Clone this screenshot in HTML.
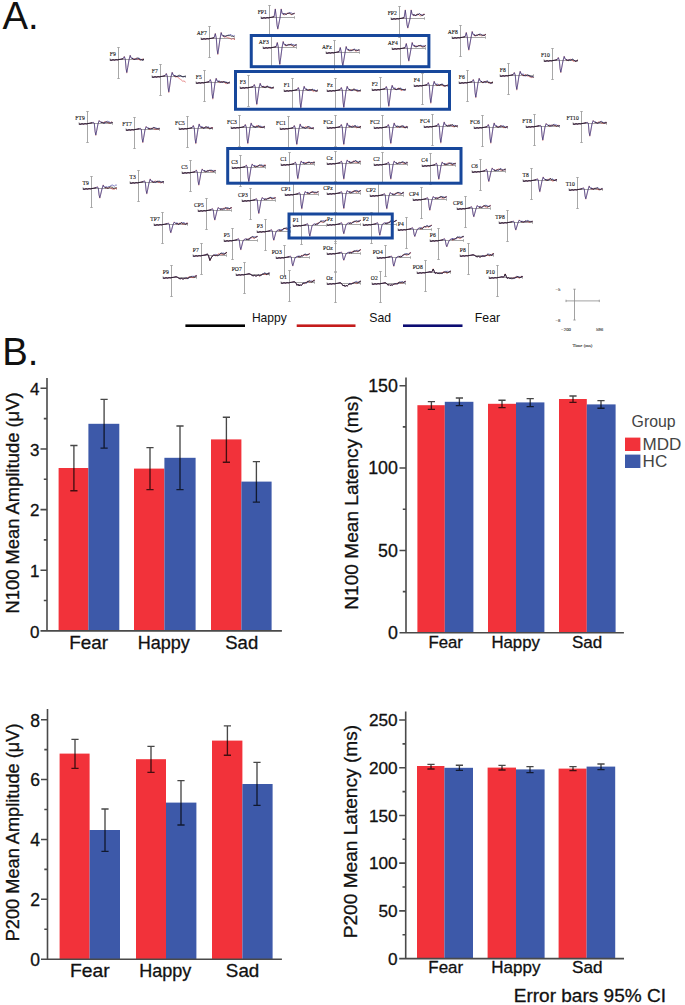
<!DOCTYPE html>
<html><head><meta charset="utf-8"><title>ERP figure</title>
<style>
html,body{margin:0;padding:0;background:#fff;}
body{width:685px;height:1005px;overflow:hidden;}
svg{display:block;}
text{font-family:"Liberation Sans",sans-serif;}
.el{font-family:"Liberation Serif",serif;font-size:7.0px;fill:#111;stroke:#111;stroke-width:0.14px;text-anchor:end;}
.sc{font-family:"Liberation Serif",serif;font-size:4.8px;fill:#333;stroke:#333;stroke-width:0.1px;}
.lg{font-size:12.5px;fill:#111;}
.lg2{fill:#444;}
.tk{fill:#111;stroke:#111;stroke-width:0.3px;}
.big{font-size:38.3px;fill:#111;}
</style></head><body>
<svg width="685" height="1005" viewBox="0 0 685 1005">
<rect width="685" height="1005" fill="#fff"/>
<g id="topo">
<path d="M261 17.5H294.5M261 16.3V18.7M294.5 16.3V18.7M269.5 5.5V36.5M268.3 5.5H270.7M268.3 36.5H270.7M391 18.5H424.5M391 17.3V19.7M424.5 17.3V19.7M399.5 6.5V37.5M398.3 6.5H400.7M398.3 37.5H400.7M201 38.5H234.5M201 37.3V39.7M234.5 37.3V39.7M209.5 26.5V57.5M208.3 26.5H210.7M208.3 57.5H210.7M263 47.5H296.5M263 46.3V48.7M296.5 46.3V48.7M271.5 35.5V66.5M270.3 35.5H272.7M270.3 66.5H272.7M326 52.5H359.5M326 51.3V53.7M359.5 51.3V53.7M334.5 40.5V71.5M333.3 40.5H335.7M333.3 71.5H335.7M392 48.5H425.5M392 47.3V49.7M425.5 47.3V49.7M400.5 36.5V67.5M399.3 36.5H401.7M399.3 67.5H401.7M452 37.5H485.5M452 36.3V38.7M485.5 36.3V38.7M460.5 25.5V56.5M459.3 25.5H461.7M459.3 56.5H461.7M110 59.5H143.5M110 58.3V60.7M143.5 58.3V60.7M118.5 47.5V78.5M117.3 47.5H119.7M117.3 78.5H119.7M152 76.5H185.5M152 75.3V77.7M185.5 75.3V77.7M160.5 64.5V95.5M159.3 64.5H161.7M159.3 95.5H161.7M196 82.5H229.5M196 81.3V83.7M229.5 81.3V83.7M204.5 70.5V101.5M203.3 70.5H205.7M203.3 101.5H205.7M240 87.5H273.5M240 86.3V88.7M273.5 86.3V88.7M248.5 75.5V106.5M247.3 75.5H249.7M247.3 106.5H249.7M284 90.5H317.5M284 89.3V91.7M317.5 89.3V91.7M292.5 78.5V109.5M291.3 78.5H293.7M291.3 109.5H293.7M327 90.5H360.5M327 89.3V91.7M360.5 89.3V91.7M335.5 78.5V109.5M334.3 78.5H336.7M334.3 109.5H336.7M372 89.5H405.5M372 88.3V90.7M405.5 88.3V90.7M380.5 77.5V108.5M379.3 77.5H381.7M379.3 108.5H381.7M414 85.5H447.5M414 84.3V86.7M447.5 84.3V86.7M422.5 73.5V104.5M421.3 73.5H423.7M421.3 104.5H423.7M459 82.5H492.5M459 81.3V83.7M492.5 81.3V83.7M467.5 70.5V101.5M466.3 70.5H468.7M466.3 101.5H468.7M500 75.5H533.5M500 74.3V76.7M533.5 74.3V76.7M508.5 63.5V94.5M507.3 63.5H509.7M507.3 94.5H509.7M544 60.5H577.5M544 59.3V61.7M577.5 59.3V61.7M552.5 48.5V79.5M551.3 48.5H553.7M551.3 79.5H553.7M79 123.5H112.5M79 122.3V124.7M112.5 122.3V124.7M87.5 111.5V142.5M86.3 111.5H88.7M86.3 142.5H88.7M126 129.5H159.5M126 128.3V130.7M159.5 128.3V130.7M134.5 117.5V148.5M133.3 117.5H135.7M133.3 148.5H135.7M179 128.5H212.5M179 127.3V129.7M212.5 127.3V129.7M187.5 116.5V147.5M186.3 116.5H188.7M186.3 147.5H188.7M231 127.5H264.5M231 126.3V128.7M264.5 126.3V128.7M239.5 115.5V146.5M238.3 115.5H240.7M238.3 146.5H240.7M280 128.5H313.5M280 127.3V129.7M313.5 127.3V129.7M288.5 116.5V147.5M287.3 116.5H289.7M287.3 147.5H289.7M327 127.5H360.5M327 126.3V128.7M360.5 126.3V128.7M335.5 115.5V146.5M334.3 115.5H336.7M334.3 146.5H336.7M374 127.5H407.5M374 126.3V128.7M407.5 126.3V128.7M382.5 115.5V146.5M381.3 115.5H383.7M381.3 146.5H383.7M424 126.5H457.5M424 125.3V127.7M457.5 125.3V127.7M432.5 114.5V145.5M431.3 114.5H433.7M431.3 145.5H433.7M474 127.5H507.5M474 126.3V128.7M507.5 126.3V128.7M482.5 115.5V146.5M481.3 115.5H483.7M481.3 146.5H483.7M526 126.5H559.5M526 125.3V127.7M559.5 125.3V127.7M534.5 114.5V145.5M533.3 114.5H535.7M533.3 145.5H535.7M573 123.5H606.5M573 122.3V124.7M606.5 122.3V124.7M581.5 111.5V142.5M580.3 111.5H582.7M580.3 142.5H582.7M83 188.5H116.5M83 187.3V189.7M116.5 187.3V189.7M91.5 176.5V207.5M90.3 176.5H92.7M90.3 207.5H92.7M130 182.5H163.5M130 181.3V183.7M163.5 181.3V183.7M138.5 170.5V201.5M137.3 170.5H139.7M137.3 201.5H139.7M182 172.5H215.5M182 171.3V173.7M215.5 171.3V173.7M190.5 160.5V191.5M189.3 160.5H191.7M189.3 191.5H191.7M232 167.5H265.5M232 166.3V168.7M265.5 166.3V168.7M240.5 155.5V186.5M239.3 155.5H241.7M239.3 186.5H241.7M281 164.5H314.5M281 163.3V165.7M314.5 163.3V165.7M289.5 152.5V183.5M288.3 152.5H290.7M288.3 183.5H290.7M327 163.5H360.5M327 162.3V164.7M360.5 162.3V164.7M335.5 151.5V182.5M334.3 151.5H336.7M334.3 182.5H336.7M374 164.5H407.5M374 163.3V165.7M407.5 163.3V165.7M382.5 152.5V183.5M381.3 152.5H383.7M381.3 183.5H383.7M422 165.5H455.5M422 164.3V166.7M455.5 164.3V166.7M430.5 153.5V184.5M429.3 153.5H431.7M429.3 184.5H431.7M472 171.5H505.5M472 170.3V172.7M505.5 170.3V172.7M480.5 159.5V190.5M479.3 159.5H481.7M479.3 190.5H481.7M523 180.5H556.5M523 179.3V181.7M556.5 179.3V181.7M531.5 168.5V199.5M530.3 168.5H532.7M530.3 199.5H532.7M569 189.5H602.5M569 188.3V190.7M602.5 188.3V190.7M577.5 177.5V208.5M576.3 177.5H578.7M576.3 208.5H578.7M154 224.5H187.5M154 223.3V225.7M187.5 223.3V225.7M162.5 212.5V243.5M161.3 212.5H163.7M161.3 243.5H163.7M198 210.5H231.5M198 209.3V211.7M231.5 209.3V211.7M206.5 198.5V229.5M205.3 198.5H207.7M205.3 229.5H207.7M242 200.5H275.5M242 199.3V201.7M275.5 199.3V201.7M250.5 188.5V219.5M249.3 188.5H251.7M249.3 219.5H251.7M285 194.5H318.5M285 193.3V195.7M318.5 193.3V195.7M293.5 182.5V213.5M292.3 182.5H294.7M292.3 213.5H294.7M327 193.5H360.5M327 192.3V194.7M360.5 192.3V194.7M335.5 181.5V212.5M334.3 181.5H336.7M334.3 212.5H336.7M370 195.5H403.5M370 194.3V196.7M403.5 194.3V196.7M378.5 183.5V214.5M377.3 183.5H379.7M377.3 214.5H379.7M413 199.5H446.5M413 198.3V200.7M446.5 198.3V200.7M421.5 187.5V218.5M420.3 187.5H422.7M420.3 218.5H422.7M457 208.5H490.5M457 207.3V209.7M490.5 207.3V209.7M465.5 196.5V227.5M464.3 196.5H466.7M464.3 227.5H466.7M499 222.5H532.5M499 221.3V223.7M532.5 221.3V223.7M507.5 210.5V241.5M506.3 210.5H508.7M506.3 241.5H508.7M193 255.5H226.5M193 254.3V256.7M226.5 254.3V256.7M201.5 243.5V274.5M200.3 243.5H202.7M200.3 274.5H202.7M224 240.5H257.5M224 239.3V241.7M257.5 239.3V241.7M232.5 228.5V259.5M231.3 228.5H233.7M231.3 259.5H233.7M257 231.5H290.5M257 230.3V232.7M290.5 230.3V232.7M265.5 219.5V250.5M264.3 219.5H266.7M264.3 250.5H266.7M293 225.5H326.5M293 224.3V226.7M326.5 224.3V226.7M301.5 213.5V244.5M300.3 213.5H302.7M300.3 244.5H302.7M327 224.5H360.5M327 223.3V225.7M360.5 223.3V225.7M335.5 212.5V243.5M334.3 212.5H336.7M334.3 243.5H336.7M363 224.5H396.5M363 223.3V225.7M396.5 223.3V225.7M371.5 212.5V243.5M370.3 212.5H372.7M370.3 243.5H372.7M398 229.5H431.5M398 228.3V230.7M431.5 228.3V230.7M406.5 217.5V248.5M405.3 217.5H407.7M405.3 248.5H407.7M430 240.5H463.5M430 239.3V241.7M463.5 239.3V241.7M438.5 228.5V259.5M437.3 228.5H439.7M437.3 259.5H439.7M460 255.5H493.5M460 254.3V256.7M493.5 254.3V256.7M468.5 243.5V274.5M467.3 243.5H469.7M467.3 274.5H469.7M163 277.5H196.5M163 276.3V278.7M196.5 276.3V278.7M171.5 265.5V296.5M170.3 265.5H172.7M170.3 296.5H172.7M489 277.5H522.5M489 276.3V278.7M522.5 276.3V278.7M497.5 265.5V296.5M496.3 265.5H498.7M496.3 296.5H498.7M236 274.5H269.5M236 273.3V275.7M269.5 273.3V275.7M244.5 262.5V293.5M243.3 262.5H245.7M243.3 293.5H245.7M276 257.5H309.5M276 256.3V258.7M309.5 256.3V258.7M284.5 245.5V276.5M283.3 245.5H285.7M283.3 276.5H285.7M327 253.5H360.5M327 252.3V254.7M360.5 252.3V254.7M335.5 241.5V272.5M334.3 241.5H336.7M334.3 272.5H336.7M377 257.5H410.5M377 256.3V258.7M410.5 256.3V258.7M385.5 245.5V276.5M384.3 245.5H386.7M384.3 276.5H386.7M417 272.5H450.5M417 271.3V273.7M450.5 271.3V273.7M425.5 260.5V291.5M424.3 260.5H426.7M424.3 291.5H426.7M281 282.5H314.5M281 281.3V283.7M314.5 281.3V283.7M289.5 270.5V301.5M288.3 270.5H290.7M288.3 301.5H290.7M327 283.5H360.5M327 282.3V284.7M360.5 282.3V284.7M335.5 271.5V302.5M334.3 271.5H336.7M334.3 302.5H336.7M372 283.5H405.5M372 282.3V284.7M405.5 282.3V284.7M380.5 271.5V302.5M379.3 271.5H381.7M379.3 302.5H381.7" stroke="#a2a2a2" stroke-width="0.95" fill="none"/>
<path d="M261 18 262.5 18.4 264 17.8 265.5 18.2 267 17.7 268.5 17.9 270 17.5 271.5 17.3 272.8 17 274.1 16.7M283.1 14 283.8 14.73 284.5 15.08 285.2 14.38 285.9 13.8 286.6 14.14 287.3 12.83 288 13.84 288.7 13.4 289.4 13.58 290.1 13.88 290.8 14.29 291.5 14.85 292.2 13.84 292.9 13.95 293.6 13.67 294.3 13.16 294.5 13.9" stroke="#d43030" stroke-width="0.65" fill="none" stroke-linejoin="round" stroke-opacity="0.85"/>
<path d="M274.1 16.7 275.3 8.68 276.3 17.3 277.1 25.87 277.8 29.46 278.7 24.92 280 17.8 281.2 8.68 282.2 13.6 283.1 14 283.8 14.73" stroke="#d43030" stroke-width="0.6" fill="none" stroke-linejoin="round" stroke-opacity="0.45"/>
<path d="M261 18 262.5 18.4 264 17.8 265.5 18.2 267 17.7 268.5 17.9 270 17.5 271.5 17.3 272.8 17 274.1 16.7M283.1 14 283.8 13.46 284.5 13.57 285.2 14.46 285.9 13.88 286.6 14.33 287.3 13.81 288 13.03 288.7 13.19 289.4 12.41 290.1 12.9 290.8 12.68 291.5 13.02 292.2 13.7 292.9 14.3 293.6 13.34 294.3 13.14 294.5 13.2" stroke="#28289a" stroke-width="0.7" fill="none" stroke-linejoin="round" stroke-opacity="0.85"/>
<path d="M274.1 16.7 275.3 9.24 276.3 17.3 277.1 25.31 277.8 28.66 278.7 24.42 280 17.8 281.2 9.24 282.2 13.6 283.1 14 283.8 13.46" stroke="#2a2a96" stroke-width="0.7" fill="none" stroke-linejoin="round" stroke-opacity="0.9"/>
<path d="M261 18 262.5 18.4 264 17.8 265.5 18.2 267 17.7 268.5 17.9 270 17.5 271.5 17.3 272.8 17 274.1 16.7" stroke="#1a1a1a" stroke-width="0.8" fill="none" stroke-linejoin="round"/>
<path d="M283.1 14 283.8 14.21 284.5 13.9 285.2 13.98 285.9 14.01 286.6 14.25 287.3 13.54 288 13.08 288.7 13.26 289.4 13.18 290.1 13.27 290.8 14.2 291.5 14.36 292.2 13.89 292.9 14.14 293.6 13.75 294.3 13.77 294.5 13.5" stroke="#1a1a1a" stroke-width="0.7" fill="none" stroke-linejoin="round"/>
<path d="M274.1 16.7 275.3 9 276.3 17.3 277.1 25.55 277.8 29 278.7 24.63 280 17.8 281.2 9 282.2 13.6 283.1 14 283.8 14.21" stroke="#333" stroke-width="0.35" fill="none" stroke-linejoin="round" stroke-opacity="0.6"/>
<path d="M391 19 392.5 19.4 394 18.8 395.5 19.2 397 18.7 398.5 18.9 400 18.5 401.5 18.3 402.8 18 404.1 17.7M413.1 15 413.8 15.67 414.5 15.49 415.2 15.7 415.9 15.45 416.6 14.54 417.3 14.57 418 13.88 418.7 14.89 419.4 15.18 420.1 15.93 420.8 15.91 421.5 15.22 422.2 15.08 422.9 15.05 423.6 13.93 424.3 14.27 424.5 14.9" stroke="#d43030" stroke-width="0.65" fill="none" stroke-linejoin="round" stroke-opacity="0.85"/>
<path d="M404.1 17.7 405.3 9.68 406.3 18.3 407.1 25.42 407.8 28.38 408.7 24.63 410 18.8 411.2 9.68 412.2 14.6 413.1 15 413.8 15.67" stroke="#d43030" stroke-width="0.6" fill="none" stroke-linejoin="round" stroke-opacity="0.45"/>
<path d="M391 19 392.5 19.4 394 18.8 395.5 19.2 397 18.7 398.5 18.9 400 18.5 401.5 18.3 402.8 18 404.1 17.7M413.1 15 413.8 14.95 414.5 14.74 415.2 15.85 415.9 14.94 416.6 15.19 417.3 15.28 418 14.14 418.7 14.17 419.4 13.41 420.1 14.18 420.8 14.51 421.5 14.6 422.2 15.24 422.9 14.68 423.6 15.03 424.3 14.59 424.5 14.2" stroke="#28289a" stroke-width="0.7" fill="none" stroke-linejoin="round" stroke-opacity="0.85"/>
<path d="M404.1 17.7 405.3 10.24 406.3 18.3 407.1 24.95 407.8 27.71 408.7 24.21 410 18.8 411.2 10.24 412.2 14.6 413.1 15 413.8 14.95" stroke="#2a2a96" stroke-width="0.7" fill="none" stroke-linejoin="round" stroke-opacity="0.9"/>
<path d="M391 19 392.5 19.4 394 18.8 395.5 19.2 397 18.7 398.5 18.9 400 18.5 401.5 18.3 402.8 18 404.1 17.7" stroke="#1a1a1a" stroke-width="0.8" fill="none" stroke-linejoin="round"/>
<path d="M413.1 15 413.8 14.75 414.5 14.96 415.2 14.98 415.9 15.69 416.6 14.59 417.3 14.33 418 14.17 418.7 14.6 419.4 13.74 420.1 14.45 420.8 14.91 421.5 15.58 422.2 15.58 422.9 15.49 423.6 14.45 424.3 14.21 424.5 14.5" stroke="#1a1a1a" stroke-width="0.7" fill="none" stroke-linejoin="round"/>
<path d="M404.1 17.7 405.3 10 406.3 18.3 407.1 25.15 407.8 28 408.7 24.39 410 18.8 411.2 10 412.2 14.6 413.1 15 413.8 14.75" stroke="#333" stroke-width="0.35" fill="none" stroke-linejoin="round" stroke-opacity="0.6"/>
<path d="M201 39 202.5 39.4 204 38.8 205.5 39.2 207 38.7 208.5 38.9 210 38.5 211.5 38.3 212.8 38 214.1 37.7M223.1 36 223.8 36.84 224.5 37.17 225.2 37.24 225.9 36.37 226.6 37.28 227.3 37.19 228 37.58 228.7 37.97 229.4 38.09 230.1 38.67 230.8 38.75 231.5 39.58 232.2 38.89 232.9 38.77 233.6 38.84 234.3 38.84 234.5 39.9" stroke="#d43030" stroke-width="0.65" fill="none" stroke-linejoin="round" stroke-opacity="0.85"/>
<path d="M214.1 37.7 215.3 33.18 216.3 38.3 217.1 49.97 217.8 54.88 218.7 48.66 220 38.8 221.2 32.18 222.2 35.6 223.1 36 223.8 36.84" stroke="#d43030" stroke-width="0.6" fill="none" stroke-linejoin="round" stroke-opacity="0.45"/>
<path d="M201 39 202.5 39.4 204 38.8 205.5 39.2 207 38.7 208.5 38.9 210 38.5 211.5 38.3 212.8 38 214.1 37.7M223.1 36 223.8 35.49 224.5 36.43 225.2 36.79 225.9 35.93 226.6 35.84 227.3 35.58 228 35.15 228.7 35.06 229.4 34.96 230.1 34.57 230.8 34.46 231.5 35.27 232.2 35.48 232.9 35.81 233.6 36.15 234.3 35.51 234.5 35" stroke="#28289a" stroke-width="0.7" fill="none" stroke-linejoin="round" stroke-opacity="0.85"/>
<path d="M214.1 37.7 215.3 33.74 216.3 38.3 217.1 49.19 217.8 53.78 218.7 47.97 220 38.8 221.2 32.74 222.2 35.6 223.1 36 223.8 35.49" stroke="#2a2a96" stroke-width="0.7" fill="none" stroke-linejoin="round" stroke-opacity="0.9"/>
<path d="M201 39 202.5 39.4 204 38.8 205.5 39.2 207 38.7 208.5 38.9 210 38.5 211.5 38.3 212.8 38 214.1 37.7" stroke="#1a1a1a" stroke-width="0.8" fill="none" stroke-linejoin="round"/>
<path d="M223.1 36 223.8 35.99 224.5 35.95 225.2 36 225.9 36.07 226.6 35.71 227.3 35.65 228 34.95 228.7 35.85 229.4 35.65 230.1 35.4 230.8 35.89 231.5 36.31 232.2 36.44 232.9 36.03 233.6 36.6 234.3 36.4 234.5 36" stroke="#1a1a1a" stroke-width="0.7" fill="none" stroke-linejoin="round"/>
<path d="M214.1 37.7 215.3 33.5 216.3 38.3 217.1 49.52 217.8 54.25 218.7 48.27 220 38.8 221.2 32.5 222.2 35.6 223.1 36 223.8 35.99" stroke="#333" stroke-width="0.35" fill="none" stroke-linejoin="round" stroke-opacity="0.6"/>
<path d="M263 48 264.5 48.4 266 47.8 267.5 48.2 269 47.7 270.5 47.9 272 47.5 273.5 47.3 274.8 47 276.1 46.7M285.1 45 285.8 46.05 286.5 45.84 287.2 45.09 287.9 44.88 288.6 44.33 289.3 44.89 290 44.66 290.7 45.23 291.4 45.08 292.1 45.31 292.8 46.23 293.5 46.42 294.2 46.04 294.9 45.65 295.6 45.35 296.3 45.09 296.5 45.4" stroke="#d43030" stroke-width="0.65" fill="none" stroke-linejoin="round" stroke-opacity="0.85"/>
<path d="M276.1 46.7 277.3 42.18 278.3 47.3 279.1 59.88 279.8 65.18 280.7 58.46 282 47.8 283.2 41.18 284.2 44.6 285.1 45 285.8 46.05" stroke="#d43030" stroke-width="0.6" fill="none" stroke-linejoin="round" stroke-opacity="0.45"/>
<path d="M263 48 264.5 48.4 266 47.8 267.5 48.2 269 47.7 270.5 47.9 272 47.5 273.5 47.3 274.8 47 276.1 46.7M285.1 45 285.8 44.67 286.5 45.04 287.2 44.87 287.9 45.04 288.6 45.25 289.3 44.88 290 45.17 290.7 44.02 291.4 43.67 292.1 44.83 292.8 44.57 293.5 44.46 294.2 45.24 294.9 44.77 295.6 45.29 296.3 45.54 296.5 44.7" stroke="#28289a" stroke-width="0.7" fill="none" stroke-linejoin="round" stroke-opacity="0.85"/>
<path d="M276.1 46.7 277.3 42.74 278.3 47.3 279.1 59.04 279.8 63.99 280.7 57.72 282 47.8 283.2 41.74 284.2 44.6 285.1 45 285.8 44.67" stroke="#2a2a96" stroke-width="0.7" fill="none" stroke-linejoin="round" stroke-opacity="0.9"/>
<path d="M263 48 264.5 48.4 266 47.8 267.5 48.2 269 47.7 270.5 47.9 272 47.5 273.5 47.3 274.8 47 276.1 46.7" stroke="#1a1a1a" stroke-width="0.8" fill="none" stroke-linejoin="round"/>
<path d="M285.1 45 285.8 44.85 286.5 45.5 287.2 45.43 287.9 44.92 288.6 44.62 289.3 44.55 290 44.23 290.7 44.63 291.4 45.06 292.1 44.75 292.8 45.71 293.5 46.07 294.2 46.15 294.9 45.32 295.6 44.84 296.3 44.48 296.5 45" stroke="#1a1a1a" stroke-width="0.7" fill="none" stroke-linejoin="round"/>
<path d="M276.1 46.7 277.3 42.5 278.3 47.3 279.1 59.4 279.8 64.5 280.7 58.04 282 47.8 283.2 41.5 284.2 44.6 285.1 45 285.8 44.85" stroke="#333" stroke-width="0.35" fill="none" stroke-linejoin="round" stroke-opacity="0.6"/>
<path d="M326 53 327.5 53.4 329 52.8 330.5 53.2 332 52.7 333.5 52.9 335 52.5 336.5 52.3 337.8 52 339.1 51.7M348.1 50 348.8 50.41 349.5 50.96 350.2 50.95 350.9 49.92 351.6 49.61 352.3 50.1 353 49.89 353.7 49.5 354.4 49.83 355.1 50.23 355.8 51.34 356.5 51.21 357.2 50.19 357.9 50.67 358.6 50.54 359.3 49.99 359.5 50.4" stroke="#d43030" stroke-width="0.65" fill="none" stroke-linejoin="round" stroke-opacity="0.85"/>
<path d="M339.1 51.7 340.3 47.18 341.3 52.3 342.1 62.33 342.8 66.54 343.7 61.2 345 52.8 346.2 46.18 347.2 49.6 348.1 50 348.8 50.41" stroke="#d43030" stroke-width="0.6" fill="none" stroke-linejoin="round" stroke-opacity="0.45"/>
<path d="M326 53 327.5 53.4 329 52.8 330.5 53.2 332 52.7 333.5 52.9 335 52.5 336.5 52.3 337.8 52 339.1 51.7M348.1 50 348.8 49.34 349.5 49.7 350.2 50.52 350.9 51 351.6 50.85 352.3 50.14 353 49.96 353.7 49.79 354.4 48.74 355.1 49.48 355.8 50.02 356.5 50.22 357.2 50.49 357.9 50.31 358.6 49.87 359.3 50.31 359.5 49.7" stroke="#28289a" stroke-width="0.7" fill="none" stroke-linejoin="round" stroke-opacity="0.85"/>
<path d="M339.1 51.7 340.3 47.74 341.3 52.3 342.1 61.67 342.8 65.59 343.7 60.62 345 52.8 346.2 46.74 347.2 49.6 348.1 50 348.8 49.34" stroke="#2a2a96" stroke-width="0.7" fill="none" stroke-linejoin="round" stroke-opacity="0.9"/>
<path d="M326 53 327.5 53.4 329 52.8 330.5 53.2 332 52.7 333.5 52.9 335 52.5 336.5 52.3 337.8 52 339.1 51.7" stroke="#1a1a1a" stroke-width="0.8" fill="none" stroke-linejoin="round"/>
<path d="M348.1 50 348.8 50 349.5 50.54 350.2 50.16 350.9 49.9 351.6 50.75 352.3 50 353 49.55 353.7 49.92 354.4 49.44 355.1 50.26 355.8 50.58 356.5 50.14 357.2 50.3 357.9 50.23 358.6 49.87 359.3 49.91 359.5 50" stroke="#1a1a1a" stroke-width="0.7" fill="none" stroke-linejoin="round"/>
<path d="M339.1 51.7 340.3 47.5 341.3 52.3 342.1 61.95 342.8 66 343.7 60.87 345 52.8 346.2 46.5 347.2 49.6 348.1 50 348.8 50" stroke="#333" stroke-width="0.35" fill="none" stroke-linejoin="round" stroke-opacity="0.6"/>
<path d="M392 49 393.5 49.4 395 48.8 396.5 49.2 398 48.7 399.5 48.9 401 48.5 402.5 48.3 403.8 48 405.1 47.7M414.1 46 414.8 46.01 415.5 46.96 416.2 45.99 416.9 46.01 417.6 46 418.3 45.63 419 45.41 419.7 45.92 420.4 46.35 421.1 46.99 421.8 46.38 422.5 46.92 423.2 46.32 423.9 46.01 424.6 46.29 425.3 45.81 425.5 46.4" stroke="#d43030" stroke-width="0.65" fill="none" stroke-linejoin="round" stroke-opacity="0.85"/>
<path d="M405.1 47.7 406.3 43.18 407.3 48.3 408.1 57.6 408.8 61.5 409.7 56.56 411 48.8 412.2 42.18 413.2 45.6 414.1 46 414.8 46.01" stroke="#d43030" stroke-width="0.6" fill="none" stroke-linejoin="round" stroke-opacity="0.45"/>
<path d="M392 49 393.5 49.4 395 48.8 396.5 49.2 398 48.7 399.5 48.9 401 48.5 402.5 48.3 403.8 48 405.1 47.7M414.1 46 414.8 45.42 415.5 45.96 416.2 45.93 416.9 47.01 417.6 46.27 418.3 46.11 419 45.87 419.7 45.91 420.4 45.15 421.1 45.79 421.8 45.53 422.5 45.92 423.2 46.22 423.9 45.76 424.6 46.18 425.3 45.59 425.5 45.7" stroke="#28289a" stroke-width="0.7" fill="none" stroke-linejoin="round" stroke-opacity="0.85"/>
<path d="M405.1 47.7 406.3 43.74 407.3 48.3 408.1 56.99 408.8 60.62 409.7 56.02 411 48.8 412.2 42.74 413.2 45.6 414.1 46 414.8 45.42" stroke="#2a2a96" stroke-width="0.7" fill="none" stroke-linejoin="round" stroke-opacity="0.9"/>
<path d="M392 49 393.5 49.4 395 48.8 396.5 49.2 398 48.7 399.5 48.9 401 48.5 402.5 48.3 403.8 48 405.1 47.7" stroke="#1a1a1a" stroke-width="0.8" fill="none" stroke-linejoin="round"/>
<path d="M414.1 46 414.8 46.25 415.5 46.79 416.2 47.09 416.9 46.42 417.6 46.32 418.3 45.82 419 45.53 419.7 45.63 420.4 45.46 421.1 45.86 421.8 46.16 422.5 47.02 423.2 46.84 423.9 46.93 424.6 46.71 425.3 45.52 425.5 46" stroke="#1a1a1a" stroke-width="0.7" fill="none" stroke-linejoin="round"/>
<path d="M405.1 47.7 406.3 43.5 407.3 48.3 408.1 57.25 408.8 61 409.7 56.25 411 48.8 412.2 42.5 413.2 45.6 414.1 46 414.8 46.25" stroke="#333" stroke-width="0.35" fill="none" stroke-linejoin="round" stroke-opacity="0.6"/>
<path d="M452 38 453.5 38.4 455 37.8 456.5 38.2 458 37.7 459.5 37.9 461 37.5 462.5 37.3 463.8 37 465.1 36.7M474.1 35 474.8 36.07 475.5 36.16 476.2 35.04 476.9 35.59 477.6 34.6 478.3 34.55 479 35.21 479.7 35.29 480.4 34.87 481.1 35.56 481.8 35.88 482.5 35.65 483.2 35.25 483.9 35.06 484.6 35.23 485.3 34.23 485.5 35.4" stroke="#d43030" stroke-width="0.65" fill="none" stroke-linejoin="round" stroke-opacity="0.85"/>
<path d="M465.1 36.7 466.3 32.18 467.3 37.3 468.1 46.6 468.8 50.5 469.7 45.56 471 37.8 472.2 31.18 473.2 34.6 474.1 35 474.8 36.07" stroke="#d43030" stroke-width="0.6" fill="none" stroke-linejoin="round" stroke-opacity="0.45"/>
<path d="M452 38 453.5 38.4 455 37.8 456.5 38.2 458 37.7 459.5 37.9 461 37.5 462.5 37.3 463.8 37 465.1 36.7M474.1 35 474.8 34.78 475.5 35.59 476.2 35.78 476.9 35.08 477.6 34.99 478.3 35.09 479 34.26 479.7 34.11 480.4 33.73 481.1 34.49 481.8 34.87 482.5 35.36 483.2 34.78 483.9 35.6 484.6 35.45 485.3 34.54 485.5 34.7" stroke="#28289a" stroke-width="0.7" fill="none" stroke-linejoin="round" stroke-opacity="0.85"/>
<path d="M465.1 36.7 466.3 32.74 467.3 37.3 468.1 45.99 468.8 49.62 469.7 45.02 471 37.8 472.2 31.74 473.2 34.6 474.1 35 474.8 34.78" stroke="#2a2a96" stroke-width="0.7" fill="none" stroke-linejoin="round" stroke-opacity="0.9"/>
<path d="M452 38 453.5 38.4 455 37.8 456.5 38.2 458 37.7 459.5 37.9 461 37.5 462.5 37.3 463.8 37 465.1 36.7" stroke="#1a1a1a" stroke-width="0.8" fill="none" stroke-linejoin="round"/>
<path d="M474.1 35 474.8 35.24 475.5 35.41 476.2 35.02 476.9 35.29 477.6 35.34 478.3 34.83 479 33.99 479.7 34.98 480.4 34.86 481.1 35.38 481.8 34.71 482.5 35.21 483.2 35.05 483.9 35.82 484.6 34.9 485.3 34.36 485.5 35" stroke="#1a1a1a" stroke-width="0.7" fill="none" stroke-linejoin="round"/>
<path d="M465.1 36.7 466.3 32.5 467.3 37.3 468.1 46.25 468.8 50 469.7 45.25 471 37.8 472.2 31.5 473.2 34.6 474.1 35 474.8 35.24" stroke="#333" stroke-width="0.35" fill="none" stroke-linejoin="round" stroke-opacity="0.6"/>
<path d="M110 60 111.5 60.4 113 59.8 114.5 60.2 116 59.7 117.5 59.9 119 59.5 120.5 59.3 121.8 59 123.1 58.7M132.1 58.5 132.8 58.68 133.5 59.68 134.2 58.58 134.9 59.27 135.6 58.54 136.3 58.31 137 58.7 137.7 59.49 138.4 59.17 139.1 59.44 139.8 60.2 140.5 59.91 141.2 59.61 141.9 59.4 142.6 59.03 143.3 59.13 143.5 60.1" stroke="#d43030" stroke-width="0.65" fill="none" stroke-linejoin="round" stroke-opacity="0.85"/>
<path d="M123.1 58.7 124.3 56.18 125.3 59.3 126.1 69.15 126.8 73.28 127.7 68.04 129 59.8 130.2 54.98 131.2 58.1 132.1 58.5 132.8 58.68" stroke="#d43030" stroke-width="0.6" fill="none" stroke-linejoin="round" stroke-opacity="0.45"/>
<path d="M110 60 111.5 60.4 113 59.8 114.5 60.2 116 59.7 117.5 59.9 119 59.5 120.5 59.3 121.8 59 123.1 58.7M132.1 58.5 132.8 58.19 133.5 59.2 134.2 59.47 134.9 59.02 135.6 58.89 136.3 59.61 137 58.87 137.7 58.76 138.4 57.91 139.1 57.99 139.8 59.07 140.5 59.18 141.2 59.14 141.9 60.39 142.6 60.02 143.3 60.01 143.5 59.4" stroke="#28289a" stroke-width="0.7" fill="none" stroke-linejoin="round" stroke-opacity="0.85"/>
<path d="M123.1 58.7 124.3 56.74 125.3 59.3 126.1 68.5 126.8 72.35 127.7 67.47 129 59.8 130.2 55.54 131.2 58.1 132.1 58.5 132.8 58.19" stroke="#2a2a96" stroke-width="0.7" fill="none" stroke-linejoin="round" stroke-opacity="0.9"/>
<path d="M110 60 111.5 60.4 113 59.8 114.5 60.2 116 59.7 117.5 59.9 119 59.5 120.5 59.3 121.8 59 123.1 58.7" stroke="#1a1a1a" stroke-width="0.8" fill="none" stroke-linejoin="round"/>
<path d="M132.1 58.5 132.8 58.53 133.5 58.9 134.2 59.63 134.9 59.03 135.6 59.06 136.3 58.37 137 58.35 137.7 57.91 138.4 58.38 139.1 58.47 139.8 59.78 140.5 59.93 141.2 59.69 141.9 59.98 142.6 60.3 143.3 59.01 143.5 59.7" stroke="#1a1a1a" stroke-width="0.7" fill="none" stroke-linejoin="round"/>
<path d="M123.1 58.7 124.3 56.5 125.3 59.3 126.1 68.78 126.8 72.75 127.7 67.72 129 59.8 130.2 55.3 131.2 58.1 132.1 58.5 132.8 58.53" stroke="#333" stroke-width="0.35" fill="none" stroke-linejoin="round" stroke-opacity="0.6"/>
<path d="M152 77 153.5 77.4 155 76.8 156.5 77.2 158 76.7 159.5 76.9 161 76.5 162.5 76.3 163.8 76 165.1 75.7M174.1 75.5 174.8 75.99 175.5 77.19 176.2 76.79 176.9 76.74 177.6 76.72 178.3 77.87 179 78.36 179.7 78.79 180.4 79.11 181.1 79.83 181.8 80.5 182.5 81.08 183.2 80.9 183.9 81.3 184.6 81.17 185.3 82.25 185.5 82.4" stroke="#d43030" stroke-width="0.65" fill="none" stroke-linejoin="round" stroke-opacity="0.85"/>
<path d="M165.1 75.7 166.3 73.18 167.3 76.3 168.1 87.97 168.8 92.88 169.7 86.66 171 76.8 172.2 71.98 173.2 75.1 174.1 75.5 174.8 75.99" stroke="#d43030" stroke-width="0.6" fill="none" stroke-linejoin="round" stroke-opacity="0.45"/>
<path d="M152 77 153.5 77.4 155 76.8 156.5 77.2 158 76.7 159.5 76.9 161 76.5 162.5 76.3 163.8 76 165.1 75.7M174.1 75.5 174.8 75.68 175.5 75.66 176.2 76.14 176.9 76.79 177.6 76.27 178.3 76.22 179 76.14 179.7 76.24 180.4 75.38 181.1 76.1 181.8 76.29 182.5 76.65 183.2 76.77 183.9 76.94 184.6 76.6 185.3 76.5 185.5 76.7" stroke="#28289a" stroke-width="0.7" fill="none" stroke-linejoin="round" stroke-opacity="0.85"/>
<path d="M165.1 75.7 166.3 73.74 167.3 76.3 168.1 87.19 168.8 91.78 169.7 85.97 171 76.8 172.2 72.54 173.2 75.1 174.1 75.5 174.8 75.68" stroke="#2a2a96" stroke-width="0.7" fill="none" stroke-linejoin="round" stroke-opacity="0.9"/>
<path d="M152 77 153.5 77.4 155 76.8 156.5 77.2 158 76.7 159.5 76.9 161 76.5 162.5 76.3 163.8 76 165.1 75.7" stroke="#1a1a1a" stroke-width="0.8" fill="none" stroke-linejoin="round"/>
<path d="M174.1 75.5 174.8 76.32 175.5 76.19 176.2 76.01 176.9 76.84 177.6 75.83 178.3 75.59 179 74.93 179.7 75.35 180.4 75.65 181.1 76.06 181.8 76.14 182.5 76.88 183.2 76.46 183.9 76.73 184.6 76.29 185.3 76.36 185.5 76.7" stroke="#1a1a1a" stroke-width="0.7" fill="none" stroke-linejoin="round"/>
<path d="M165.1 75.7 166.3 73.5 167.3 76.3 168.1 87.53 168.8 92.25 169.7 86.27 171 76.8 172.2 72.3 173.2 75.1 174.1 75.5 174.8 76.32" stroke="#333" stroke-width="0.35" fill="none" stroke-linejoin="round" stroke-opacity="0.6"/>
<path d="M196 83 197.5 83.4 199 82.8 200.5 83.2 202 82.7 203.5 82.9 205 82.5 206.5 82.3 207.8 82 209.1 81.7M218.1 81.5 218.8 81.64 219.5 82.65 220.2 82.57 220.9 81.99 221.6 81.88 222.3 81.88 223 81.2 223.7 82.01 224.4 82.45 225.1 83.28 225.8 83.53 226.5 83.62 227.2 83.18 227.9 83.28 228.6 82.79 229.3 82.72 229.5 83.1" stroke="#d43030" stroke-width="0.65" fill="none" stroke-linejoin="round" stroke-opacity="0.85"/>
<path d="M209.1 81.7 210.3 79.18 211.3 82.3 212.1 94.33 212.8 99.4 213.7 92.98 215 82.8 216.2 77.98 217.2 81.1 218.1 81.5 218.8 81.64" stroke="#d43030" stroke-width="0.6" fill="none" stroke-linejoin="round" stroke-opacity="0.45"/>
<path d="M196 83 197.5 83.4 199 82.8 200.5 83.2 202 82.7 203.5 82.9 205 82.5 206.5 82.3 207.8 82 209.1 81.7M218.1 81.5 218.8 80.73 219.5 81.13 220.2 81.85 220.9 81.99 221.6 82.41 222.3 82.14 223 82.09 223.7 81.7 224.4 81.66 225.1 81.98 225.8 81.71 226.5 82.06 227.2 83.23 227.9 82.45 228.6 83.13 229.3 82.82 229.5 82.4" stroke="#28289a" stroke-width="0.7" fill="none" stroke-linejoin="round" stroke-opacity="0.85"/>
<path d="M209.1 81.7 210.3 79.74 211.3 82.3 212.1 93.53 212.8 98.26 213.7 92.27 215 82.8 216.2 78.54 217.2 81.1 218.1 81.5 218.8 80.73" stroke="#2a2a96" stroke-width="0.7" fill="none" stroke-linejoin="round" stroke-opacity="0.9"/>
<path d="M196 83 197.5 83.4 199 82.8 200.5 83.2 202 82.7 203.5 82.9 205 82.5 206.5 82.3 207.8 82 209.1 81.7" stroke="#1a1a1a" stroke-width="0.8" fill="none" stroke-linejoin="round"/>
<path d="M218.1 81.5 218.8 81.43 219.5 81.57 220.2 81.88 220.9 82.11 221.6 81.58 222.3 82.16 223 81.6 223.7 81.64 224.4 81.83 225.1 82.27 225.8 82.49 226.5 82.28 227.2 83.42 227.9 83.31 228.6 82.79 229.3 82.53 229.5 82.7" stroke="#1a1a1a" stroke-width="0.7" fill="none" stroke-linejoin="round"/>
<path d="M209.1 81.7 210.3 79.5 211.3 82.3 212.1 93.88 212.8 98.75 213.7 92.58 215 82.8 216.2 78.3 217.2 81.1 218.1 81.5 218.8 81.43" stroke="#333" stroke-width="0.35" fill="none" stroke-linejoin="round" stroke-opacity="0.6"/>
<path d="M240 88 241.5 88.4 243 87.8 244.5 88.2 246 87.7 247.5 87.9 249 87.5 250.5 87.3 251.8 87 253.1 86.7M262.1 86.5 262.8 87.35 263.5 86.74 264.2 86.68 264.9 86.54 265.6 86.89 266.3 86.27 267 86.72 267.7 86.4 268.4 86.92 269.1 87.61 269.8 88.37 270.5 88.46 271.2 88.29 271.9 87.56 272.6 87.59 273.3 87.44 273.5 88.1" stroke="#d43030" stroke-width="0.65" fill="none" stroke-linejoin="round" stroke-opacity="0.85"/>
<path d="M253.1 86.7 254.3 84.18 255.3 87.3 256.1 99.88 256.8 105.18 257.7 98.46 259 87.8 260.2 82.98 261.2 86.1 262.1 86.5 262.8 87.35" stroke="#d43030" stroke-width="0.6" fill="none" stroke-linejoin="round" stroke-opacity="0.45"/>
<path d="M240 88 241.5 88.4 243 87.8 244.5 88.2 246 87.7 247.5 87.9 249 87.5 250.5 87.3 251.8 87 253.1 86.7M262.1 86.5 262.8 86.47 263.5 86.18 264.2 87.37 264.9 87.02 265.6 86.8 266.3 86.82 267 87.07 267.7 86.16 268.4 86.69 269.1 87.09 269.8 86.83 270.5 87.12 271.2 87.62 271.9 88.09 272.6 88.18 273.3 87.79 273.5 87.4" stroke="#28289a" stroke-width="0.7" fill="none" stroke-linejoin="round" stroke-opacity="0.85"/>
<path d="M253.1 86.7 254.3 84.74 255.3 87.3 256.1 99.04 256.8 103.99 257.7 97.72 259 87.8 260.2 83.54 261.2 86.1 262.1 86.5 262.8 86.47" stroke="#2a2a96" stroke-width="0.7" fill="none" stroke-linejoin="round" stroke-opacity="0.9"/>
<path d="M240 88 241.5 88.4 243 87.8 244.5 88.2 246 87.7 247.5 87.9 249 87.5 250.5 87.3 251.8 87 253.1 86.7" stroke="#1a1a1a" stroke-width="0.8" fill="none" stroke-linejoin="round"/>
<path d="M262.1 86.5 262.8 86.71 263.5 86.67 264.2 87.79 264.9 86.92 265.6 87.63 266.3 87.28 267 85.95 267.7 86.44 268.4 87.06 269.1 87.62 269.8 87.44 270.5 87.59 271.2 87.71 271.9 88.55 272.6 87.44 273.3 87.58 273.5 87.7" stroke="#1a1a1a" stroke-width="0.7" fill="none" stroke-linejoin="round"/>
<path d="M253.1 86.7 254.3 84.5 255.3 87.3 256.1 99.4 256.8 104.5 257.7 98.04 259 87.8 260.2 83.3 261.2 86.1 262.1 86.5 262.8 86.71" stroke="#333" stroke-width="0.35" fill="none" stroke-linejoin="round" stroke-opacity="0.6"/>
<path d="M284 91 285.5 91.4 287 90.8 288.5 91.2 290 90.7 291.5 90.9 293 90.5 294.5 90.3 295.8 90 297.1 89.7M306.1 89.5 306.8 89.75 307.5 90.06 308.2 89.88 308.9 90.25 309.6 89 310.3 89.8 311 90.04 311.7 89.53 312.4 90.96 313.1 91.14 313.8 91.65 314.5 90.97 315.2 90.92 315.9 90.68 316.6 91.17 317.3 90.59 317.5 91.1" stroke="#d43030" stroke-width="0.65" fill="none" stroke-linejoin="round" stroke-opacity="0.85"/>
<path d="M297.1 89.7 298.3 87.18 299.3 90.3 300.1 103.24 300.8 108.7 301.7 101.78 303 90.8 304.2 85.98 305.2 89.1 306.1 89.5 306.8 89.75" stroke="#d43030" stroke-width="0.6" fill="none" stroke-linejoin="round" stroke-opacity="0.45"/>
<path d="M284 91 285.5 91.4 287 90.8 288.5 91.2 290 90.7 291.5 90.9 293 90.5 294.5 90.3 295.8 90 297.1 89.7M306.1 89.5 306.8 88.85 307.5 89.73 308.2 90.63 308.9 89.87 309.6 90.69 310.3 90.11 311 90.25 311.7 89.76 312.4 89.08 313.1 90 313.8 89.83 314.5 89.69 315.2 90.05 315.9 90.86 316.6 90.8 317.3 90.41 317.5 90.4" stroke="#28289a" stroke-width="0.7" fill="none" stroke-linejoin="round" stroke-opacity="0.85"/>
<path d="M297.1 89.7 298.3 87.74 299.3 90.3 300.1 102.38 300.8 107.47 301.7 101.02 303 90.8 304.2 86.54 305.2 89.1 306.1 89.5 306.8 88.85" stroke="#2a2a96" stroke-width="0.7" fill="none" stroke-linejoin="round" stroke-opacity="0.9"/>
<path d="M284 91 285.5 91.4 287 90.8 288.5 91.2 290 90.7 291.5 90.9 293 90.5 294.5 90.3 295.8 90 297.1 89.7" stroke="#1a1a1a" stroke-width="0.8" fill="none" stroke-linejoin="round"/>
<path d="M306.1 89.5 306.8 89.59 307.5 90.04 308.2 90.05 308.9 89.74 309.6 89.58 310.3 90.16 311 89.27 311.7 90.01 312.4 89.38 313.1 89.77 313.8 90.51 314.5 90.5 315.2 90.91 315.9 91.56 316.6 91.24 317.3 90.86 317.5 90.7" stroke="#1a1a1a" stroke-width="0.7" fill="none" stroke-linejoin="round"/>
<path d="M297.1 89.7 298.3 87.5 299.3 90.3 300.1 102.75 300.8 108 301.7 101.35 303 90.8 304.2 86.3 305.2 89.1 306.1 89.5 306.8 89.59" stroke="#333" stroke-width="0.35" fill="none" stroke-linejoin="round" stroke-opacity="0.6"/>
<path d="M327 91 328.5 91.4 330 90.8 331.5 91.2 333 90.7 334.5 90.9 336 90.5 337.5 90.3 338.8 90 340.1 89.7M349.1 89.5 349.8 89.94 350.5 90.54 351.2 90.67 351.9 89.55 352.6 89.78 353.3 89.26 354 89.71 354.7 89.86 355.4 90.05 356.1 90.48 356.8 90.82 357.5 91.71 358.2 91.07 358.9 90.47 359.6 91.06 360.3 91.08 360.5 91.1" stroke="#d43030" stroke-width="0.65" fill="none" stroke-linejoin="round" stroke-opacity="0.85"/>
<path d="M340.1 89.7 341.3 87.18 342.3 90.3 343.1 102.88 343.8 108.18 344.7 101.46 346 90.8 347.2 85.98 348.2 89.1 349.1 89.5 349.8 89.94" stroke="#d43030" stroke-width="0.6" fill="none" stroke-linejoin="round" stroke-opacity="0.45"/>
<path d="M327 91 328.5 91.4 330 90.8 331.5 91.2 333 90.7 334.5 90.9 336 90.5 337.5 90.3 338.8 90 340.1 89.7M349.1 89.5 349.8 89.44 350.5 90.2 351.2 90.62 351.9 90.37 352.6 90.57 353.3 89.56 354 90.07 354.7 89.46 355.4 89.71 356.1 89.69 356.8 89.59 357.5 89.72 358.2 91.16 358.9 90.42 359.6 90.83 360.3 90.46 360.5 90.4" stroke="#28289a" stroke-width="0.7" fill="none" stroke-linejoin="round" stroke-opacity="0.85"/>
<path d="M340.1 89.7 341.3 87.74 342.3 90.3 343.1 102.04 343.8 106.99 344.7 100.72 346 90.8 347.2 86.54 348.2 89.1 349.1 89.5 349.8 89.44" stroke="#2a2a96" stroke-width="0.7" fill="none" stroke-linejoin="round" stroke-opacity="0.9"/>
<path d="M327 91 328.5 91.4 330 90.8 331.5 91.2 333 90.7 334.5 90.9 336 90.5 337.5 90.3 338.8 90 340.1 89.7" stroke="#1a1a1a" stroke-width="0.8" fill="none" stroke-linejoin="round"/>
<path d="M349.1 89.5 349.8 89.69 350.5 89.7 351.2 89.95 351.9 89.79 352.6 89.87 353.3 89.27 354 89.22 354.7 89.2 355.4 89.76 356.1 90.52 356.8 90.8 357.5 90.77 358.2 90.95 358.9 91.04 359.6 90.64 360.3 90.29 360.5 90.7" stroke="#1a1a1a" stroke-width="0.7" fill="none" stroke-linejoin="round"/>
<path d="M340.1 89.7 341.3 87.5 342.3 90.3 343.1 102.4 343.8 107.5 344.7 101.04 346 90.8 347.2 86.3 348.2 89.1 349.1 89.5 349.8 89.69" stroke="#333" stroke-width="0.35" fill="none" stroke-linejoin="round" stroke-opacity="0.6"/>
<path d="M372 90 373.5 90.4 375 89.8 376.5 90.2 378 89.7 379.5 89.9 381 89.5 382.5 89.3 383.8 89 385.1 88.7M394.1 88.5 394.8 88.62 395.5 89.5 396.2 89.58 396.9 88.81 397.6 88.7 398.3 87.9 399 88.51 399.7 89.5 400.4 89.84 401.1 90.31 401.8 90.73 402.5 89.93 403.2 89.61 403.9 89.4 404.6 89.6 405.3 89.7 405.5 90.1" stroke="#d43030" stroke-width="0.65" fill="none" stroke-linejoin="round" stroke-opacity="0.85"/>
<path d="M385.1 88.7 386.3 86.18 387.3 89.3 388.1 101.69 388.8 106.92 389.7 100.3 391 89.8 392.2 84.98 393.2 88.1 394.1 88.5 394.8 88.62" stroke="#d43030" stroke-width="0.6" fill="none" stroke-linejoin="round" stroke-opacity="0.45"/>
<path d="M372 90 373.5 90.4 375 89.8 376.5 90.2 378 89.7 379.5 89.9 381 89.5 382.5 89.3 383.8 89 385.1 88.7M394.1 88.5 394.8 87.75 395.5 88.44 396.2 89.65 396.9 88.86 397.6 89.31 398.3 89.26 399 89.23 399.7 88.17 400.4 88.13 401.1 88.22 401.8 88.72 402.5 89.2 403.2 90.19 403.9 90.29 404.6 90.31 405.3 89.07 405.5 89.4" stroke="#28289a" stroke-width="0.7" fill="none" stroke-linejoin="round" stroke-opacity="0.85"/>
<path d="M385.1 88.7 386.3 86.74 387.3 89.3 388.1 100.87 388.8 105.75 389.7 99.57 391 89.8 392.2 85.54 393.2 88.1 394.1 88.5 394.8 87.75" stroke="#2a2a96" stroke-width="0.7" fill="none" stroke-linejoin="round" stroke-opacity="0.9"/>
<path d="M372 90 373.5 90.4 375 89.8 376.5 90.2 378 89.7 379.5 89.9 381 89.5 382.5 89.3 383.8 89 385.1 88.7" stroke="#1a1a1a" stroke-width="0.8" fill="none" stroke-linejoin="round"/>
<path d="M394.1 88.5 394.8 89.28 395.5 89.4 396.2 89.5 396.9 89.6 397.6 89 398.3 88.82 399 87.98 399.7 88.83 400.4 88.36 401.1 89.56 401.8 89.67 402.5 89.64 403.2 89.61 403.9 89.72 404.6 89.95 405.3 89.72 405.5 89.7" stroke="#1a1a1a" stroke-width="0.7" fill="none" stroke-linejoin="round"/>
<path d="M385.1 88.7 386.3 86.5 387.3 89.3 388.1 101.22 388.8 106.25 389.7 99.89 391 89.8 392.2 85.3 393.2 88.1 394.1 88.5 394.8 89.28" stroke="#333" stroke-width="0.35" fill="none" stroke-linejoin="round" stroke-opacity="0.6"/>
<path d="M414 86 415.5 86.4 417 85.8 418.5 86.2 420 85.7 421.5 85.9 423 85.5 424.5 85.3 425.8 85 427.1 84.7M436.1 84.5 436.8 85.74 437.5 85.49 438.2 84.87 438.9 84.26 439.6 84.59 440.3 84.71 441 84.54 441.7 84.69 442.4 85.65 443.1 86.39 443.8 85.84 444.5 85.67 445.2 85.88 445.9 85.71 446.6 85.79 447.3 85.12 447.5 86.1" stroke="#d43030" stroke-width="0.65" fill="none" stroke-linejoin="round" stroke-opacity="0.85"/>
<path d="M427.1 84.7 428.3 82.18 429.3 85.3 430.1 98.24 430.8 103.7 431.7 96.78 433 85.8 434.2 80.98 435.2 84.1 436.1 84.5 436.8 85.74" stroke="#d43030" stroke-width="0.6" fill="none" stroke-linejoin="round" stroke-opacity="0.45"/>
<path d="M414 86 415.5 86.4 417 85.8 418.5 86.2 420 85.7 421.5 85.9 423 85.5 424.5 85.3 425.8 85 427.1 84.7M436.1 84.5 436.8 83.81 437.5 84.19 438.2 85.12 438.9 85.41 439.6 85.18 440.3 84.77 441 84.91 441.7 83.93 442.4 84.17 443.1 84.47 443.8 85.39 444.5 85.44 445.2 86.11 445.9 85.84 446.6 85.54 447.3 85.34 447.5 85.4" stroke="#28289a" stroke-width="0.7" fill="none" stroke-linejoin="round" stroke-opacity="0.85"/>
<path d="M427.1 84.7 428.3 82.74 429.3 85.3 430.1 97.38 430.8 102.47 431.7 96.02 433 85.8 434.2 81.54 435.2 84.1 436.1 84.5 436.8 83.81" stroke="#2a2a96" stroke-width="0.7" fill="none" stroke-linejoin="round" stroke-opacity="0.9"/>
<path d="M414 86 415.5 86.4 417 85.8 418.5 86.2 420 85.7 421.5 85.9 423 85.5 424.5 85.3 425.8 85 427.1 84.7" stroke="#1a1a1a" stroke-width="0.8" fill="none" stroke-linejoin="round"/>
<path d="M436.1 84.5 436.8 85.11 437.5 85.42 438.2 85.33 438.9 84.93 439.6 85.62 440.3 84.53 441 84.91 441.7 84.17 442.4 84.34 443.1 85.37 443.8 85.25 444.5 86.41 445.2 86.05 445.9 85.64 446.6 85.45 447.3 85.39 447.5 85.7" stroke="#1a1a1a" stroke-width="0.7" fill="none" stroke-linejoin="round"/>
<path d="M427.1 84.7 428.3 82.5 429.3 85.3 430.1 97.75 430.8 103 431.7 96.35 433 85.8 434.2 81.3 435.2 84.1 436.1 84.5 436.8 85.11" stroke="#333" stroke-width="0.35" fill="none" stroke-linejoin="round" stroke-opacity="0.6"/>
<path d="M459 83 460.5 83.4 462 82.8 463.5 83.2 465 82.7 466.5 82.9 468 82.5 469.5 82.3 470.8 82 472.1 81.7M481.1 81.5 481.8 81.81 482.5 82.77 483.2 82.4 483.9 81.28 484.6 81.79 485.3 81.36 486 81.49 486.7 81.78 487.4 82.05 488.1 82.29 488.8 82.9 489.5 83.05 490.2 83.62 490.9 82.36 491.6 83.13 492.3 82.13 492.5 83.1" stroke="#d43030" stroke-width="0.65" fill="none" stroke-linejoin="round" stroke-opacity="0.85"/>
<path d="M472.1 81.7 473.3 79.18 474.3 82.3 475.1 93.42 475.8 98.1 476.7 92.17 478 82.8 479.2 77.98 480.2 81.1 481.1 81.5 481.8 81.81" stroke="#d43030" stroke-width="0.6" fill="none" stroke-linejoin="round" stroke-opacity="0.45"/>
<path d="M459 83 460.5 83.4 462 82.8 463.5 83.2 465 82.7 466.5 82.9 468 82.5 469.5 82.3 470.8 82 472.1 81.7M481.1 81.5 481.8 81.48 482.5 82.24 483.2 81.66 483.9 82.19 484.6 81.97 485.3 82.67 486 81.36 486.7 80.98 487.4 80.88 488.1 81.39 488.8 82.32 489.5 82.73 490.2 82.93 490.9 83.46 491.6 83.38 492.3 82.44 492.5 82.4" stroke="#28289a" stroke-width="0.7" fill="none" stroke-linejoin="round" stroke-opacity="0.85"/>
<path d="M472.1 81.7 473.3 79.74 474.3 82.3 475.1 92.69 475.8 97.05 476.7 91.52 478 82.8 479.2 78.54 480.2 81.1 481.1 81.5 481.8 81.48" stroke="#2a2a96" stroke-width="0.7" fill="none" stroke-linejoin="round" stroke-opacity="0.9"/>
<path d="M459 83 460.5 83.4 462 82.8 463.5 83.2 465 82.7 466.5 82.9 468 82.5 469.5 82.3 470.8 82 472.1 81.7" stroke="#1a1a1a" stroke-width="0.8" fill="none" stroke-linejoin="round"/>
<path d="M481.1 81.5 481.8 81.58 482.5 82.52 483.2 82.71 483.9 82.2 484.6 81.52 485.3 81.73 486 81.38 486.7 81.99 487.4 81.31 488.1 81.89 488.8 82.98 489.5 82.31 490.2 82.95 490.9 83.39 491.6 83.1 492.3 81.93 492.5 82.7" stroke="#1a1a1a" stroke-width="0.7" fill="none" stroke-linejoin="round"/>
<path d="M472.1 81.7 473.3 79.5 474.3 82.3 475.1 93 475.8 97.5 476.7 91.8 478 82.8 479.2 78.3 480.2 81.1 481.1 81.5 481.8 81.58" stroke="#333" stroke-width="0.35" fill="none" stroke-linejoin="round" stroke-opacity="0.6"/>
<path d="M500 76 501.5 76.4 503 75.8 504.5 76.2 506 75.7 507.5 75.9 509 75.5 510.5 75.3 511.8 75 513.1 74.7M522.1 74.5 522.8 75.76 523.5 75.57 524.2 75.87 524.9 74.59 525.6 74.67 526.3 74.95 527 75.74 527.7 76.17 528.4 76.03 529.1 76.38 529.8 76.96 530.5 77.18 531.2 77.63 531.9 76.55 532.6 77.13 533.3 77.05 533.5 77.4" stroke="#d43030" stroke-width="0.65" fill="none" stroke-linejoin="round" stroke-opacity="0.85"/>
<path d="M513.1 74.7 514.3 72.18 515.3 75.3 516.1 85.87 516.8 90.32 517.7 84.69 519 75.8 520.2 70.98 521.2 74.1 522.1 74.5 522.8 75.76" stroke="#d43030" stroke-width="0.6" fill="none" stroke-linejoin="round" stroke-opacity="0.45"/>
<path d="M500 76 501.5 76.4 503 75.8 504.5 76.2 506 75.7 507.5 75.9 509 75.5 510.5 75.3 511.8 75 513.1 74.7M522.1 74.5 522.8 73.8 523.5 74.34 524.2 75.83 524.9 75.34 525.6 76.01 526.3 76.06 527 75.16 527.7 74.88 528.4 75.67 529.1 75.46 529.8 75.43 530.5 76.48 531.2 76.47 531.9 76.72 532.6 76.46 533.3 77.23 533.5 76.7" stroke="#28289a" stroke-width="0.7" fill="none" stroke-linejoin="round" stroke-opacity="0.85"/>
<path d="M513.1 74.7 514.3 72.74 515.3 75.3 516.1 85.18 516.8 89.32 517.7 84.07 519 75.8 520.2 71.54 521.2 74.1 522.1 74.5 522.8 73.8" stroke="#2a2a96" stroke-width="0.7" fill="none" stroke-linejoin="round" stroke-opacity="0.9"/>
<path d="M500 76 501.5 76.4 503 75.8 504.5 76.2 506 75.7 507.5 75.9 509 75.5 510.5 75.3 511.8 75 513.1 74.7" stroke="#1a1a1a" stroke-width="0.8" fill="none" stroke-linejoin="round"/>
<path d="M522.1 74.5 522.8 75.22 523.5 75.62 524.2 75.69 524.9 75.39 525.6 75.24 526.3 75.07 527 75.43 527.7 74.62 528.4 75.03 529.1 76.16 529.8 76.07 530.5 76.31 531.2 76.54 531.9 77.19 532.6 76.77 533.3 77.34 533.5 77" stroke="#1a1a1a" stroke-width="0.7" fill="none" stroke-linejoin="round"/>
<path d="M513.1 74.7 514.3 72.5 515.3 75.3 516.1 85.47 516.8 89.75 517.7 84.33 519 75.8 520.2 71.3 521.2 74.1 522.1 74.5 522.8 75.22" stroke="#333" stroke-width="0.35" fill="none" stroke-linejoin="round" stroke-opacity="0.6"/>
<path d="M544 61 545.5 61.4 547 60.8 548.5 61.2 550 60.7 551.5 60.9 553 60.5 554.5 60.3 555.8 60 557.1 59.7M566.1 59.5 566.8 60.59 567.5 60 568.2 60.18 568.9 59.69 569.6 59.88 570.3 59.14 571 59.33 571.7 59.68 572.4 60.03 573.1 61.34 573.8 61.26 574.5 61.02 575.2 60.95 575.9 61.4 576.6 60.58 577.3 60.16 577.5 61.1" stroke="#d43030" stroke-width="0.65" fill="none" stroke-linejoin="round" stroke-opacity="0.85"/>
<path d="M557.1 59.7 558.3 57.18 559.3 60.3 560.1 69.24 560.8 72.98 561.7 68.24 563 60.8 564.2 55.98 565.2 59.1 566.1 59.5 566.8 60.59" stroke="#d43030" stroke-width="0.6" fill="none" stroke-linejoin="round" stroke-opacity="0.45"/>
<path d="M544 61 545.5 61.4 547 60.8 548.5 61.2 550 60.7 551.5 60.9 553 60.5 554.5 60.3 555.8 60 557.1 59.7M566.1 59.5 566.8 59.74 567.5 60.29 568.2 59.81 568.9 59.81 569.6 59.83 570.3 60.1 571 60.04 571.7 59.45 572.4 59.09 573.1 59.42 573.8 59.99 574.5 60.47 575.2 60.95 575.9 61.28 576.6 61.06 577.3 60.19 577.5 60.4" stroke="#28289a" stroke-width="0.7" fill="none" stroke-linejoin="round" stroke-opacity="0.85"/>
<path d="M557.1 59.7 558.3 57.74 559.3 60.3 560.1 68.65 560.8 72.14 561.7 67.72 563 60.8 564.2 56.54 565.2 59.1 566.1 59.5 566.8 59.74" stroke="#2a2a96" stroke-width="0.7" fill="none" stroke-linejoin="round" stroke-opacity="0.9"/>
<path d="M544 61 545.5 61.4 547 60.8 548.5 61.2 550 60.7 551.5 60.9 553 60.5 554.5 60.3 555.8 60 557.1 59.7" stroke="#1a1a1a" stroke-width="0.8" fill="none" stroke-linejoin="round"/>
<path d="M566.1 59.5 566.8 60.12 567.5 60.31 568.2 60.91 568.9 59.8 569.6 60.03 570.3 60.14 571 59.94 571.7 59.99 572.4 59.13 573.1 59.81 573.8 60.04 574.5 60.5 575.2 61.63 575.9 61.11 576.6 61.3 577.3 60.33 577.5 60.7" stroke="#1a1a1a" stroke-width="0.7" fill="none" stroke-linejoin="round"/>
<path d="M557.1 59.7 558.3 57.5 559.3 60.3 560.1 68.9 560.8 72.5 561.7 67.94 563 60.8 564.2 56.3 565.2 59.1 566.1 59.5 566.8 60.12" stroke="#333" stroke-width="0.35" fill="none" stroke-linejoin="round" stroke-opacity="0.6"/>
<path d="M79 124 80.5 124.4 82 123.8 83.5 124.2 85 123.7 86.5 123.9 88 123.5 89.5 123.3 90.8 123 92.1 122.7M101.1 122.3 101.8 122.34 102.5 122.72 103.2 122.93 103.9 122.01 104.6 121.86 105.3 121.58 106 122.36 106.7 122.35 107.4 122.17 108.1 122.59 108.8 123.17 109.5 123.35 110.2 123.24 110.9 122.26 111.6 122.04 112.3 122.54 112.5 122.9" stroke="#d43030" stroke-width="0.65" fill="none" stroke-linejoin="round" stroke-opacity="0.85"/>
<path d="M92.1 122.7 93.3 121.98 94.3 123.3 95.1 132.05 95.8 135.72 96.7 131.08 98 123.8 99.2 120.18 100.2 121.9 101.1 122.3 101.8 122.34" stroke="#d43030" stroke-width="0.6" fill="none" stroke-linejoin="round" stroke-opacity="0.45"/>
<path d="M79 124 80.5 124.4 82 123.8 83.5 124.2 85 123.7 86.5 123.9 88 123.5 89.5 123.3 90.8 123 92.1 122.7M101.1 122.3 101.8 122.46 102.5 122.32 103.2 122.42 103.9 123.2 104.6 123.34 105.3 122.06 106 122.28 106.7 121.97 107.4 121.31 108.1 121.55 108.8 121.54 109.5 121.97 110.2 122.36 110.9 122.93 111.6 122.92 112.3 122.11 112.5 122.2" stroke="#28289a" stroke-width="0.7" fill="none" stroke-linejoin="round" stroke-opacity="0.85"/>
<path d="M92.1 122.7 93.3 122.54 94.3 123.3 95.1 131.48 95.8 134.9 96.7 130.57 98 123.8 99.2 120.74 100.2 121.9 101.1 122.3 101.8 122.46" stroke="#2a2a96" stroke-width="0.7" fill="none" stroke-linejoin="round" stroke-opacity="0.9"/>
<path d="M79 124 80.5 124.4 82 123.8 83.5 124.2 85 123.7 86.5 123.9 88 123.5 89.5 123.3 90.8 123 92.1 122.7" stroke="#1a1a1a" stroke-width="0.8" fill="none" stroke-linejoin="round"/>
<path d="M101.1 122.3 101.8 122.38 102.5 122.55 103.2 122.71 103.9 123.38 104.6 122.32 105.3 122.27 106 121.73 106.7 121.7 107.4 122.36 108.1 122.84 108.8 122.46 109.5 122.57 110.2 123.33 110.9 122.6 111.6 122.07 112.3 122.78 112.5 122.5" stroke="#1a1a1a" stroke-width="0.7" fill="none" stroke-linejoin="round"/>
<path d="M92.1 122.7 93.3 122.3 94.3 123.3 95.1 131.72 95.8 135.25 96.7 130.78 98 123.8 99.2 120.5 100.2 121.9 101.1 122.3 101.8 122.38" stroke="#333" stroke-width="0.35" fill="none" stroke-linejoin="round" stroke-opacity="0.6"/>
<path d="M126 130 127.5 130.4 129 129.8 130.5 130.2 132 129.7 133.5 129.9 135 129.5 136.5 129.3 137.8 129 139.1 128.7M148.1 128.3 148.8 128.95 149.5 129.44 150.2 128.25 150.9 128.38 151.6 128.45 152.3 128.5 153 127.64 153.7 127.84 154.4 129.22 155.1 129.64 155.8 129.27 156.5 128.75 157.2 129.59 157.9 128.62 158.6 128.93 159.3 128.45 159.5 128.9" stroke="#d43030" stroke-width="0.65" fill="none" stroke-linejoin="round" stroke-opacity="0.85"/>
<path d="M139.1 128.7 140.3 127.98 141.3 129.3 142.1 138.96 142.8 143.02 143.7 137.88 145 129.8 146.2 126.18 147.2 127.9 148.1 128.3 148.8 128.95" stroke="#d43030" stroke-width="0.6" fill="none" stroke-linejoin="round" stroke-opacity="0.45"/>
<path d="M126 130 127.5 130.4 129 129.8 130.5 130.2 132 129.7 133.5 129.9 135 129.5 136.5 129.3 137.8 129 139.1 128.7M148.1 128.3 148.8 127.93 149.5 128.76 150.2 128.59 150.9 129.33 151.6 128.76 152.3 128.13 153 127.58 153.7 127.89 154.4 127.82 155.1 128.2 155.8 127.47 156.5 128.47 157.2 128.5 157.9 128.81 158.6 128.31 159.3 128.2 159.5 128.2" stroke="#28289a" stroke-width="0.7" fill="none" stroke-linejoin="round" stroke-opacity="0.85"/>
<path d="M139.1 128.7 140.3 128.54 141.3 129.3 142.1 138.33 142.8 142.11 143.7 137.32 145 129.8 146.2 126.74 147.2 127.9 148.1 128.3 148.8 127.93" stroke="#2a2a96" stroke-width="0.7" fill="none" stroke-linejoin="round" stroke-opacity="0.9"/>
<path d="M126 130 127.5 130.4 129 129.8 130.5 130.2 132 129.7 133.5 129.9 135 129.5 136.5 129.3 137.8 129 139.1 128.7" stroke="#1a1a1a" stroke-width="0.8" fill="none" stroke-linejoin="round"/>
<path d="M148.1 128.3 148.8 128.88 149.5 128.4 150.2 129.28 150.9 128.5 151.6 128.43 152.3 128.61 153 128.3 153.7 127.42 154.4 127.59 155.1 128.12 155.8 128.65 156.5 128.8 157.2 128.61 157.9 128.65 158.6 128.93 159.3 128.78 159.5 128.5" stroke="#1a1a1a" stroke-width="0.7" fill="none" stroke-linejoin="round"/>
<path d="M139.1 128.7 140.3 128.3 141.3 129.3 142.1 138.6 142.8 142.5 143.7 137.56 145 129.8 146.2 126.5 147.2 127.9 148.1 128.3 148.8 128.88" stroke="#333" stroke-width="0.35" fill="none" stroke-linejoin="round" stroke-opacity="0.6"/>
<path d="M179 129 180.5 129.4 182 128.8 183.5 129.2 185 128.7 186.5 128.9 188 128.5 189.5 128.3 190.8 128 192.1 127.7M201.1 127.3 201.8 127.37 202.5 128.12 203.2 127.78 203.9 127.17 204.6 127.53 205.3 127.42 206 127.13 206.7 127.1 207.4 127.88 208.1 127.84 208.8 128.12 209.5 128.5 210.2 127.91 210.9 128.02 211.6 127.83 212.3 127.14 212.5 128.3" stroke="#d43030" stroke-width="0.65" fill="none" stroke-linejoin="round" stroke-opacity="0.85"/>
<path d="M192.1 127.7 193.3 125.18 194.3 128.3 195.1 139.42 195.8 144.1 196.7 138.17 198 128.8 199.2 123.68 200.2 126.9 201.1 127.3 201.8 127.37" stroke="#d43030" stroke-width="0.6" fill="none" stroke-linejoin="round" stroke-opacity="0.45"/>
<path d="M179 129 180.5 129.4 182 128.8 183.5 129.2 185 128.7 186.5 128.9 188 128.5 189.5 128.3 190.8 128 192.1 127.7M201.1 127.3 201.8 126.49 202.5 127.5 203.2 128.09 203.9 127.41 204.6 128.33 205.3 127.22 206 127.45 206.7 127.08 207.4 127.02 208.1 126.72 208.8 127.14 209.5 127.72 210.2 127.88 210.9 128.34 211.6 128.04 212.3 127.78 212.5 127.6" stroke="#28289a" stroke-width="0.7" fill="none" stroke-linejoin="round" stroke-opacity="0.85"/>
<path d="M192.1 127.7 193.3 125.74 194.3 128.3 195.1 138.69 195.8 143.05 196.7 137.52 198 128.8 199.2 124.24 200.2 126.9 201.1 127.3 201.8 126.49" stroke="#2a2a96" stroke-width="0.7" fill="none" stroke-linejoin="round" stroke-opacity="0.9"/>
<path d="M179 129 180.5 129.4 182 128.8 183.5 129.2 185 128.7 186.5 128.9 188 128.5 189.5 128.3 190.8 128 192.1 127.7" stroke="#1a1a1a" stroke-width="0.8" fill="none" stroke-linejoin="round"/>
<path d="M201.1 127.3 201.8 127.68 202.5 127.35 203.2 128.29 203.9 128.27 204.6 127.69 205.3 126.8 206 127.08 206.7 126.85 207.4 127.69 208.1 127.05 208.8 128.32 209.5 128.83 210.2 128.66 210.9 128.68 211.6 127.66 212.3 128.27 212.5 127.9" stroke="#1a1a1a" stroke-width="0.7" fill="none" stroke-linejoin="round"/>
<path d="M192.1 127.7 193.3 125.5 194.3 128.3 195.1 139 195.8 143.5 196.7 137.8 198 128.8 199.2 124 200.2 126.9 201.1 127.3 201.8 127.68" stroke="#333" stroke-width="0.35" fill="none" stroke-linejoin="round" stroke-opacity="0.6"/>
<path d="M231 128 232.5 128.4 234 127.8 235.5 128.2 237 127.7 238.5 127.9 240 127.5 241.5 127.3 242.8 127 244.1 126.7M253.1 126.3 253.8 126.6 254.5 126.69 255.2 126.8 255.9 126.27 256.6 125.65 257.3 125.7 258 125.77 258.7 127.01 259.4 127.13 260.1 127.79 260.8 127.16 261.5 127.93 262.2 126.94 262.9 127.13 263.6 126.98 264.3 126.53 264.5 127.3" stroke="#d43030" stroke-width="0.65" fill="none" stroke-linejoin="round" stroke-opacity="0.85"/>
<path d="M244.1 126.7 245.3 124.18 246.3 127.3 247.1 139.15 247.8 144.14 248.7 137.82 250 127.8 251.2 122.68 252.2 125.9 253.1 126.3 253.8 126.6" stroke="#d43030" stroke-width="0.6" fill="none" stroke-linejoin="round" stroke-opacity="0.45"/>
<path d="M231 128 232.5 128.4 234 127.8 235.5 128.2 237 127.7 238.5 127.9 240 127.5 241.5 127.3 242.8 127 244.1 126.7M253.1 126.3 253.8 126.03 254.5 126.98 255.2 127.28 255.9 126.56 256.6 127.27 257.3 127.2 258 125.81 258.7 125.84 259.4 126.18 260.1 125.54 260.8 126.71 261.5 126.35 262.2 127.35 262.9 126.72 263.6 127.11 264.3 127.36 264.5 126.6" stroke="#28289a" stroke-width="0.7" fill="none" stroke-linejoin="round" stroke-opacity="0.85"/>
<path d="M244.1 126.7 245.3 124.74 246.3 127.3 247.1 138.36 247.8 143.02 248.7 137.12 250 127.8 251.2 123.24 252.2 125.9 253.1 126.3 253.8 126.03" stroke="#2a2a96" stroke-width="0.7" fill="none" stroke-linejoin="round" stroke-opacity="0.9"/>
<path d="M231 128 232.5 128.4 234 127.8 235.5 128.2 237 127.7 238.5 127.9 240 127.5 241.5 127.3 242.8 127 244.1 126.7" stroke="#1a1a1a" stroke-width="0.8" fill="none" stroke-linejoin="round"/>
<path d="M253.1 126.3 253.8 126.96 254.5 126.92 255.2 127.11 255.9 127.39 256.6 126.2 257.3 126.93 258 126.23 258.7 125.87 259.4 126.5 260.1 126.2 260.8 127.48 261.5 127.32 262.2 127.21 262.9 127.61 263.6 126.96 264.3 126.31 264.5 126.9" stroke="#1a1a1a" stroke-width="0.7" fill="none" stroke-linejoin="round"/>
<path d="M244.1 126.7 245.3 124.5 246.3 127.3 247.1 138.7 247.8 143.5 248.7 137.42 250 127.8 251.2 123 252.2 125.9 253.1 126.3 253.8 126.96" stroke="#333" stroke-width="0.35" fill="none" stroke-linejoin="round" stroke-opacity="0.6"/>
<path d="M280 129 281.5 129.4 283 128.8 284.5 129.2 286 128.7 287.5 128.9 289 128.5 290.5 128.3 291.8 128 293.1 127.7M302.1 127.3 302.8 127.5 303.5 127.65 304.2 127.98 304.9 126.92 305.6 126.61 306.3 126.91 307 126.71 307.7 127.32 308.4 127.58 309.1 128.41 309.8 128.67 310.5 128.23 311.2 128.55 311.9 128.06 312.6 127.38 313.3 128.22 313.5 128.3" stroke="#d43030" stroke-width="0.65" fill="none" stroke-linejoin="round" stroke-opacity="0.85"/>
<path d="M293.1 127.7 294.3 125.18 295.3 128.3 296.1 140.15 296.8 145.14 297.7 138.82 299 128.8 300.2 123.68 301.2 126.9 302.1 127.3 302.8 127.5" stroke="#d43030" stroke-width="0.6" fill="none" stroke-linejoin="round" stroke-opacity="0.45"/>
<path d="M280 129 281.5 129.4 283 128.8 284.5 129.2 286 128.7 287.5 128.9 289 128.5 290.5 128.3 291.8 128 293.1 127.7M302.1 127.3 302.8 127.34 303.5 126.89 304.2 128.16 304.9 127.67 305.6 128.09 306.3 128.26 307 127.44 307.7 127.22 308.4 126.65 309.1 126.35 309.8 126.68 310.5 127.2 311.2 128.11 311.9 128.07 312.6 128.12 313.3 128.33 313.5 127.6" stroke="#28289a" stroke-width="0.7" fill="none" stroke-linejoin="round" stroke-opacity="0.85"/>
<path d="M293.1 127.7 294.3 125.74 295.3 128.3 296.1 139.36 296.8 144.02 297.7 138.12 299 128.8 300.2 124.24 301.2 126.9 302.1 127.3 302.8 127.34" stroke="#2a2a96" stroke-width="0.7" fill="none" stroke-linejoin="round" stroke-opacity="0.9"/>
<path d="M280 129 281.5 129.4 283 128.8 284.5 129.2 286 128.7 287.5 128.9 289 128.5 290.5 128.3 291.8 128 293.1 127.7" stroke="#1a1a1a" stroke-width="0.8" fill="none" stroke-linejoin="round"/>
<path d="M302.1 127.3 302.8 127.21 303.5 127.44 304.2 127.53 304.9 128.1 305.6 128.12 306.3 127.68 307 126.95 307.7 126.71 308.4 126.56 309.1 127.66 309.8 127.97 310.5 128.05 311.2 128.55 311.9 128.23 312.6 128.56 313.3 127.98 313.5 127.9" stroke="#1a1a1a" stroke-width="0.7" fill="none" stroke-linejoin="round"/>
<path d="M293.1 127.7 294.3 125.5 295.3 128.3 296.1 139.7 296.8 144.5 297.7 138.42 299 128.8 300.2 124 301.2 126.9 302.1 127.3 302.8 127.21" stroke="#333" stroke-width="0.35" fill="none" stroke-linejoin="round" stroke-opacity="0.6"/>
<path d="M327 128 328.5 128.4 330 127.8 331.5 128.2 333 127.7 334.5 127.9 336 127.5 337.5 127.3 338.8 127 340.1 126.7M349.1 126.3 349.8 127.32 350.5 126.58 351.2 126.56 351.9 126.25 352.6 125.67 353.3 126.55 354 126.52 354.7 126.75 355.4 126.32 356.1 127.73 356.8 127.86 357.5 127.54 358.2 127.69 358.9 127.04 359.6 126.49 360.3 126.22 360.5 127.3" stroke="#d43030" stroke-width="0.65" fill="none" stroke-linejoin="round" stroke-opacity="0.85"/>
<path d="M340.1 126.7 341.3 124.18 342.3 127.3 343.1 139.88 343.8 145.18 344.7 138.46 346 127.8 347.2 122.68 348.2 125.9 349.1 126.3 349.8 127.32" stroke="#d43030" stroke-width="0.6" fill="none" stroke-linejoin="round" stroke-opacity="0.45"/>
<path d="M327 128 328.5 128.4 330 127.8 331.5 128.2 333 127.7 334.5 127.9 336 127.5 337.5 127.3 338.8 127 340.1 126.7M349.1 126.3 349.8 125.74 350.5 126.91 351.2 126.23 351.9 127 352.6 126.81 353.3 126.37 354 125.8 354.7 126.35 355.4 125.29 356.1 126.01 356.8 126.77 357.5 126.19 358.2 126.61 358.9 127.28 359.6 127.11 360.3 127.03 360.5 126.6" stroke="#28289a" stroke-width="0.7" fill="none" stroke-linejoin="round" stroke-opacity="0.85"/>
<path d="M340.1 126.7 341.3 124.74 342.3 127.3 343.1 139.04 343.8 143.99 344.7 137.72 346 127.8 347.2 123.24 348.2 125.9 349.1 126.3 349.8 125.74" stroke="#2a2a96" stroke-width="0.7" fill="none" stroke-linejoin="round" stroke-opacity="0.9"/>
<path d="M327 128 328.5 128.4 330 127.8 331.5 128.2 333 127.7 334.5 127.9 336 127.5 337.5 127.3 338.8 127 340.1 126.7" stroke="#1a1a1a" stroke-width="0.8" fill="none" stroke-linejoin="round"/>
<path d="M349.1 126.3 349.8 126.19 350.5 126.3 351.2 126.81 351.9 127.23 352.6 126.91 353.3 126.75 354 126.33 354.7 125.71 355.4 126.21 356.1 126.41 356.8 127.24 357.5 127.26 358.2 127.1 358.9 127.47 359.6 127.59 360.3 126.36 360.5 126.9" stroke="#1a1a1a" stroke-width="0.7" fill="none" stroke-linejoin="round"/>
<path d="M340.1 126.7 341.3 124.5 342.3 127.3 343.1 139.4 343.8 144.5 344.7 138.04 346 127.8 347.2 123 348.2 125.9 349.1 126.3 349.8 126.19" stroke="#333" stroke-width="0.35" fill="none" stroke-linejoin="round" stroke-opacity="0.6"/>
<path d="M374 128 375.5 128.4 377 127.8 378.5 128.2 380 127.7 381.5 127.9 383 127.5 384.5 127.3 385.8 127 387.1 126.7M396.1 126.3 396.8 126.91 397.5 127.38 398.2 127.03 398.9 126.92 399.6 126.14 400.3 126.35 401 126.26 401.7 126.26 402.4 126.57 403.1 127.46 403.8 127.06 404.5 128.08 405.2 126.97 405.9 126.53 406.6 126.35 407.3 127.21 407.5 127.3" stroke="#d43030" stroke-width="0.65" fill="none" stroke-linejoin="round" stroke-opacity="0.85"/>
<path d="M387.1 126.7 388.3 124.18 389.3 127.3 390.1 139.15 390.8 144.14 391.7 137.82 393 127.8 394.2 122.68 395.2 125.9 396.1 126.3 396.8 126.91" stroke="#d43030" stroke-width="0.6" fill="none" stroke-linejoin="round" stroke-opacity="0.45"/>
<path d="M374 128 375.5 128.4 377 127.8 378.5 128.2 380 127.7 381.5 127.9 383 127.5 384.5 127.3 385.8 127 387.1 126.7M396.1 126.3 396.8 126.5 397.5 125.85 398.2 126.49 398.9 126.65 399.6 127.22 400.3 127.21 401 126.63 401.7 125.81 402.4 126.33 403.1 125.75 403.8 125.92 404.5 127.11 405.2 127.13 405.9 127.38 406.6 127.3 407.3 127.43 407.5 126.6" stroke="#28289a" stroke-width="0.7" fill="none" stroke-linejoin="round" stroke-opacity="0.85"/>
<path d="M387.1 126.7 388.3 124.74 389.3 127.3 390.1 138.36 390.8 143.02 391.7 137.12 393 127.8 394.2 123.24 395.2 125.9 396.1 126.3 396.8 126.5" stroke="#2a2a96" stroke-width="0.7" fill="none" stroke-linejoin="round" stroke-opacity="0.9"/>
<path d="M374 128 375.5 128.4 377 127.8 378.5 128.2 380 127.7 381.5 127.9 383 127.5 384.5 127.3 385.8 127 387.1 126.7" stroke="#1a1a1a" stroke-width="0.8" fill="none" stroke-linejoin="round"/>
<path d="M396.1 126.3 396.8 126.33 397.5 126.43 398.2 126.44 398.9 126.38 399.6 126.9 400.3 126.5 401 126.31 401.7 126.28 402.4 125.63 403.1 126.59 403.8 126.73 404.5 127.61 405.2 127.76 405.9 127.77 406.6 126.51 407.3 127.14 407.5 126.9" stroke="#1a1a1a" stroke-width="0.7" fill="none" stroke-linejoin="round"/>
<path d="M387.1 126.7 388.3 124.5 389.3 127.3 390.1 138.7 390.8 143.5 391.7 137.42 393 127.8 394.2 123 395.2 125.9 396.1 126.3 396.8 126.33" stroke="#333" stroke-width="0.35" fill="none" stroke-linejoin="round" stroke-opacity="0.6"/>
<path d="M424 127 425.5 127.4 427 126.8 428.5 127.2 430 126.7 431.5 126.9 433 126.5 434.5 126.3 435.8 126 437.1 125.7M446.1 125.3 446.8 125.73 447.5 125.88 448.2 125.22 448.9 125.2 449.6 124.95 450.3 125.34 451 125.02 451.7 125.27 452.4 126.47 453.1 126.32 453.8 126.98 454.5 126.73 455.2 125.83 455.9 125.99 456.6 125.74 457.3 126.02 457.5 126.3" stroke="#d43030" stroke-width="0.65" fill="none" stroke-linejoin="round" stroke-opacity="0.85"/>
<path d="M437.1 125.7 438.3 123.18 439.3 126.3 440.1 138.33 440.8 143.4 441.7 136.98 443 126.8 444.2 121.68 445.2 124.9 446.1 125.3 446.8 125.73" stroke="#d43030" stroke-width="0.6" fill="none" stroke-linejoin="round" stroke-opacity="0.45"/>
<path d="M424 127 425.5 127.4 427 126.8 428.5 127.2 430 126.7 431.5 126.9 433 126.5 434.5 126.3 435.8 126 437.1 125.7M446.1 125.3 446.8 125.54 447.5 125.96 448.2 125.31 448.9 125.61 449.6 125.46 450.3 125.12 451 125.75 451.7 125.39 452.4 125.03 453.1 125.34 453.8 125.39 454.5 125.37 455.2 125.49 455.9 125.67 456.6 126.41 457.3 125.5 457.5 125.6" stroke="#28289a" stroke-width="0.7" fill="none" stroke-linejoin="round" stroke-opacity="0.85"/>
<path d="M437.1 125.7 438.3 123.74 439.3 126.3 440.1 137.53 440.8 142.26 441.7 136.27 443 126.8 444.2 122.24 445.2 124.9 446.1 125.3 446.8 125.54" stroke="#2a2a96" stroke-width="0.7" fill="none" stroke-linejoin="round" stroke-opacity="0.9"/>
<path d="M424 127 425.5 127.4 427 126.8 428.5 127.2 430 126.7 431.5 126.9 433 126.5 434.5 126.3 435.8 126 437.1 125.7" stroke="#1a1a1a" stroke-width="0.8" fill="none" stroke-linejoin="round"/>
<path d="M446.1 125.3 446.8 125.33 447.5 126.1 448.2 126.06 448.9 125.59 449.6 126.11 450.3 124.85 451 125.46 451.7 124.6 452.4 124.55 453.1 125.13 453.8 126.21 454.5 126.8 455.2 125.78 455.9 126.29 456.6 126.02 457.3 126.05 457.5 125.9" stroke="#1a1a1a" stroke-width="0.7" fill="none" stroke-linejoin="round"/>
<path d="M437.1 125.7 438.3 123.5 439.3 126.3 440.1 137.88 440.8 142.75 441.7 136.57 443 126.8 444.2 122 445.2 124.9 446.1 125.3 446.8 125.33" stroke="#333" stroke-width="0.35" fill="none" stroke-linejoin="round" stroke-opacity="0.6"/>
<path d="M474 128 475.5 128.4 477 127.8 478.5 128.2 480 127.7 481.5 127.9 483 127.5 484.5 127.3 485.8 127 487.1 126.7M496.1 126.3 496.8 127.1 497.5 126.8 498.2 126.67 498.9 126.36 499.6 126.68 500.3 125.59 501 126.65 501.7 125.92 502.4 126.56 503.1 127.03 503.8 128.04 504.5 127.59 505.2 127.25 505.9 127.56 506.6 126.5 507.3 126.65 507.5 127.3" stroke="#d43030" stroke-width="0.65" fill="none" stroke-linejoin="round" stroke-opacity="0.85"/>
<path d="M487.1 126.7 488.3 124.18 489.3 127.3 490.1 138.78 490.8 143.62 491.7 137.49 493 127.8 494.2 122.68 495.2 125.9 496.1 126.3 496.8 127.1" stroke="#d43030" stroke-width="0.6" fill="none" stroke-linejoin="round" stroke-opacity="0.45"/>
<path d="M474 128 475.5 128.4 477 127.8 478.5 128.2 480 127.7 481.5 127.9 483 127.5 484.5 127.3 485.8 127 487.1 126.7M496.1 126.3 496.8 125.66 497.5 126.42 498.2 126.6 498.9 127.36 499.6 126.64 500.3 127.21 501 126.07 501.7 125.68 502.4 126.11 503.1 125.95 503.8 125.77 504.5 126.79 505.2 126.47 505.9 127.5 506.6 127.34 507.3 127.2 507.5 126.6" stroke="#28289a" stroke-width="0.7" fill="none" stroke-linejoin="round" stroke-opacity="0.85"/>
<path d="M487.1 126.7 488.3 124.74 489.3 127.3 490.1 138.02 490.8 142.53 491.7 136.82 493 127.8 494.2 123.24 495.2 125.9 496.1 126.3 496.8 125.66" stroke="#2a2a96" stroke-width="0.7" fill="none" stroke-linejoin="round" stroke-opacity="0.9"/>
<path d="M474 128 475.5 128.4 477 127.8 478.5 128.2 480 127.7 481.5 127.9 483 127.5 484.5 127.3 485.8 127 487.1 126.7" stroke="#1a1a1a" stroke-width="0.8" fill="none" stroke-linejoin="round"/>
<path d="M496.1 126.3 496.8 126.55 497.5 127.16 498.2 127.31 498.9 127.11 499.6 126.49 500.3 126.13 501 125.66 501.7 126.41 502.4 126.34 503.1 126.78 503.8 126.5 504.5 127.16 505.2 127.71 505.9 127.39 506.6 126.58 507.3 126.65 507.5 126.9" stroke="#1a1a1a" stroke-width="0.7" fill="none" stroke-linejoin="round"/>
<path d="M487.1 126.7 488.3 124.5 489.3 127.3 490.1 138.35 490.8 143 491.7 137.11 493 127.8 494.2 123 495.2 125.9 496.1 126.3 496.8 126.55" stroke="#333" stroke-width="0.35" fill="none" stroke-linejoin="round" stroke-opacity="0.6"/>
<path d="M526 127 527.5 127.4 529 126.8 530.5 127.2 532 126.7 533.5 126.9 535 126.5 536.5 126.3 537.8 126 539.1 125.7M548.1 125.3 548.8 125.44 549.5 126.48 550.2 125.24 550.9 125.25 551.6 125.67 552.3 125.29 553 125.29 553.7 125.21 554.4 125.33 555.1 126.23 555.8 125.82 556.5 125.94 557.2 125.94 557.9 125.19 558.6 125.33 559.3 125.65 559.5 125.9" stroke="#d43030" stroke-width="0.65" fill="none" stroke-linejoin="round" stroke-opacity="0.85"/>
<path d="M539.1 125.7 540.3 124.98 541.3 126.3 542.1 136.51 542.8 140.8 543.7 135.37 545 126.8 546.2 123.18 547.2 124.9 548.1 125.3 548.8 125.44" stroke="#d43030" stroke-width="0.6" fill="none" stroke-linejoin="round" stroke-opacity="0.45"/>
<path d="M526 127 527.5 127.4 529 126.8 530.5 127.2 532 126.7 533.5 126.9 535 126.5 536.5 126.3 537.8 126 539.1 125.7M548.1 125.3 548.8 125.48 549.5 125.07 550.2 125.33 550.9 125.63 551.6 126.05 552.3 125.95 553 124.75 553.7 124.41 554.4 124.35 555.1 124.5 555.8 124.99 556.5 124.92 557.2 125.44 557.9 125.44 558.6 126.31 559.3 125.74 559.5 125.2" stroke="#28289a" stroke-width="0.7" fill="none" stroke-linejoin="round" stroke-opacity="0.85"/>
<path d="M539.1 125.7 540.3 125.54 541.3 126.3 542.1 135.84 542.8 139.84 543.7 134.77 545 126.8 546.2 123.74 547.2 124.9 548.1 125.3 548.8 125.48" stroke="#2a2a96" stroke-width="0.7" fill="none" stroke-linejoin="round" stroke-opacity="0.9"/>
<path d="M526 127 527.5 127.4 529 126.8 530.5 127.2 532 126.7 533.5 126.9 535 126.5 536.5 126.3 537.8 126 539.1 125.7" stroke="#1a1a1a" stroke-width="0.8" fill="none" stroke-linejoin="round"/>
<path d="M548.1 125.3 548.8 125.72 549.5 125.81 550.2 126.1 550.9 125.79 551.6 125.12 552.3 125.31 553 124.79 553.7 125.09 554.4 125.42 555.1 125.16 555.8 125.71 556.5 126.23 557.2 125.97 557.9 125.63 558.6 125.93 559.3 125.76 559.5 125.5" stroke="#1a1a1a" stroke-width="0.7" fill="none" stroke-linejoin="round"/>
<path d="M539.1 125.7 540.3 125.3 541.3 126.3 542.1 136.12 542.8 140.25 543.7 135.03 545 126.8 546.2 123.5 547.2 124.9 548.1 125.3 548.8 125.72" stroke="#333" stroke-width="0.35" fill="none" stroke-linejoin="round" stroke-opacity="0.6"/>
<path d="M573 124 574.5 124.4 576 123.8 577.5 124.2 579 123.7 580.5 123.9 582 123.5 583.5 123.3 584.8 123 586.1 122.7M595.1 122.3 595.8 123.07 596.5 122.82 597.2 122.93 597.9 122.91 598.6 121.71 599.3 122.12 600 122.34 600.7 122.16 601.4 122.68 602.1 123.64 602.8 122.74 603.5 123.34 604.2 122.67 604.9 123.09 605.6 122.98 606.3 122.32 606.5 122.9" stroke="#d43030" stroke-width="0.65" fill="none" stroke-linejoin="round" stroke-opacity="0.85"/>
<path d="M586.1 122.7 587.3 121.98 588.3 123.3 589.1 132.6 589.8 136.5 590.7 131.56 592 123.8 593.2 120.18 594.2 121.9 595.1 122.3 595.8 123.07" stroke="#d43030" stroke-width="0.6" fill="none" stroke-linejoin="round" stroke-opacity="0.45"/>
<path d="M573 124 574.5 124.4 576 123.8 577.5 124.2 579 123.7 580.5 123.9 582 123.5 583.5 123.3 584.8 123 586.1 122.7M595.1 122.3 595.8 122.35 596.5 122.62 597.2 123.13 597.9 123.08 598.6 122.97 599.3 122.48 600 121.94 600.7 121.98 601.4 121.17 602.1 121.61 602.8 122.31 603.5 122.58 604.2 122.81 604.9 122.51 605.6 122.65 606.3 122.41 606.5 122.2" stroke="#28289a" stroke-width="0.7" fill="none" stroke-linejoin="round" stroke-opacity="0.85"/>
<path d="M586.1 122.7 587.3 122.54 588.3 123.3 589.1 131.99 589.8 135.62 590.7 131.02 592 123.8 593.2 120.74 594.2 121.9 595.1 122.3 595.8 122.35" stroke="#2a2a96" stroke-width="0.7" fill="none" stroke-linejoin="round" stroke-opacity="0.9"/>
<path d="M573 124 574.5 124.4 576 123.8 577.5 124.2 579 123.7 580.5 123.9 582 123.5 583.5 123.3 584.8 123 586.1 122.7" stroke="#1a1a1a" stroke-width="0.8" fill="none" stroke-linejoin="round"/>
<path d="M595.1 122.3 595.8 122.01 596.5 122.9 597.2 122.99 597.9 123.1 598.6 122.56 599.3 122.36 600 122.3 600.7 121.82 601.4 121.82 602.1 122.78 602.8 122.28 603.5 123.16 604.2 122.93 604.9 123.27 605.6 122.21 606.3 122.88 606.5 122.5" stroke="#1a1a1a" stroke-width="0.7" fill="none" stroke-linejoin="round"/>
<path d="M586.1 122.7 587.3 122.3 588.3 123.3 589.1 132.25 589.8 136 590.7 131.25 592 123.8 593.2 120.5 594.2 121.9 595.1 122.3 595.8 122.01" stroke="#333" stroke-width="0.35" fill="none" stroke-linejoin="round" stroke-opacity="0.6"/>
<path d="M83 189 84.5 189.4 86 188.8 87.5 189.2 89 188.7 90.5 188.9 92 188.5 93.5 188.3 94.8 188 96.1 187.7M105.1 187.5 105.8 188.04 106.5 187.88 107.2 187.62 107.9 188.12 108.6 187.9 109.3 187.59 110 187.51 110.7 187.96 111.4 188.01 112.1 189.32 112.8 188.86 113.5 189.25 114.2 189.3 114.9 189.02 115.6 188.35 116.3 188.04 116.5 188.9" stroke="#d43030" stroke-width="0.65" fill="none" stroke-linejoin="round" stroke-opacity="0.85"/>
<path d="M96.1 187.7 97.3 186.38 98.3 188.3 99.1 195.42 99.8 198.38 100.7 194.63 102 188.8 103.2 184.68 104.2 187.1 105.1 187.5 105.8 188.04" stroke="#d43030" stroke-width="0.6" fill="none" stroke-linejoin="round" stroke-opacity="0.45"/>
<path d="M83 189 84.5 189.4 86 188.8 87.5 189.2 89 188.7 90.5 188.9 92 188.5 93.5 188.3 94.8 188 96.1 187.7M105.1 187.5 105.8 186.88 106.5 186.72 107.2 187.14 107.9 187.28 108.6 186.59 109.3 186.64 110 186.1 110.7 185.94 111.4 185.18 112.1 184.97 112.8 185.01 113.5 185.83 114.2 186.22 114.9 185.72 115.6 185.11 116.3 185.37 116.5 184.7" stroke="#28289a" stroke-width="0.7" fill="none" stroke-linejoin="round" stroke-opacity="0.85"/>
<path d="M96.1 187.7 97.3 186.94 98.3 188.3 99.1 194.95 99.8 197.72 100.7 194.21 102 188.8 103.2 185.24 104.2 187.1 105.1 187.5 105.8 186.88" stroke="#2a2a96" stroke-width="0.7" fill="none" stroke-linejoin="round" stroke-opacity="0.9"/>
<path d="M83 189 84.5 189.4 86 188.8 87.5 189.2 89 188.7 90.5 188.9 92 188.5 93.5 188.3 94.8 188 96.1 187.7" stroke="#1a1a1a" stroke-width="0.8" fill="none" stroke-linejoin="round"/>
<path d="M105.1 187.5 105.8 187.76 106.5 187.58 107.2 188.57 107.9 187.91 108.6 188.23 109.3 187.18 110 187.04 110.7 186.8 111.4 187.15 112.1 187.19 112.8 187.36 113.5 188.55 114.2 188.16 114.9 188.02 115.6 187.81 116.3 187.67 116.5 187.9" stroke="#1a1a1a" stroke-width="0.7" fill="none" stroke-linejoin="round"/>
<path d="M96.1 187.7 97.3 186.7 98.3 188.3 99.1 195.15 99.8 198 100.7 194.39 102 188.8 103.2 185 104.2 187.1 105.1 187.5 105.8 187.76" stroke="#333" stroke-width="0.35" fill="none" stroke-linejoin="round" stroke-opacity="0.6"/>
<path d="M130 183 131.5 183.4 133 182.8 134.5 183.2 136 182.7 137.5 182.9 139 182.5 140.5 182.3 141.8 182 143.1 181.7M152.1 181.5 152.8 182.32 153.5 181.85 154.2 181.48 154.9 181.21 155.6 181.03 156.3 181.54 157 181.11 157.7 181.17 158.4 182.49 159.1 182.74 159.8 182.23 160.5 183.11 161.2 182.57 161.9 182.46 162.6 182.03 163.3 182.17 163.5 182.3" stroke="#d43030" stroke-width="0.65" fill="none" stroke-linejoin="round" stroke-opacity="0.85"/>
<path d="M143.1 181.7 144.3 180.38 145.3 182.3 146.1 190.69 146.8 194.2 147.7 189.75 149 182.8 150.2 178.68 151.2 181.1 152.1 181.5 152.8 182.32" stroke="#d43030" stroke-width="0.6" fill="none" stroke-linejoin="round" stroke-opacity="0.45"/>
<path d="M130 183 131.5 183.4 133 182.8 134.5 183.2 136 182.7 137.5 182.9 139 182.5 140.5 182.3 141.8 182 143.1 181.7M152.1 181.5 152.8 181.15 153.5 181.77 154.2 182.13 154.9 181.95 155.6 182.58 156.3 182.23 157 180.91 157.7 181.52 158.4 181.45 159.1 181.37 159.8 180.87 160.5 182.07 161.2 182.17 161.9 181.6 162.6 181.54 163.3 182.4 163.5 181.6" stroke="#28289a" stroke-width="0.7" fill="none" stroke-linejoin="round" stroke-opacity="0.85"/>
<path d="M143.1 181.7 144.3 180.94 145.3 182.3 146.1 190.14 146.8 193.41 147.7 189.27 149 182.8 150.2 179.24 151.2 181.1 152.1 181.5 152.8 181.15" stroke="#2a2a96" stroke-width="0.7" fill="none" stroke-linejoin="round" stroke-opacity="0.9"/>
<path d="M130 183 131.5 183.4 133 182.8 134.5 183.2 136 182.7 137.5 182.9 139 182.5 140.5 182.3 141.8 182 143.1 181.7" stroke="#1a1a1a" stroke-width="0.8" fill="none" stroke-linejoin="round"/>
<path d="M152.1 181.5 152.8 182.05 153.5 182.44 154.2 181.81 154.9 182.32 155.6 181.85 156.3 181.75 157 181.11 157.7 181.56 158.4 181.3 159.1 181.28 159.8 181.64 160.5 181.85 161.2 182.41 161.9 181.8 162.6 182.01 163.3 181.27 163.5 181.9" stroke="#1a1a1a" stroke-width="0.7" fill="none" stroke-linejoin="round"/>
<path d="M143.1 181.7 144.3 180.7 145.3 182.3 146.1 190.38 146.8 193.75 147.7 189.47 149 182.8 150.2 179 151.2 181.1 152.1 181.5 152.8 182.05" stroke="#333" stroke-width="0.35" fill="none" stroke-linejoin="round" stroke-opacity="0.6"/>
<path d="M182 173 183.5 173.4 185 172.8 186.5 173.2 188 172.7 189.5 172.9 191 172.5 192.5 172.3 193.8 172 195.1 171.7M204.1 171 204.8 171.01 205.5 171.67 206.2 171.51 206.9 171.44 207.6 170.37 208.3 170.96 209 170.42 209.7 170.63 210.4 171.48 211.1 170.78 211.8 171.78 212.5 171.62 213.2 171.03 213.9 171.28 214.6 170.34 215.3 170.28 215.5 170.9" stroke="#d43030" stroke-width="0.65" fill="none" stroke-linejoin="round" stroke-opacity="0.85"/>
<path d="M195.1 171.7 196.3 169.68 197.3 172.3 198.1 181.6 198.8 185.5 199.7 180.56 201 172.8 202.2 168.68 203.2 170.6 204.1 171 204.8 171.01" stroke="#d43030" stroke-width="0.6" fill="none" stroke-linejoin="round" stroke-opacity="0.45"/>
<path d="M182 173 183.5 173.4 185 172.8 186.5 173.2 188 172.7 189.5 172.9 191 172.5 192.5 172.3 193.8 172 195.1 171.7M204.1 171 204.8 170.67 205.5 170.99 206.2 171.32 206.9 171.83 207.6 170.7 208.3 171.38 209 170.52 209.7 170.26 210.4 170.16 211.1 170.39 211.8 170.04 212.5 170.41 213.2 171.34 213.9 170.4 214.6 170.96 215.3 170.64 215.5 170.2" stroke="#28289a" stroke-width="0.7" fill="none" stroke-linejoin="round" stroke-opacity="0.85"/>
<path d="M195.1 171.7 196.3 170.24 197.3 172.3 198.1 180.99 198.8 184.62 199.7 180.02 201 172.8 202.2 169.24 203.2 170.6 204.1 171 204.8 170.67" stroke="#2a2a96" stroke-width="0.7" fill="none" stroke-linejoin="round" stroke-opacity="0.9"/>
<path d="M182 173 183.5 173.4 185 172.8 186.5 173.2 188 172.7 189.5 172.9 191 172.5 192.5 172.3 193.8 172 195.1 171.7" stroke="#1a1a1a" stroke-width="0.8" fill="none" stroke-linejoin="round"/>
<path d="M204.1 171 204.8 171.18 205.5 171.75 206.2 171.16 206.9 171.29 207.6 170.94 208.3 170.7 209 170.69 209.7 169.91 210.4 170.63 211.1 170.39 211.8 170.86 212.5 170.85 213.2 171.21 213.9 171.62 214.6 170.9 215.3 170.67 215.5 170.5" stroke="#1a1a1a" stroke-width="0.7" fill="none" stroke-linejoin="round"/>
<path d="M195.1 171.7 196.3 170 197.3 172.3 198.1 181.25 198.8 185 199.7 180.25 201 172.8 202.2 169 203.2 170.6 204.1 171 204.8 171.18" stroke="#333" stroke-width="0.35" fill="none" stroke-linejoin="round" stroke-opacity="0.6"/>
<path d="M232 168 233.5 168.4 235 167.8 236.5 168.2 238 167.7 239.5 167.9 241 167.5 242.5 167.3 243.8 167 245.1 166.7M254.1 166 254.8 166.77 255.5 166.89 256.2 166.78 256.9 166.05 257.6 165.71 258.3 165.53 259 165.64 259.7 165.76 260.4 166.22 261.1 165.99 261.8 166.72 262.5 166.42 263.2 166.53 263.9 165.37 264.6 165.12 265.3 164.76 265.5 165.9" stroke="#d43030" stroke-width="0.65" fill="none" stroke-linejoin="round" stroke-opacity="0.85"/>
<path d="M245.1 166.7 246.3 164.68 247.3 167.3 248.1 177.87 248.8 182.32 249.7 176.69 251 167.8 252.2 163.68 253.2 165.6 254.1 166 254.8 166.77" stroke="#d43030" stroke-width="0.6" fill="none" stroke-linejoin="round" stroke-opacity="0.45"/>
<path d="M232 168 233.5 168.4 235 167.8 236.5 168.2 238 167.7 239.5 167.9 241 167.5 242.5 167.3 243.8 167 245.1 166.7M254.1 166 254.8 165.47 255.5 165.77 256.2 166.04 256.9 166.5 257.6 166.45 258.3 166.32 259 165.01 259.7 165.45 260.4 165.43 261.1 165.03 261.8 164.65 262.5 165.27 263.2 165.2 263.9 165.53 264.6 166.3 265.3 165.61 265.5 165.2" stroke="#28289a" stroke-width="0.7" fill="none" stroke-linejoin="round" stroke-opacity="0.85"/>
<path d="M245.1 166.7 246.3 165.24 247.3 167.3 248.1 177.18 248.8 181.32 249.7 176.07 251 167.8 252.2 164.24 253.2 165.6 254.1 166 254.8 165.47" stroke="#2a2a96" stroke-width="0.7" fill="none" stroke-linejoin="round" stroke-opacity="0.9"/>
<path d="M232 168 233.5 168.4 235 167.8 236.5 168.2 238 167.7 239.5 167.9 241 167.5 242.5 167.3 243.8 167 245.1 166.7" stroke="#1a1a1a" stroke-width="0.8" fill="none" stroke-linejoin="round"/>
<path d="M254.1 166 254.8 166.48 255.5 166.92 256.2 166.69 256.9 166.21 257.6 166.42 258.3 165.98 259 165.37 259.7 164.86 260.4 165 261.1 165.42 261.8 165.63 262.5 166.04 263.2 166.37 263.9 166.57 264.6 165.18 265.3 165.4 265.5 165.5" stroke="#1a1a1a" stroke-width="0.7" fill="none" stroke-linejoin="round"/>
<path d="M245.1 166.7 246.3 165 247.3 167.3 248.1 177.47 248.8 181.75 249.7 176.34 251 167.8 252.2 164 253.2 165.6 254.1 166 254.8 166.48" stroke="#333" stroke-width="0.35" fill="none" stroke-linejoin="round" stroke-opacity="0.6"/>
<path d="M281 165 282.5 165.4 284 164.8 285.5 165.2 287 164.7 288.5 164.9 290 164.5 291.5 164.3 292.8 164 294.1 163.7M303.1 163 303.8 163.16 304.5 162.96 305.2 162.69 305.9 163.14 306.6 162.12 307.3 162.94 308 161.91 308.7 163.09 309.4 162.56 310.1 162.76 310.8 163.78 311.5 163.16 312.2 163.5 312.9 162.47 313.6 161.96 314.3 162.64 314.5 162.9" stroke="#d43030" stroke-width="0.65" fill="none" stroke-linejoin="round" stroke-opacity="0.85"/>
<path d="M294.1 163.7 295.3 161.68 296.3 164.3 297.1 174.87 297.8 179.32 298.7 173.69 300 164.8 301.2 160.68 302.2 162.6 303.1 163 303.8 163.16" stroke="#d43030" stroke-width="0.6" fill="none" stroke-linejoin="round" stroke-opacity="0.45"/>
<path d="M281 165 282.5 165.4 284 164.8 285.5 165.2 287 164.7 288.5 164.9 290 164.5 291.5 164.3 292.8 164 294.1 163.7M303.1 163 303.8 162.12 304.5 162.54 305.2 163.65 305.9 163.49 306.6 163.79 307.3 162.91 308 161.98 308.7 162.04 309.4 162.07 310.1 162.5 310.8 162.77 311.5 162.48 312.2 162.69 312.9 162.43 313.6 162.97 314.3 162.13 314.5 162.2" stroke="#28289a" stroke-width="0.7" fill="none" stroke-linejoin="round" stroke-opacity="0.85"/>
<path d="M294.1 163.7 295.3 162.24 296.3 164.3 297.1 174.18 297.8 178.32 298.7 173.07 300 164.8 301.2 161.24 302.2 162.6 303.1 163 303.8 162.12" stroke="#2a2a96" stroke-width="0.7" fill="none" stroke-linejoin="round" stroke-opacity="0.9"/>
<path d="M281 165 282.5 165.4 284 164.8 285.5 165.2 287 164.7 288.5 164.9 290 164.5 291.5 164.3 292.8 164 294.1 163.7" stroke="#1a1a1a" stroke-width="0.8" fill="none" stroke-linejoin="round"/>
<path d="M303.1 163 303.8 163.4 304.5 163.85 305.2 163.78 305.9 162.87 306.6 163.19 307.3 162.88 308 162.25 308.7 162.67 309.4 161.94 310.1 163.07 310.8 163.11 311.5 162.53 312.2 162.62 312.9 163.23 313.6 163.1 314.3 161.81 314.5 162.5" stroke="#1a1a1a" stroke-width="0.7" fill="none" stroke-linejoin="round"/>
<path d="M294.1 163.7 295.3 162 296.3 164.3 297.1 174.47 297.8 178.75 298.7 173.34 300 164.8 301.2 161 302.2 162.6 303.1 163 303.8 163.4" stroke="#333" stroke-width="0.35" fill="none" stroke-linejoin="round" stroke-opacity="0.6"/>
<path d="M327 164 328.5 164.4 330 163.8 331.5 164.2 333 163.7 334.5 163.9 336 163.5 337.5 163.3 338.8 163 340.1 162.7M349.1 162 349.8 162.44 350.5 162.88 351.2 162.82 351.9 162.26 352.6 161.65 353.3 161.13 354 160.88 354.7 162.22 355.4 162.25 356.1 162.73 356.8 162.32 357.5 162.6 358.2 162.79 358.9 162.25 359.6 161.63 360.3 161.08 360.5 161.9" stroke="#d43030" stroke-width="0.65" fill="none" stroke-linejoin="round" stroke-opacity="0.85"/>
<path d="M340.1 162.7 341.3 160.68 342.3 163.3 343.1 174.78 343.8 179.62 344.7 173.49 346 163.8 347.2 159.68 348.2 161.6 349.1 162 349.8 162.44" stroke="#d43030" stroke-width="0.6" fill="none" stroke-linejoin="round" stroke-opacity="0.45"/>
<path d="M327 164 328.5 164.4 330 163.8 331.5 164.2 333 163.7 334.5 163.9 336 163.5 337.5 163.3 338.8 163 340.1 162.7M349.1 162 349.8 161.45 350.5 162.27 351.2 161.88 351.9 162.83 352.6 162.27 353.3 161.45 354 161.4 354.7 161.27 355.4 160.89 356.1 161.19 356.8 160.77 357.5 161.87 358.2 161.63 358.9 162.08 359.6 161.95 360.3 161.38 360.5 161.2" stroke="#28289a" stroke-width="0.7" fill="none" stroke-linejoin="round" stroke-opacity="0.85"/>
<path d="M340.1 162.7 341.3 161.24 342.3 163.3 343.1 174.02 343.8 178.53 344.7 172.82 346 163.8 347.2 160.24 348.2 161.6 349.1 162 349.8 161.45" stroke="#2a2a96" stroke-width="0.7" fill="none" stroke-linejoin="round" stroke-opacity="0.9"/>
<path d="M327 164 328.5 164.4 330 163.8 331.5 164.2 333 163.7 334.5 163.9 336 163.5 337.5 163.3 338.8 163 340.1 162.7" stroke="#1a1a1a" stroke-width="0.8" fill="none" stroke-linejoin="round"/>
<path d="M349.1 162 349.8 162.06 350.5 162.89 351.2 162.36 351.9 162.59 352.6 162.16 353.3 162.11 354 161.67 354.7 160.89 355.4 160.64 356.1 161.23 356.8 161.76 357.5 162.22 358.2 162.58 358.9 162.52 359.6 161.17 360.3 161.71 360.5 161.5" stroke="#1a1a1a" stroke-width="0.7" fill="none" stroke-linejoin="round"/>
<path d="M340.1 162.7 341.3 161 342.3 163.3 343.1 174.35 343.8 179 344.7 173.11 346 163.8 347.2 160 348.2 161.6 349.1 162 349.8 162.06" stroke="#333" stroke-width="0.35" fill="none" stroke-linejoin="round" stroke-opacity="0.6"/>
<path d="M374 165 375.5 165.4 377 164.8 378.5 165.2 380 164.7 381.5 164.9 383 164.5 384.5 164.3 385.8 164 387.1 163.7M396.1 163 396.8 163.71 397.5 163.75 398.2 163.25 398.9 162.57 399.6 162.28 400.3 162.68 401 162.76 401.7 162.6 402.4 162.51 403.1 163.71 403.8 163.85 404.5 163.15 405.2 163.31 405.9 163.33 406.6 162.97 407.3 162.34 407.5 162.9" stroke="#d43030" stroke-width="0.65" fill="none" stroke-linejoin="round" stroke-opacity="0.85"/>
<path d="M387.1 163.7 388.3 161.68 389.3 164.3 390.1 175.06 390.8 179.58 391.7 173.85 393 164.8 394.2 160.68 395.2 162.6 396.1 163 396.8 163.71" stroke="#d43030" stroke-width="0.6" fill="none" stroke-linejoin="round" stroke-opacity="0.45"/>
<path d="M374 165 375.5 165.4 377 164.8 378.5 165.2 380 164.7 381.5 164.9 383 164.5 384.5 164.3 385.8 164 387.1 163.7M396.1 163 396.8 163.05 397.5 163.43 398.2 163.36 398.9 163.12 399.6 163.71 400.3 163.34 401 162.78 401.7 162.68 402.4 161.78 403.1 161.48 403.8 162.26 404.5 162.87 405.2 162.43 405.9 163.21 406.6 163.31 407.3 162.16 407.5 162.2" stroke="#28289a" stroke-width="0.7" fill="none" stroke-linejoin="round" stroke-opacity="0.85"/>
<path d="M387.1 163.7 388.3 162.24 389.3 164.3 390.1 174.35 390.8 178.56 391.7 173.22 393 164.8 394.2 161.24 395.2 162.6 396.1 163 396.8 163.05" stroke="#2a2a96" stroke-width="0.7" fill="none" stroke-linejoin="round" stroke-opacity="0.9"/>
<path d="M374 165 375.5 165.4 377 164.8 378.5 165.2 380 164.7 381.5 164.9 383 164.5 384.5 164.3 385.8 164 387.1 163.7" stroke="#1a1a1a" stroke-width="0.8" fill="none" stroke-linejoin="round"/>
<path d="M396.1 163 396.8 163.12 397.5 163.53 398.2 163.13 398.9 163 399.6 162.65 400.3 162.87 401 162.14 401.7 162.23 402.4 162.12 403.1 162.53 403.8 162.43 404.5 162.57 405.2 163.8 405.9 162.9 406.6 162.24 407.3 162.47 407.5 162.5" stroke="#1a1a1a" stroke-width="0.7" fill="none" stroke-linejoin="round"/>
<path d="M387.1 163.7 388.3 162 389.3 164.3 390.1 174.65 390.8 179 391.7 173.49 393 164.8 394.2 161 395.2 162.6 396.1 163 396.8 163.12" stroke="#333" stroke-width="0.35" fill="none" stroke-linejoin="round" stroke-opacity="0.6"/>
<path d="M422 166 423.5 166.4 425 165.8 426.5 166.2 428 165.7 429.5 165.9 431 165.5 432.5 165.3 433.8 165 435.1 164.7M444.1 164 444.8 164.96 445.5 165.1 446.2 163.99 446.9 163.37 447.6 163.21 448.3 162.99 449 162.91 449.7 163.11 450.4 164.07 451.1 164.78 451.8 164.47 452.5 165.01 453.2 164.71 453.9 163.33 454.6 163.62 455.3 163.19 455.5 163.9" stroke="#d43030" stroke-width="0.65" fill="none" stroke-linejoin="round" stroke-opacity="0.85"/>
<path d="M435.1 164.7 436.3 162.68 437.3 165.3 438.1 175.51 438.8 179.8 439.7 174.37 441 165.8 442.2 161.68 443.2 163.6 444.1 164 444.8 164.96" stroke="#d43030" stroke-width="0.6" fill="none" stroke-linejoin="round" stroke-opacity="0.45"/>
<path d="M422 166 423.5 166.4 425 165.8 426.5 166.2 428 165.7 429.5 165.9 431 165.5 432.5 165.3 433.8 165 435.1 164.7M444.1 164 444.8 164.02 445.5 163.58 446.2 164.39 446.9 164.21 447.6 164.31 448.3 163.4 449 163 449.7 163.77 450.4 163.4 451.1 162.96 451.8 163.27 452.5 163.23 453.2 164.13 453.9 163.82 454.6 164.33 455.3 163.8 455.5 163.2" stroke="#28289a" stroke-width="0.7" fill="none" stroke-linejoin="round" stroke-opacity="0.85"/>
<path d="M435.1 164.7 436.3 163.24 437.3 165.3 438.1 174.84 438.8 178.84 439.7 173.77 441 165.8 442.2 162.24 443.2 163.6 444.1 164 444.8 164.02" stroke="#2a2a96" stroke-width="0.7" fill="none" stroke-linejoin="round" stroke-opacity="0.9"/>
<path d="M422 166 423.5 166.4 425 165.8 426.5 166.2 428 165.7 429.5 165.9 431 165.5 432.5 165.3 433.8 165 435.1 164.7" stroke="#1a1a1a" stroke-width="0.8" fill="none" stroke-linejoin="round"/>
<path d="M444.1 164 444.8 163.69 445.5 164.97 446.2 164.22 446.9 164.44 447.6 164.2 448.3 164.18 449 163.5 449.7 163.03 450.4 163.18 451.1 163.1 451.8 164.41 452.5 164.71 453.2 163.87 453.9 163.5 454.6 163.42 455.3 163.14 455.5 163.5" stroke="#1a1a1a" stroke-width="0.7" fill="none" stroke-linejoin="round"/>
<path d="M435.1 164.7 436.3 163 437.3 165.3 438.1 175.12 438.8 179.25 439.7 174.03 441 165.8 442.2 162 443.2 163.6 444.1 164 444.8 163.69" stroke="#333" stroke-width="0.35" fill="none" stroke-linejoin="round" stroke-opacity="0.6"/>
<path d="M472 172 473.5 172.4 475 171.8 476.5 172.2 478 171.7 479.5 171.9 481 171.5 482.5 171.3 483.8 171 485.1 170.7M494.1 170 494.8 170.1 495.5 170.33 496.2 170 496.9 169.47 497.6 169.55 498.3 168.98 499 169.09 499.7 169.22 500.4 170.22 501.1 169.75 501.8 170.78 502.5 170.11 503.2 169.66 503.9 170.36 504.6 169.17 505.3 169.83 505.5 169.9" stroke="#d43030" stroke-width="0.65" fill="none" stroke-linejoin="round" stroke-opacity="0.85"/>
<path d="M485.1 170.7 486.3 168.68 487.3 171.3 488.1 178.78 488.8 181.9 489.7 177.95 491 171.8 492.2 167.68 493.2 169.6 494.1 170 494.8 170.1" stroke="#d43030" stroke-width="0.6" fill="none" stroke-linejoin="round" stroke-opacity="0.45"/>
<path d="M472 172 473.5 172.4 475 171.8 476.5 172.2 478 171.7 479.5 171.9 481 171.5 482.5 171.3 483.8 171 485.1 170.7M494.1 170 494.8 170.16 495.5 170.48 496.2 170.68 496.9 169.85 497.6 170.63 498.3 170.23 499 169.74 499.7 169.76 500.4 168.43 501.1 168.55 501.8 169.5 502.5 170.04 503.2 170 503.9 169.66 504.6 169.9 505.3 169.79 505.5 169.2" stroke="#28289a" stroke-width="0.7" fill="none" stroke-linejoin="round" stroke-opacity="0.85"/>
<path d="M485.1 170.7 486.3 169.24 487.3 171.3 488.1 178.29 488.8 181.2 489.7 177.51 491 171.8 492.2 168.24 493.2 169.6 494.1 170 494.8 170.16" stroke="#2a2a96" stroke-width="0.7" fill="none" stroke-linejoin="round" stroke-opacity="0.9"/>
<path d="M472 172 473.5 172.4 475 171.8 476.5 172.2 478 171.7 479.5 171.9 481 171.5 482.5 171.3 483.8 171 485.1 170.7" stroke="#1a1a1a" stroke-width="0.8" fill="none" stroke-linejoin="round"/>
<path d="M494.1 170 494.8 170.59 495.5 170.89 496.2 170.08 496.9 170.3 497.6 169.55 498.3 170.15 499 169.71 499.7 169.31 500.4 169.18 501.1 169.32 501.8 170.24 502.5 170.09 503.2 170.35 503.9 169.62 504.6 169.38 505.3 168.78 505.5 169.5" stroke="#1a1a1a" stroke-width="0.7" fill="none" stroke-linejoin="round"/>
<path d="M485.1 170.7 486.3 169 487.3 171.3 488.1 178.5 488.8 181.5 489.7 177.7 491 171.8 492.2 168 493.2 169.6 494.1 170 494.8 170.59" stroke="#333" stroke-width="0.35" fill="none" stroke-linejoin="round" stroke-opacity="0.6"/>
<path d="M523 181 524.5 181.4 526 180.8 527.5 181.2 529 180.7 530.5 180.9 532 180.5 533.5 180.3 534.8 180 536.1 179.7M545.1 179.5 545.8 179.6 546.5 180.62 547.2 180.16 547.9 179.29 548.6 179.32 549.3 178.95 550 179 550.7 179.23 551.4 179.84 552.1 180.98 552.8 181.22 553.5 181.15 554.2 179.95 554.9 179.87 555.6 180.31 556.3 179.17 556.5 180.3" stroke="#d43030" stroke-width="0.65" fill="none" stroke-linejoin="round" stroke-opacity="0.85"/>
<path d="M536.1 179.7 537.3 178.38 538.3 180.3 539.1 188.69 539.8 192.2 540.7 187.75 542 180.8 543.2 176.68 544.2 179.1 545.1 179.5 545.8 179.6" stroke="#d43030" stroke-width="0.6" fill="none" stroke-linejoin="round" stroke-opacity="0.45"/>
<path d="M523 181 524.5 181.4 526 180.8 527.5 181.2 529 180.7 530.5 180.9 532 180.5 533.5 180.3 534.8 180 536.1 179.7M545.1 179.5 545.8 179.49 546.5 179.67 547.2 179.52 547.9 180.56 548.6 179.78 549.3 179.7 550 179.03 550.7 178.85 551.4 179.37 552.1 178.83 552.8 178.9 553.5 179.66 554.2 179.79 554.9 180.66 555.6 179.66 556.3 180.43 556.5 179.6" stroke="#28289a" stroke-width="0.7" fill="none" stroke-linejoin="round" stroke-opacity="0.85"/>
<path d="M536.1 179.7 537.3 178.94 538.3 180.3 539.1 188.14 539.8 191.41 540.7 187.27 542 180.8 543.2 177.24 544.2 179.1 545.1 179.5 545.8 179.49" stroke="#2a2a96" stroke-width="0.7" fill="none" stroke-linejoin="round" stroke-opacity="0.9"/>
<path d="M523 181 524.5 181.4 526 180.8 527.5 181.2 529 180.7 530.5 180.9 532 180.5 533.5 180.3 534.8 180 536.1 179.7" stroke="#1a1a1a" stroke-width="0.8" fill="none" stroke-linejoin="round"/>
<path d="M545.1 179.5 545.8 179.98 546.5 179.78 547.2 180.75 547.9 179.5 548.6 180.18 549.3 179.27 550 178.75 550.7 178.5 551.4 179.64 552.1 179.59 552.8 179.58 553.5 180.21 554.2 180.91 554.9 179.99 555.6 180.13 556.3 179.26 556.5 179.9" stroke="#1a1a1a" stroke-width="0.7" fill="none" stroke-linejoin="round"/>
<path d="M536.1 179.7 537.3 178.7 538.3 180.3 539.1 188.38 539.8 191.75 540.7 187.47 542 180.8 543.2 177 544.2 179.1 545.1 179.5 545.8 179.98" stroke="#333" stroke-width="0.35" fill="none" stroke-linejoin="round" stroke-opacity="0.6"/>
<path d="M569 190 570.5 190.4 572 189.8 573.5 190.2 575 189.7 576.5 189.9 578 189.5 579.5 189.3 580.8 189 582.1 188.7M591.1 188.5 591.8 189.41 592.5 189.04 593.2 189.22 593.9 188.11 594.6 188.72 595.3 188.01 596 188.7 596.7 189.03 597.4 188.99 598.1 188.81 598.8 190.12 599.5 189.61 600.2 189.88 600.9 188.84 601.6 188.46 602.3 189.1 602.5 189.3" stroke="#d43030" stroke-width="0.65" fill="none" stroke-linejoin="round" stroke-opacity="0.85"/>
<path d="M582.1 188.7 583.3 187.38 584.3 189.3 585.1 196.42 585.8 199.38 586.7 195.63 588 189.8 589.2 185.68 590.2 188.1 591.1 188.5 591.8 189.41" stroke="#d43030" stroke-width="0.6" fill="none" stroke-linejoin="round" stroke-opacity="0.45"/>
<path d="M569 190 570.5 190.4 572 189.8 573.5 190.2 575 189.7 576.5 189.9 578 189.5 579.5 189.3 580.8 189 582.1 188.7M591.1 188.5 591.8 187.85 592.5 188.93 593.2 189.2 593.9 188.75 594.6 188.56 595.3 188.31 596 188.58 596.7 188.12 597.4 187.69 598.1 187.68 598.8 188.44 599.5 188.92 600.2 189.38 600.9 189.28 601.6 188.76 602.3 188.34 602.5 188.6" stroke="#28289a" stroke-width="0.7" fill="none" stroke-linejoin="round" stroke-opacity="0.85"/>
<path d="M582.1 188.7 583.3 187.94 584.3 189.3 585.1 195.95 585.8 198.72 586.7 195.21 588 189.8 589.2 186.24 590.2 188.1 591.1 188.5 591.8 187.85" stroke="#2a2a96" stroke-width="0.7" fill="none" stroke-linejoin="round" stroke-opacity="0.9"/>
<path d="M569 190 570.5 190.4 572 189.8 573.5 190.2 575 189.7 576.5 189.9 578 189.5 579.5 189.3 580.8 189 582.1 188.7" stroke="#1a1a1a" stroke-width="0.8" fill="none" stroke-linejoin="round"/>
<path d="M591.1 188.5 591.8 188.54 592.5 188.63 593.2 189.02 593.9 189.2 594.6 188.22 595.3 188.49 596 188.12 596.7 188.12 597.4 187.78 598.1 188.82 598.8 189.34 599.5 189.72 600.2 189.2 600.9 189.58 601.6 188.9 602.3 189 602.5 188.9" stroke="#1a1a1a" stroke-width="0.7" fill="none" stroke-linejoin="round"/>
<path d="M582.1 188.7 583.3 187.7 584.3 189.3 585.1 196.15 585.8 199 586.7 195.39 588 189.8 589.2 186 590.2 188.1 591.1 188.5 591.8 188.54" stroke="#333" stroke-width="0.35" fill="none" stroke-linejoin="round" stroke-opacity="0.6"/>
<path d="M154 225 155.5 225.4 157 224.8 158.5 225.2 160 224.7 161.5 224.9 163 224.5 164.5 224.3 165.8 224 167.1 223.7M176.1 223.5 176.8 224.35 177.5 223.74 178.2 223.3 178.9 223.66 179.6 223.32 180.3 223.09 181 223.37 181.7 222.92 182.4 224.22 183.1 224.41 183.8 223.81 184.5 223.89 185.2 224.11 185.9 223.78 186.6 223.2 187.3 222.85 187.5 223.9" stroke="#d43030" stroke-width="0.65" fill="none" stroke-linejoin="round" stroke-opacity="0.85"/>
<path d="M167.1 223.7 168.3 222.68 169.3 224.3 170.1 230.51 170.8 233.08 171.7 229.82 173 224.8 174.2 221.68 175.2 223.1 176.1 223.5 176.8 224.35" stroke="#d43030" stroke-width="0.6" fill="none" stroke-linejoin="round" stroke-opacity="0.45"/>
<path d="M154 225 155.5 225.4 157 224.8 158.5 225.2 160 224.7 161.5 224.9 163 224.5 164.5 224.3 165.8 224 167.1 223.7M176.1 223.5 176.8 222.68 177.5 224 178.2 224.41 178.9 224.01 179.6 223.96 180.3 223.7 181 223.32 181.7 222.35 182.4 223.3 183.1 222.45 183.8 222.65 184.5 222.9 185.2 223.39 185.9 224.22 186.6 223.19 187.3 222.98 187.5 223.2" stroke="#28289a" stroke-width="0.7" fill="none" stroke-linejoin="round" stroke-opacity="0.85"/>
<path d="M167.1 223.7 168.3 223.24 169.3 224.3 170.1 230.1 170.8 232.5 171.7 229.46 173 224.8 174.2 222.24 175.2 223.1 176.1 223.5 176.8 222.68" stroke="#2a2a96" stroke-width="0.7" fill="none" stroke-linejoin="round" stroke-opacity="0.9"/>
<path d="M154 225 155.5 225.4 157 224.8 158.5 225.2 160 224.7 161.5 224.9 163 224.5 164.5 224.3 165.8 224 167.1 223.7" stroke="#1a1a1a" stroke-width="0.8" fill="none" stroke-linejoin="round"/>
<path d="M176.1 223.5 176.8 223.57 177.5 223.55 178.2 224.21 178.9 224.42 179.6 223.26 180.3 223.4 181 223.31 181.7 222.5 182.4 223.41 183.1 223.84 183.8 223.56 184.5 223.89 185.2 224.51 185.9 224.01 186.6 223.55 187.3 223.84 187.5 223.5" stroke="#1a1a1a" stroke-width="0.7" fill="none" stroke-linejoin="round"/>
<path d="M167.1 223.7 168.3 223 169.3 224.3 170.1 230.28 170.8 232.75 171.7 229.62 173 224.8 174.2 222 175.2 223.1 176.1 223.5 176.8 223.57" stroke="#333" stroke-width="0.35" fill="none" stroke-linejoin="round" stroke-opacity="0.6"/>
<path d="M198 211 199.5 211.4 201 210.8 202.5 211.2 204 210.7 205.5 210.9 207 210.5 208.5 210.3 209.8 210 211.1 209.7M220.1 209 220.8 209.7 221.5 209.3 222.2 209.22 222.9 208.26 223.6 208.31 224.3 208.16 225 207.57 225.7 207.92 226.4 209.24 227.1 209.3 227.8 209.64 228.5 209.19 229.2 209.11 229.9 208.79 230.6 208.41 231.3 207.17 231.5 208.3" stroke="#d43030" stroke-width="0.65" fill="none" stroke-linejoin="round" stroke-opacity="0.85"/>
<path d="M211.1 209.7 212.3 208.18 213.3 210.3 214.1 217.42 214.8 220.38 215.7 216.63 217 210.8 218.2 207.18 219.2 208.6 220.1 209 220.8 209.7" stroke="#d43030" stroke-width="0.6" fill="none" stroke-linejoin="round" stroke-opacity="0.45"/>
<path d="M198 211 199.5 211.4 201 210.8 202.5 211.2 204 210.7 205.5 210.9 207 210.5 208.5 210.3 209.8 210 211.1 209.7M220.1 209 220.8 208.97 221.5 208.73 222.2 208.85 222.9 209.05 223.6 209.03 224.3 209.33 225 208.67 225.7 208.38 226.4 208.01 227.1 208.03 227.8 207.25 228.5 208.09 229.2 208.86 229.9 208.91 230.6 207.94 231.3 207.79 231.5 207.6" stroke="#28289a" stroke-width="0.7" fill="none" stroke-linejoin="round" stroke-opacity="0.85"/>
<path d="M211.1 209.7 212.3 208.74 213.3 210.3 214.1 216.95 214.8 219.72 215.7 216.21 217 210.8 218.2 207.74 219.2 208.6 220.1 209 220.8 208.97" stroke="#2a2a96" stroke-width="0.7" fill="none" stroke-linejoin="round" stroke-opacity="0.9"/>
<path d="M198 211 199.5 211.4 201 210.8 202.5 211.2 204 210.7 205.5 210.9 207 210.5 208.5 210.3 209.8 210 211.1 209.7" stroke="#1a1a1a" stroke-width="0.8" fill="none" stroke-linejoin="round"/>
<path d="M220.1 209 220.8 209.28 221.5 209.07 222.2 209.61 222.9 208.95 223.6 208.9 224.3 208.92 225 208.19 225.7 207.56 226.4 207.93 227.1 208.06 227.8 208.99 228.5 208.42 229.2 208.49 229.9 208.71 230.6 207.71 231.3 207.84 231.5 207.9" stroke="#1a1a1a" stroke-width="0.7" fill="none" stroke-linejoin="round"/>
<path d="M211.1 209.7 212.3 208.5 213.3 210.3 214.1 217.15 214.8 220 215.7 216.39 217 210.8 218.2 207.5 219.2 208.6 220.1 209 220.8 209.28" stroke="#333" stroke-width="0.35" fill="none" stroke-linejoin="round" stroke-opacity="0.6"/>
<path d="M242 201 243.5 201.4 245 200.8 246.5 201.2 248 200.7 249.5 200.9 251 200.5 252.5 200.3 253.8 200 255.1 199.7M264.1 199 264.8 199.63 265.5 199.65 266.2 198.82 266.9 199.03 267.6 198.34 268.3 198.21 269 198.28 269.7 198.32 270.4 198.45 271.1 198.66 271.8 198.78 272.5 199.05 273.2 198.6 273.9 198.44 274.6 197.37 275.3 197.55 275.5 198.3" stroke="#d43030" stroke-width="0.65" fill="none" stroke-linejoin="round" stroke-opacity="0.85"/>
<path d="M255.1 199.7 256.3 198.18 257.3 200.3 258.1 209.96 258.8 214.02 259.7 208.88 261 200.8 262.2 197.18 263.2 198.6 264.1 199 264.8 199.63" stroke="#d43030" stroke-width="0.6" fill="none" stroke-linejoin="round" stroke-opacity="0.45"/>
<path d="M242 201 243.5 201.4 245 200.8 246.5 201.2 248 200.7 249.5 200.9 251 200.5 252.5 200.3 253.8 200 255.1 199.7M264.1 199 264.8 199.19 265.5 198.94 266.2 198.89 266.9 199.21 267.6 199.14 268.3 198.33 269 197.85 269.7 197.44 270.4 197.39 271.1 197.5 271.8 197.53 272.5 197.76 273.2 197.82 273.9 198.45 274.6 198.65 275.3 198.02 275.5 197.6" stroke="#28289a" stroke-width="0.7" fill="none" stroke-linejoin="round" stroke-opacity="0.85"/>
<path d="M255.1 199.7 256.3 198.74 257.3 200.3 258.1 209.33 258.8 213.11 259.7 208.32 261 200.8 262.2 197.74 263.2 198.6 264.1 199 264.8 199.19" stroke="#2a2a96" stroke-width="0.7" fill="none" stroke-linejoin="round" stroke-opacity="0.9"/>
<path d="M242 201 243.5 201.4 245 200.8 246.5 201.2 248 200.7 249.5 200.9 251 200.5 252.5 200.3 253.8 200 255.1 199.7" stroke="#1a1a1a" stroke-width="0.8" fill="none" stroke-linejoin="round"/>
<path d="M264.1 199 264.8 199.55 265.5 199.03 266.2 199.47 266.9 199.21 267.6 198.59 268.3 199 269 197.8 269.7 198.19 270.4 197.5 271.1 197.62 271.8 198.89 272.5 198.61 273.2 198.2 273.9 198.4 274.6 198.09 275.3 198.01 275.5 197.9" stroke="#1a1a1a" stroke-width="0.7" fill="none" stroke-linejoin="round"/>
<path d="M255.1 199.7 256.3 198.5 257.3 200.3 258.1 209.6 258.8 213.5 259.7 208.56 261 200.8 262.2 197.5 263.2 198.6 264.1 199 264.8 199.55" stroke="#333" stroke-width="0.35" fill="none" stroke-linejoin="round" stroke-opacity="0.6"/>
<path d="M285 195 286.5 195.4 288 194.8 289.5 195.2 291 194.7 292.5 194.9 294 194.5 295.5 194.3 296.8 194 298.1 193.7M307.1 193 307.8 193.88 308.5 193.72 309.2 193.68 309.9 192.33 310.6 192.83 311.3 191.56 312 192.47 312.7 192.46 313.4 192.67 314.1 193.53 314.8 193.2 315.5 192.93 316.2 193.08 316.9 192.78 317.6 192.08 318.3 191.58 318.5 192.3" stroke="#d43030" stroke-width="0.65" fill="none" stroke-linejoin="round" stroke-opacity="0.85"/>
<path d="M298.1 193.7 299.3 192.18 300.3 194.3 301.1 204.87 301.8 209.32 302.7 203.69 304 194.8 305.2 191.18 306.2 192.6 307.1 193 307.8 193.88" stroke="#d43030" stroke-width="0.6" fill="none" stroke-linejoin="round" stroke-opacity="0.45"/>
<path d="M285 195 286.5 195.4 288 194.8 289.5 195.2 291 194.7 292.5 194.9 294 194.5 295.5 194.3 296.8 194 298.1 193.7M307.1 193 307.8 192.17 308.5 192.59 309.2 193.72 309.9 193.54 310.6 192.69 311.3 192.56 312 192.12 312.7 192.1 313.4 191.77 314.1 192.03 314.8 192.17 315.5 192.09 316.2 192.6 316.9 192.68 317.6 192.55 318.3 191.86 318.5 191.6" stroke="#28289a" stroke-width="0.7" fill="none" stroke-linejoin="round" stroke-opacity="0.85"/>
<path d="M298.1 193.7 299.3 192.74 300.3 194.3 301.1 204.18 301.8 208.32 302.7 203.07 304 194.8 305.2 191.74 306.2 192.6 307.1 193 307.8 192.17" stroke="#2a2a96" stroke-width="0.7" fill="none" stroke-linejoin="round" stroke-opacity="0.9"/>
<path d="M285 195 286.5 195.4 288 194.8 289.5 195.2 291 194.7 292.5 194.9 294 194.5 295.5 194.3 296.8 194 298.1 193.7" stroke="#1a1a1a" stroke-width="0.8" fill="none" stroke-linejoin="round"/>
<path d="M307.1 193 307.8 193.05 308.5 193.3 309.2 193.67 309.9 192.97 310.6 192.72 311.3 192.48 312 191.9 312.7 191.65 313.4 192.25 314.1 192.56 314.8 192.45 315.5 192.61 316.2 192.34 316.9 192.3 317.6 191.74 318.3 191.82 318.5 191.9" stroke="#1a1a1a" stroke-width="0.7" fill="none" stroke-linejoin="round"/>
<path d="M298.1 193.7 299.3 192.5 300.3 194.3 301.1 204.47 301.8 208.75 302.7 203.34 304 194.8 305.2 191.5 306.2 192.6 307.1 193 307.8 193.05" stroke="#333" stroke-width="0.35" fill="none" stroke-linejoin="round" stroke-opacity="0.6"/>
<path d="M327 194 328.5 194.4 330 193.8 331.5 194.2 333 193.7 334.5 193.9 336 193.5 337.5 193.3 338.8 193 340.1 192.7M349.1 192 349.8 192.59 350.5 193.06 351.2 192.2 351.9 191.79 352.6 191.61 353.3 191.02 354 190.98 354.7 191.47 355.4 191.49 356.1 192.51 356.8 192.33 357.5 192.06 358.2 191.26 358.9 191.18 359.6 190.83 360.3 190.8 360.5 191.3" stroke="#d43030" stroke-width="0.65" fill="none" stroke-linejoin="round" stroke-opacity="0.85"/>
<path d="M340.1 192.7 341.3 191.18 342.3 193.3 343.1 204.42 343.8 209.1 344.7 203.17 346 193.8 347.2 190.18 348.2 191.6 349.1 192 349.8 192.59" stroke="#d43030" stroke-width="0.6" fill="none" stroke-linejoin="round" stroke-opacity="0.45"/>
<path d="M327 194 328.5 194.4 330 193.8 331.5 194.2 333 193.7 334.5 193.9 336 193.5 337.5 193.3 338.8 193 340.1 192.7M349.1 192 349.8 191.74 350.5 191.43 351.2 192.67 351.9 192.04 352.6 192.52 353.3 192.16 354 191.85 354.7 190.53 355.4 190.54 356.1 191.1 356.8 190.2 357.5 190.53 358.2 191.39 358.9 191.39 359.6 191.74 360.3 191.21 360.5 190.6" stroke="#28289a" stroke-width="0.7" fill="none" stroke-linejoin="round" stroke-opacity="0.85"/>
<path d="M340.1 192.7 341.3 191.74 342.3 193.3 343.1 203.69 343.8 208.05 344.7 202.52 346 193.8 347.2 190.74 348.2 191.6 349.1 192 349.8 191.74" stroke="#2a2a96" stroke-width="0.7" fill="none" stroke-linejoin="round" stroke-opacity="0.9"/>
<path d="M327 194 328.5 194.4 330 193.8 331.5 194.2 333 193.7 334.5 193.9 336 193.5 337.5 193.3 338.8 193 340.1 192.7" stroke="#1a1a1a" stroke-width="0.8" fill="none" stroke-linejoin="round"/>
<path d="M349.1 192 349.8 192.2 350.5 192.8 351.2 192.95 351.9 192.2 352.6 191.78 353.3 191.56 354 191.64 354.7 190.67 355.4 190.94 356.1 191.52 356.8 191.05 357.5 191.46 358.2 192.3 358.9 191.93 359.6 191.18 360.3 190.26 360.5 190.9" stroke="#1a1a1a" stroke-width="0.7" fill="none" stroke-linejoin="round"/>
<path d="M340.1 192.7 341.3 191.5 342.3 193.3 343.1 204 343.8 208.5 344.7 202.8 346 193.8 347.2 190.5 348.2 191.6 349.1 192 349.8 192.2" stroke="#333" stroke-width="0.35" fill="none" stroke-linejoin="round" stroke-opacity="0.6"/>
<path d="M370 196 371.5 196.4 373 195.8 374.5 196.2 376 195.7 377.5 195.9 379 195.5 380.5 195.3 381.8 195 383.1 194.7M392.1 194 392.8 194.71 393.5 193.92 394.2 194.07 394.9 194.12 395.6 193.16 396.3 193.39 397 192.55 397.7 193.12 398.4 194.08 399.1 194.07 399.8 194.32 400.5 193.67 401.2 193.74 401.9 193.4 402.6 192.67 403.3 192.9 403.5 193.3" stroke="#d43030" stroke-width="0.65" fill="none" stroke-linejoin="round" stroke-opacity="0.85"/>
<path d="M383.1 194.7 384.3 193.18 385.3 195.3 386.1 205.15 386.8 209.28 387.7 204.04 389 195.8 390.2 192.18 391.2 193.6 392.1 194 392.8 194.71" stroke="#d43030" stroke-width="0.6" fill="none" stroke-linejoin="round" stroke-opacity="0.45"/>
<path d="M370 196 371.5 196.4 373 195.8 374.5 196.2 376 195.7 377.5 195.9 379 195.5 380.5 195.3 381.8 195 383.1 194.7M392.1 194 392.8 194.11 393.5 194.15 394.2 194.55 394.9 194.84 395.6 194.57 396.3 193.66 397 192.89 397.7 192.63 398.4 192.65 399.1 192.61 399.8 192.41 400.5 192.69 401.2 193.47 401.9 193.51 402.6 193.06 403.3 193.48 403.5 192.6" stroke="#28289a" stroke-width="0.7" fill="none" stroke-linejoin="round" stroke-opacity="0.85"/>
<path d="M383.1 194.7 384.3 193.74 385.3 195.3 386.1 204.5 386.8 208.35 387.7 203.47 389 195.8 390.2 192.74 391.2 193.6 392.1 194 392.8 194.11" stroke="#2a2a96" stroke-width="0.7" fill="none" stroke-linejoin="round" stroke-opacity="0.9"/>
<path d="M370 196 371.5 196.4 373 195.8 374.5 196.2 376 195.7 377.5 195.9 379 195.5 380.5 195.3 381.8 195 383.1 194.7" stroke="#1a1a1a" stroke-width="0.8" fill="none" stroke-linejoin="round"/>
<path d="M392.1 194 392.8 194.15 393.5 194.94 394.2 194.49 394.9 194.11 395.6 193.4 396.3 193 397 193.35 397.7 192.39 398.4 192.43 399.1 192.75 399.8 193.47 400.5 194.07 401.2 193.86 401.9 193.9 402.6 192.64 403.3 192.14 403.5 192.9" stroke="#1a1a1a" stroke-width="0.7" fill="none" stroke-linejoin="round"/>
<path d="M383.1 194.7 384.3 193.5 385.3 195.3 386.1 204.78 386.8 208.75 387.7 203.72 389 195.8 390.2 192.5 391.2 193.6 392.1 194 392.8 194.15" stroke="#333" stroke-width="0.35" fill="none" stroke-linejoin="round" stroke-opacity="0.6"/>
<path d="M413 200 414.5 200.4 416 199.8 417.5 200.2 419 199.7 420.5 199.9 422 199.5 423.5 199.3 424.8 199 426.1 198.7M435.1 198 435.8 198.47 436.5 198.61 437.2 197.88 437.9 197.23 438.6 197.91 439.3 197.58 440 196.93 440.7 197.83 441.4 198.05 442.1 197.73 442.8 198.24 443.5 198.58 444.2 197.73 444.9 197.87 445.6 196.64 446.3 196.59 446.5 197.3" stroke="#d43030" stroke-width="0.65" fill="none" stroke-linejoin="round" stroke-opacity="0.85"/>
<path d="M426.1 198.7 427.3 197.18 428.3 199.3 429.1 207.33 429.8 210.68 430.7 206.43 432 199.8 433.2 196.18 434.2 197.6 435.1 198 435.8 198.47" stroke="#d43030" stroke-width="0.6" fill="none" stroke-linejoin="round" stroke-opacity="0.45"/>
<path d="M413 200 414.5 200.4 416 199.8 417.5 200.2 419 199.7 420.5 199.9 422 199.5 423.5 199.3 424.8 199 426.1 198.7M435.1 198 435.8 197.96 436.5 197.71 437.2 198.42 437.9 198.07 438.6 197.71 439.3 197.47 440 196.82 440.7 197.37 441.4 196.73 442.1 196.43 442.8 196.73 443.5 196.93 444.2 196.78 444.9 197.86 445.6 197.34 446.3 197.44 446.5 196.6" stroke="#28289a" stroke-width="0.7" fill="none" stroke-linejoin="round" stroke-opacity="0.85"/>
<path d="M426.1 198.7 427.3 197.74 428.3 199.3 429.1 206.8 429.8 209.93 430.7 205.97 432 199.8 433.2 196.74 434.2 197.6 435.1 198 435.8 197.96" stroke="#2a2a96" stroke-width="0.7" fill="none" stroke-linejoin="round" stroke-opacity="0.9"/>
<path d="M413 200 414.5 200.4 416 199.8 417.5 200.2 419 199.7 420.5 199.9 422 199.5 423.5 199.3 424.8 199 426.1 198.7" stroke="#1a1a1a" stroke-width="0.8" fill="none" stroke-linejoin="round"/>
<path d="M435.1 198 435.8 198.37 436.5 198.01 437.2 198.17 437.9 198.67 438.6 197.83 439.3 197.76 440 196.73 440.7 196.47 441.4 196.74 442.1 196.77 442.8 198.01 443.5 197.43 444.2 197.8 444.9 197.07 445.6 197.21 446.3 196.59 446.5 196.9" stroke="#1a1a1a" stroke-width="0.7" fill="none" stroke-linejoin="round"/>
<path d="M426.1 198.7 427.3 197.5 428.3 199.3 429.1 207.03 429.8 210.25 430.7 206.16 432 199.8 433.2 196.5 434.2 197.6 435.1 198 435.8 198.37" stroke="#333" stroke-width="0.35" fill="none" stroke-linejoin="round" stroke-opacity="0.6"/>
<path d="M457 209 458.5 209.4 460 208.8 461.5 209.2 463 208.7 464.5 208.9 466 208.5 467.5 208.3 468.8 208 470.1 207.7M479.1 207 479.8 207.94 480.5 207.02 481.2 207.11 481.9 207.18 482.6 206.75 483.3 205.75 484 205.97 484.7 206.62 485.4 206.53 486.1 207.52 486.8 206.76 487.5 207.57 488.2 206.75 488.9 206.01 489.6 205.89 490.3 205.28 490.5 206.3" stroke="#d43030" stroke-width="0.65" fill="none" stroke-linejoin="round" stroke-opacity="0.85"/>
<path d="M470.1 207.7 471.3 206.18 472.3 208.3 473.1 214.51 473.8 217.08 474.7 213.82 476 208.8 477.2 205.18 478.2 206.6 479.1 207 479.8 207.94" stroke="#d43030" stroke-width="0.6" fill="none" stroke-linejoin="round" stroke-opacity="0.45"/>
<path d="M457 209 458.5 209.4 460 208.8 461.5 209.2 463 208.7 464.5 208.9 466 208.5 467.5 208.3 468.8 208 470.1 207.7M479.1 207 479.8 206.52 480.5 206.4 481.2 206.71 481.9 207.64 482.6 206.93 483.3 206.45 484 205.93 484.7 205.63 485.4 205.32 486.1 205.05 486.8 205.99 487.5 205.88 488.2 205.9 488.9 206.64 489.6 205.75 490.3 205.61 490.5 205.6" stroke="#28289a" stroke-width="0.7" fill="none" stroke-linejoin="round" stroke-opacity="0.85"/>
<path d="M470.1 207.7 471.3 206.74 472.3 208.3 473.1 214.1 473.8 216.5 474.7 213.46 476 208.8 477.2 205.74 478.2 206.6 479.1 207 479.8 206.52" stroke="#2a2a96" stroke-width="0.7" fill="none" stroke-linejoin="round" stroke-opacity="0.9"/>
<path d="M457 209 458.5 209.4 460 208.8 461.5 209.2 463 208.7 464.5 208.9 466 208.5 467.5 208.3 468.8 208 470.1 207.7" stroke="#1a1a1a" stroke-width="0.8" fill="none" stroke-linejoin="round"/>
<path d="M479.1 207 479.8 207.36 480.5 207.06 481.2 207.88 481.9 207.32 482.6 206.69 483.3 206.11 484 206.17 484.7 205.51 485.4 206.35 486.1 205.69 486.8 206.46 487.5 206.73 488.2 206.45 488.9 206.86 489.6 206.03 490.3 205.91 490.5 205.9" stroke="#1a1a1a" stroke-width="0.7" fill="none" stroke-linejoin="round"/>
<path d="M470.1 207.7 471.3 206.5 472.3 208.3 473.1 214.28 473.8 216.75 474.7 213.62 476 208.8 477.2 205.5 478.2 206.6 479.1 207 479.8 207.36" stroke="#333" stroke-width="0.35" fill="none" stroke-linejoin="round" stroke-opacity="0.6"/>
<path d="M499 223 500.5 223.4 502 222.8 503.5 223.2 505 222.7 506.5 222.9 508 222.5 509.5 222.3 510.8 222 512.1 221.7M521.1 221.5 521.8 221.66 522.5 222.36 523.2 221.62 523.9 221.43 524.6 221.72 525.3 221.39 526 221.58 526.7 221.83 527.4 221.34 528.1 221.88 528.8 221.79 529.5 222.56 530.2 222.31 530.9 221.6 531.6 221.36 532.3 221.5 532.5 221.9" stroke="#d43030" stroke-width="0.65" fill="none" stroke-linejoin="round" stroke-opacity="0.85"/>
<path d="M512.1 221.7 513.3 220.68 514.3 222.3 515.1 227.96 515.8 230.3 516.7 227.34 518 222.8 519.2 219.68 520.2 221.1 521.1 221.5 521.8 221.66" stroke="#d43030" stroke-width="0.6" fill="none" stroke-linejoin="round" stroke-opacity="0.45"/>
<path d="M499 223 500.5 223.4 502 222.8 503.5 223.2 505 222.7 506.5 222.9 508 222.5 509.5 222.3 510.8 222 512.1 221.7M521.1 221.5 521.8 221.29 522.5 221.33 523.2 221.74 523.9 221.52 524.6 221.55 525.3 222.08 526 221.06 526.7 221.12 527.4 220.27 528.1 220.86 528.8 220.87 529.5 221.38 530.2 221.45 530.9 221.32 531.6 221.53 532.3 221.14 532.5 221.2" stroke="#28289a" stroke-width="0.7" fill="none" stroke-linejoin="round" stroke-opacity="0.85"/>
<path d="M512.1 221.7 513.3 221.24 514.3 222.3 515.1 227.59 515.8 229.78 516.7 227.01 518 222.8 519.2 220.24 520.2 221.1 521.1 221.5 521.8 221.29" stroke="#2a2a96" stroke-width="0.7" fill="none" stroke-linejoin="round" stroke-opacity="0.9"/>
<path d="M499 223 500.5 223.4 502 222.8 503.5 223.2 505 222.7 506.5 222.9 508 222.5 509.5 222.3 510.8 222 512.1 221.7" stroke="#1a1a1a" stroke-width="0.8" fill="none" stroke-linejoin="round"/>
<path d="M521.1 221.5 521.8 221.92 522.5 221.68 523.2 222.52 523.9 221.81 524.6 221.84 525.3 220.93 526 220.55 526.7 221.4 527.4 221.3 528.1 221.57 528.8 221.14 529.5 221.44 530.2 221.69 530.9 221.62 531.6 221.44 532.3 221.16 532.5 221.5" stroke="#1a1a1a" stroke-width="0.7" fill="none" stroke-linejoin="round"/>
<path d="M512.1 221.7 513.3 221 514.3 222.3 515.1 227.75 515.8 230 516.7 227.15 518 222.8 519.2 220 520.2 221.1 521.1 221.5 521.8 221.92" stroke="#333" stroke-width="0.35" fill="none" stroke-linejoin="round" stroke-opacity="0.6"/>
<path d="M193 256 194.5 256.4 196 255.8 197.5 256.2 199 255.7 200.5 255.9 202 255.5 203.5 255.3 204.8 255 206.1 254.7 207.3 253.9 208.5 255.7 209.9 260.7 211.1 258 212.3 256.1 213.7 255.1 215.1 255.2 215.8 256.1 216.5 255.66 217.2 254.63 217.9 254.4 218.6 253.78 219.3 254.3 220 253.53 220.7 254.51 221.4 254.56 222.1 254 222.8 254.8 223.5 254.29 224.2 254.36 224.9 253.98 225.6 252.88 226.3 252.35 226.5 253.4" stroke="#d43030" stroke-width="0.65" fill="none" stroke-linejoin="round" stroke-opacity="0.85"/>
<path d="M193 256 194.5 256.4 196 255.8 197.5 256.2 199 255.7 200.5 255.9 202 255.5 203.5 255.3 204.8 255 206.1 254.7 207.3 253.9 208.5 255.7 209.9 260.35 211.1 258 212.3 256.1 213.7 255.1 215.1 255.2 215.8 254.22 216.5 254.76 217.2 255.33 217.9 254.79 218.6 255.37 219.3 254.63 220 254.29 220.7 253.25 221.4 253.15 222.1 253.35 222.8 253.06 223.5 252.86 224.2 254.04 224.9 253.98 225.6 253.17 226.3 252.46 226.5 252.7" stroke="#28289a" stroke-width="0.7" fill="none" stroke-linejoin="round" stroke-opacity="0.85"/>
<path d="M193 256 194.5 256.4 196 255.8 197.5 256.2 199 255.7 200.5 255.9 202 255.5 203.5 255.3 204.8 255 206.1 254.7 207.3 253.9 208.5 255.7 209.9 260.5 211.1 258 212.3 256.1 213.7 255.1 215.1 255.2 215.8 255.78 216.5 255.32 217.2 255.91 217.9 255.38 218.6 255 219.3 254.6 220 253.92 220.7 253.46 221.4 252.96 222.1 253.9 222.8 253.82 223.5 254.08 224.2 254.56 224.9 253.34 225.6 253.67 226.3 252.3 226.5 253" stroke="#1a1a1a" stroke-width="0.75" fill="none" stroke-linejoin="round"/>
<path d="M224 241 225.5 241.4 227 240.8 228.5 241.2 230 240.7 231.5 240.9 233 240.5 234.5 240.3 235.8 240 237.1 239.7M246.1 239.3 246.8 239.42 247.5 239.25 248.2 239.18 248.9 238.59 249.6 238.69 250.3 237.65 251 237.48 251.7 238.28 252.4 237.6 253.1 238.3 253.8 238.07 254.5 238.46 255.2 237.74 255.9 237.48 256.6 236.29 257.3 236.55 257.5 236.9" stroke="#d43030" stroke-width="0.65" fill="none" stroke-linejoin="round" stroke-opacity="0.85"/>
<path d="M237.1 239.7 238.3 238.18 239.3 240.3 240.1 247.23 240.8 250.12 241.7 246.46 243 240.8 244.2 239.18 245.2 238.9 246.1 239.3 246.8 239.42" stroke="#d43030" stroke-width="0.6" fill="none" stroke-linejoin="round" stroke-opacity="0.45"/>
<path d="M224 241 225.5 241.4 227 240.8 228.5 241.2 230 240.7 231.5 240.9 233 240.5 234.5 240.3 235.8 240 237.1 239.7M246.1 239.3 246.8 239.08 247.5 239.38 248.2 238.87 248.9 239.19 249.6 239.45 250.3 238.59 251 237.92 251.7 237.05 252.4 236.46 253.1 236.69 253.8 236.83 254.5 236.76 255.2 237.03 255.9 236.79 256.6 237.22 257.3 236.72 257.5 236.2" stroke="#28289a" stroke-width="0.7" fill="none" stroke-linejoin="round" stroke-opacity="0.85"/>
<path d="M237.1 239.7 238.3 238.74 239.3 240.3 240.1 246.78 240.8 249.47 241.7 246.06 243 240.8 244.2 239.74 245.2 238.9 246.1 239.3 246.8 239.08" stroke="#2a2a96" stroke-width="0.7" fill="none" stroke-linejoin="round" stroke-opacity="0.9"/>
<path d="M224 241 225.5 241.4 227 240.8 228.5 241.2 230 240.7 231.5 240.9 233 240.5 234.5 240.3 235.8 240 237.1 239.7" stroke="#1a1a1a" stroke-width="0.8" fill="none" stroke-linejoin="round"/>
<path d="M246.1 239.3 246.8 239.43 247.5 239.39 248.2 239.7 248.9 239.5 249.6 238.17 250.3 237.83 251 237.44 251.7 236.97 252.4 236.74 253.1 237.13 253.8 237.23 254.5 237.97 255.2 237.6 255.9 236.91 256.6 236.69 257.3 236.32 257.5 236.5" stroke="#1a1a1a" stroke-width="0.7" fill="none" stroke-linejoin="round"/>
<path d="M237.1 239.7 238.3 238.5 239.3 240.3 240.1 246.97 240.8 249.75 241.7 246.24 243 240.8 244.2 239.5 245.2 238.9 246.1 239.3 246.8 239.43" stroke="#333" stroke-width="0.35" fill="none" stroke-linejoin="round" stroke-opacity="0.6"/>
<path d="M257 232 258.5 232.4 260 231.8 261.5 232.2 263 231.7 264.5 231.9 266 231.5 267.5 231.3 268.8 231 270.1 230.7M279.1 230.3 279.8 231.24 280.5 230.73 281.2 230.32 281.9 230.18 282.6 229.35 283.3 228.53 284 228.41 284.7 228.38 285.4 228.47 286.1 229.56 286.8 229.67 287.5 228.84 288.2 228.31 288.9 228.34 289.6 228.1 290.3 227.87 290.5 227.9" stroke="#d43030" stroke-width="0.65" fill="none" stroke-linejoin="round" stroke-opacity="0.85"/>
<path d="M270.1 230.7 271.3 229.18 272.3 231.3 273.1 237.87 273.8 240.6 274.7 237.14 276 231.8 277.2 230.18 278.2 229.9 279.1 230.3 279.8 231.24" stroke="#d43030" stroke-width="0.6" fill="none" stroke-linejoin="round" stroke-opacity="0.45"/>
<path d="M257 232 258.5 232.4 260 231.8 261.5 232.2 263 231.7 264.5 231.9 266 231.5 267.5 231.3 268.8 231 270.1 230.7M279.1 230.3 279.8 229.67 280.5 229.61 281.2 229.64 281.9 229.54 282.6 230.47 283.3 229.73 284 228.37 284.7 228.61 285.4 228.57 286.1 227.94 286.8 227.47 287.5 228.1 288.2 228.18 288.9 227.86 289.6 228.03 290.3 226.93 290.5 227.2" stroke="#28289a" stroke-width="0.7" fill="none" stroke-linejoin="round" stroke-opacity="0.85"/>
<path d="M270.1 230.7 271.3 229.74 272.3 231.3 273.1 237.44 273.8 239.99 274.7 236.76 276 231.8 277.2 230.74 278.2 229.9 279.1 230.3 279.8 229.67" stroke="#2a2a96" stroke-width="0.7" fill="none" stroke-linejoin="round" stroke-opacity="0.9"/>
<path d="M257 232 258.5 232.4 260 231.8 261.5 232.2 263 231.7 264.5 231.9 266 231.5 267.5 231.3 268.8 231 270.1 230.7" stroke="#1a1a1a" stroke-width="0.8" fill="none" stroke-linejoin="round"/>
<path d="M279.1 230.3 279.8 229.91 280.5 230.78 281.2 230.78 281.9 230.39 282.6 229.42 283.3 228.71 284 229 284.7 228.11 285.4 228.11 286.1 228.46 286.8 228.44 287.5 229.12 288.2 228.35 288.9 227.82 289.6 227.98 290.3 227.51 290.5 227.5" stroke="#1a1a1a" stroke-width="0.7" fill="none" stroke-linejoin="round"/>
<path d="M270.1 230.7 271.3 229.5 272.3 231.3 273.1 237.62 273.8 240.25 274.7 236.93 276 231.8 277.2 230.5 278.2 229.9 279.1 230.3 279.8 229.91" stroke="#333" stroke-width="0.35" fill="none" stroke-linejoin="round" stroke-opacity="0.6"/>
<path d="M293 226 294.5 226.4 296 225.8 297.5 226.2 299 225.7 300.5 225.9 302 225.5 303.5 225.3 304.8 225 306.1 224.7M315.1 224.3 315.8 224.57 316.5 224 317.2 224.16 317.9 222.69 318.6 223.12 319.3 222.7 320 222.42 320.7 221.99 321.4 221.94 322.1 222.5 322.8 222.27 323.5 221.88 324.2 221.29 324.9 220.81 325.6 220.5 326.3 220.27 326.5 220.4" stroke="#d43030" stroke-width="0.65" fill="none" stroke-linejoin="round" stroke-opacity="0.85"/>
<path d="M306.1 224.7 307.3 223.18 308.3 225.3 309.1 233.33 309.8 236.68 310.7 232.43 312 225.8 313.2 224.18 314.2 223.9 315.1 224.3 315.8 224.57" stroke="#d43030" stroke-width="0.6" fill="none" stroke-linejoin="round" stroke-opacity="0.45"/>
<path d="M293 226 294.5 226.4 296 225.8 297.5 226.2 299 225.7 300.5 225.9 302 225.5 303.5 225.3 304.8 225 306.1 224.7M315.1 224.3 315.8 224.13 316.5 224.07 317.2 224.36 317.9 224.3 318.6 223.42 319.3 222.88 320 221.81 320.7 221.37 321.4 221.26 322.1 220.44 322.8 221.15 323.5 220.61 324.2 220.99 324.9 221.5 325.6 220.1 326.3 219.49 326.5 219.7" stroke="#28289a" stroke-width="0.7" fill="none" stroke-linejoin="round" stroke-opacity="0.85"/>
<path d="M306.1 224.7 307.3 223.74 308.3 225.3 309.1 232.8 309.8 235.93 310.7 231.97 312 225.8 313.2 224.74 314.2 223.9 315.1 224.3 315.8 224.13" stroke="#2a2a96" stroke-width="0.7" fill="none" stroke-linejoin="round" stroke-opacity="0.9"/>
<path d="M293 226 294.5 226.4 296 225.8 297.5 226.2 299 225.7 300.5 225.9 302 225.5 303.5 225.3 304.8 225 306.1 224.7" stroke="#1a1a1a" stroke-width="0.8" fill="none" stroke-linejoin="round"/>
<path d="M315.1 224.3 315.8 224.7 316.5 223.85 317.2 223.86 317.9 223.66 318.6 223.24 319.3 222.35 320 221.6 320.7 221.09 321.4 221.23 322.1 221.43 322.8 222.15 323.5 222.11 324.2 221.91 324.9 221.65 325.6 221.07 326.3 220.03 326.5 220" stroke="#1a1a1a" stroke-width="0.7" fill="none" stroke-linejoin="round"/>
<path d="M306.1 224.7 307.3 223.5 308.3 225.3 309.1 233.03 309.8 236.25 310.7 232.16 312 225.8 313.2 224.5 314.2 223.9 315.1 224.3 315.8 224.7" stroke="#333" stroke-width="0.35" fill="none" stroke-linejoin="round" stroke-opacity="0.6"/>
<path d="M327 225 328.5 225.4 330 224.8 331.5 225.2 333 224.7 334.5 224.9 336 224.5 337.5 224.3 338.8 224 340.1 223.7M349.1 223.3 349.8 223.24 350.5 223.75 351.2 223.01 351.9 222.75 352.6 222.07 353.3 221.87 354 221.8 354.7 221.69 355.4 221.57 356.1 221.84 356.8 222.73 357.5 222.14 358.2 221.22 358.9 221.61 359.6 220.39 360.3 219.87 360.5 220.9" stroke="#d43030" stroke-width="0.65" fill="none" stroke-linejoin="round" stroke-opacity="0.85"/>
<path d="M340.1 223.7 341.3 222.18 342.3 224.3 343.1 231.23 343.8 234.12 344.7 230.46 346 224.8 347.2 223.18 348.2 222.9 349.1 223.3 349.8 223.24" stroke="#d43030" stroke-width="0.6" fill="none" stroke-linejoin="round" stroke-opacity="0.45"/>
<path d="M327 225 328.5 225.4 330 224.8 331.5 225.2 333 224.7 334.5 224.9 336 224.5 337.5 224.3 338.8 224 340.1 223.7M349.1 223.3 349.8 223.21 350.5 222.48 351.2 223.36 351.9 223.26 352.6 222.64 353.3 222.51 354 222.41 354.7 221.33 355.4 221.17 356.1 220.62 356.8 220.75 357.5 221.58 358.2 220.69 358.9 220.86 359.6 221.19 360.3 220.45 360.5 220.2" stroke="#28289a" stroke-width="0.7" fill="none" stroke-linejoin="round" stroke-opacity="0.85"/>
<path d="M340.1 223.7 341.3 222.74 342.3 224.3 343.1 230.78 343.8 233.47 344.7 230.06 346 224.8 347.2 223.74 348.2 222.9 349.1 223.3 349.8 223.21" stroke="#2a2a96" stroke-width="0.7" fill="none" stroke-linejoin="round" stroke-opacity="0.9"/>
<path d="M327 225 328.5 225.4 330 224.8 331.5 225.2 333 224.7 334.5 224.9 336 224.5 337.5 224.3 338.8 224 340.1 223.7" stroke="#1a1a1a" stroke-width="0.8" fill="none" stroke-linejoin="round"/>
<path d="M349.1 223.3 349.8 223.34 350.5 223.14 351.2 223.37 351.9 223.16 352.6 222.3 353.3 222.17 354 221.15 354.7 221.34 355.4 221.37 356.1 220.89 356.8 221.49 357.5 221.21 358.2 221.59 358.9 221.81 359.6 220.96 360.3 220.61 360.5 220.5" stroke="#1a1a1a" stroke-width="0.7" fill="none" stroke-linejoin="round"/>
<path d="M340.1 223.7 341.3 222.5 342.3 224.3 343.1 230.97 343.8 233.75 344.7 230.24 346 224.8 347.2 223.5 348.2 222.9 349.1 223.3 349.8 223.34" stroke="#333" stroke-width="0.35" fill="none" stroke-linejoin="round" stroke-opacity="0.6"/>
<path d="M363 225 364.5 225.4 366 224.8 367.5 225.2 369 224.7 370.5 224.9 372 224.5 373.5 224.3 374.8 224 376.1 223.7M385.1 223.3 385.8 223.16 386.5 223.67 387.2 222.82 387.9 222.42 388.6 222.42 389.3 221.74 390 222.18 390.7 221.96 391.4 222.48 392.1 222.3 392.8 222.77 393.5 222.52 394.2 221.28 394.9 221.47 395.6 220.5 396.3 220.67 396.5 220.9" stroke="#d43030" stroke-width="0.65" fill="none" stroke-linejoin="round" stroke-opacity="0.85"/>
<path d="M376.1 223.7 377.3 222.18 378.3 224.3 379.1 232.33 379.8 235.68 380.7 231.43 382 224.8 383.2 223.18 384.2 222.9 385.1 223.3 385.8 223.16" stroke="#d43030" stroke-width="0.6" fill="none" stroke-linejoin="round" stroke-opacity="0.45"/>
<path d="M363 225 364.5 225.4 366 224.8 367.5 225.2 369 224.7 370.5 224.9 372 224.5 373.5 224.3 374.8 224 376.1 223.7M385.1 223.3 385.8 223.14 386.5 222.55 387.2 223.74 387.9 223.4 388.6 222.4 389.3 222.82 390 221.74 390.7 220.96 391.4 221.55 392.1 220.94 392.8 221.27 393.5 220.68 394.2 221.59 394.9 220.7 395.6 220.66 396.3 220.36 396.5 220.2" stroke="#28289a" stroke-width="0.7" fill="none" stroke-linejoin="round" stroke-opacity="0.85"/>
<path d="M376.1 223.7 377.3 222.74 378.3 224.3 379.1 231.8 379.8 234.93 380.7 230.97 382 224.8 383.2 223.74 384.2 222.9 385.1 223.3 385.8 223.14" stroke="#2a2a96" stroke-width="0.7" fill="none" stroke-linejoin="round" stroke-opacity="0.9"/>
<path d="M363 225 364.5 225.4 366 224.8 367.5 225.2 369 224.7 370.5 224.9 372 224.5 373.5 224.3 374.8 224 376.1 223.7" stroke="#1a1a1a" stroke-width="0.8" fill="none" stroke-linejoin="round"/>
<path d="M385.1 223.3 385.8 223.52 386.5 223.83 387.2 222.93 387.9 222.95 388.6 222.91 389.3 222.62 390 221.88 390.7 220.78 391.4 221.39 392.1 220.92 392.8 221.66 393.5 222.09 394.2 221.2 394.9 221.88 395.6 221.11 396.3 220.06 396.5 220.5" stroke="#1a1a1a" stroke-width="0.7" fill="none" stroke-linejoin="round"/>
<path d="M376.1 223.7 377.3 222.5 378.3 224.3 379.1 232.03 379.8 235.25 380.7 231.16 382 224.8 383.2 223.5 384.2 222.9 385.1 223.3 385.8 223.52" stroke="#333" stroke-width="0.35" fill="none" stroke-linejoin="round" stroke-opacity="0.6"/>
<path d="M398 230 399.5 230.4 401 229.8 402.5 230.2 404 229.7 405.5 229.9 407 229.5 408.5 229.3 409.8 229 411.1 228.7M420.1 228.3 420.8 228.96 421.5 228.93 422.2 228.7 422.9 227.07 423.6 226.98 424.3 226.41 425 226.72 425.7 227.27 426.4 227.39 427.1 226.67 427.8 226.88 428.5 227.46 429.2 226.9 429.9 226.04 430.6 225.66 431.3 224.94 431.5 225.9" stroke="#d43030" stroke-width="0.65" fill="none" stroke-linejoin="round" stroke-opacity="0.85"/>
<path d="M411.1 228.7 412.3 227.18 413.3 229.3 414.1 234.6 414.8 236.78 415.7 234.01 417 229.8 418.2 228.18 419.2 227.9 420.1 228.3 420.8 228.96" stroke="#d43030" stroke-width="0.6" fill="none" stroke-linejoin="round" stroke-opacity="0.45"/>
<path d="M398 230 399.5 230.4 401 229.8 402.5 230.2 404 229.7 405.5 229.9 407 229.5 408.5 229.3 409.8 229 411.1 228.7M420.1 228.3 420.8 227.47 421.5 227.95 422.2 228.56 422.9 228.23 423.6 227.42 424.3 226.85 425 226.4 425.7 226.71 426.4 225.62 427.1 225.93 427.8 225.69 428.5 226.34 429.2 226.11 429.9 225.8 430.6 226.42 431.3 225.56 431.5 225.2" stroke="#28289a" stroke-width="0.7" fill="none" stroke-linejoin="round" stroke-opacity="0.85"/>
<path d="M411.1 228.7 412.3 227.74 413.3 229.3 414.1 234.25 414.8 236.29 415.7 233.71 417 229.8 418.2 228.74 419.2 227.9 420.1 228.3 420.8 227.47" stroke="#2a2a96" stroke-width="0.7" fill="none" stroke-linejoin="round" stroke-opacity="0.9"/>
<path d="M398 230 399.5 230.4 401 229.8 402.5 230.2 404 229.7 405.5 229.9 407 229.5 408.5 229.3 409.8 229 411.1 228.7" stroke="#1a1a1a" stroke-width="0.8" fill="none" stroke-linejoin="round"/>
<path d="M420.1 228.3 420.8 228.72 421.5 228.31 422.2 228.83 422.9 228.23 423.6 227.12 424.3 226.88 425 226.27 425.7 226.8 426.4 226.38 427.1 225.85 427.8 226.2 428.5 226.56 429.2 226.63 429.9 226.47 430.6 225.76 431.3 225.18 431.5 225.5" stroke="#1a1a1a" stroke-width="0.7" fill="none" stroke-linejoin="round"/>
<path d="M411.1 228.7 412.3 227.5 413.3 229.3 414.1 234.4 414.8 236.5 415.7 233.84 417 229.8 418.2 228.5 419.2 227.9 420.1 228.3 420.8 228.72" stroke="#333" stroke-width="0.35" fill="none" stroke-linejoin="round" stroke-opacity="0.6"/>
<path d="M430 241 431.5 241.4 433 240.8 434.5 241.2 436 240.7 437.5 240.9 439 240.5 440.5 240.3 441.8 240 443.1 239.7M452.1 239.3 452.8 240.33 453.5 239 454.2 239.24 454.9 238.98 455.6 238.61 456.3 238.16 457 237.88 457.7 237.98 458.4 237.87 459.1 237.96 459.8 238.62 460.5 238.53 461.2 238.21 461.9 237.39 462.6 236.45 463.3 236.67 463.5 236.9" stroke="#d43030" stroke-width="0.65" fill="none" stroke-linejoin="round" stroke-opacity="0.85"/>
<path d="M443.1 239.7 444.3 238.18 445.3 240.3 446.1 245.05 446.8 247 447.7 244.53 449 240.8 450.2 239.18 451.2 238.9 452.1 239.3 452.8 240.33" stroke="#d43030" stroke-width="0.6" fill="none" stroke-linejoin="round" stroke-opacity="0.45"/>
<path d="M430 241 431.5 241.4 433 240.8 434.5 241.2 436 240.7 437.5 240.9 439 240.5 440.5 240.3 441.8 240 443.1 239.7M452.1 239.3 452.8 238.24 453.5 239.11 454.2 238.95 454.9 238.56 455.6 238.83 456.3 239.01 457 237.33 457.7 236.93 458.4 237.2 459.1 236.59 459.8 236.67 460.5 237.12 461.2 236.97 461.9 237.31 462.6 237.01 463.3 237.06 463.5 236.2" stroke="#28289a" stroke-width="0.7" fill="none" stroke-linejoin="round" stroke-opacity="0.85"/>
<path d="M443.1 239.7 444.3 238.74 445.3 240.3 446.1 244.74 446.8 246.56 447.7 244.26 449 240.8 450.2 239.74 451.2 238.9 452.1 239.3 452.8 238.24" stroke="#2a2a96" stroke-width="0.7" fill="none" stroke-linejoin="round" stroke-opacity="0.9"/>
<path d="M430 241 431.5 241.4 433 240.8 434.5 241.2 436 240.7 437.5 240.9 439 240.5 440.5 240.3 441.8 240 443.1 239.7" stroke="#1a1a1a" stroke-width="0.8" fill="none" stroke-linejoin="round"/>
<path d="M452.1 239.3 452.8 239.59 453.5 239.45 454.2 239.55 454.9 238.92 455.6 238.69 456.3 237.97 457 237.08 457.7 237.13 458.4 237.06 459.1 237.98 459.8 237.58 460.5 237.57 461.2 237.36 461.9 237.06 462.6 236.72 463.3 235.92 463.5 236.5" stroke="#1a1a1a" stroke-width="0.7" fill="none" stroke-linejoin="round"/>
<path d="M443.1 239.7 444.3 238.5 445.3 240.3 446.1 244.88 446.8 246.75 447.7 244.38 449 240.8 450.2 239.5 451.2 238.9 452.1 239.3 452.8 239.59" stroke="#333" stroke-width="0.35" fill="none" stroke-linejoin="round" stroke-opacity="0.6"/>
<path d="M460 256 461.5 256.4 463 255.8 464.5 256.2 466 255.7 467.5 255.9 469 255.5 470.5 255.3 471.8 255 473.1 254.7 474.3 255.2 475.5 256 477 256.9 478.5 256.4 480 257.1 481.3 256.5 482.1 256.3 482.8 256.26 483.5 256.23 484.2 256.35 484.9 256.36 485.6 255.15 486.3 255.34 487 254.85 487.7 255.51 488.4 254.79 489.1 255.52 489.8 256.08 490.5 255.18 491.2 254.79 491.9 254.03 492.6 253.74 493.3 253.57 493.5 254.4" stroke="#d43030" stroke-width="0.65" fill="none" stroke-linejoin="round" stroke-opacity="0.85"/>
<path d="M460 256 461.5 256.4 463 255.8 464.5 256.2 466 255.7 467.5 255.9 469 255.5 470.5 255.3 471.8 255 473.1 254.7 474.3 255.2 475.5 256 477 256.9 478.5 256.4 480 257.1 481.3 256.5 482.1 256.3 482.8 255.27 483.5 256.52 484.2 256.19 484.9 256.19 485.6 256.12 486.3 255.38 487 254.69 487.7 254.08 488.4 254.03 489.1 253.94 489.8 254.55 490.5 254.55 491.2 255.18 491.9 254.47 492.6 254.94 493.3 254.11 493.5 253.7" stroke="#28289a" stroke-width="0.7" fill="none" stroke-linejoin="round" stroke-opacity="0.85"/>
<path d="M460 256 461.5 256.4 463 255.8 464.5 256.2 466 255.7 467.5 255.9 469 255.5 470.5 255.3 471.8 255 473.1 254.7 474.3 255.2 475.5 256 477 256.9 478.5 256.4 480 257.1 481.3 256.5 482.1 256.3 482.8 256.58 483.5 256.16 484.2 256.36 484.9 255.86 485.6 255.9 486.3 255.71 487 255 487.7 254.21 488.4 254.83 489.1 255.26 489.8 255.06 490.5 254.59 491.2 255.44 491.9 255.25 492.6 254.17 493.3 253.41 493.5 254" stroke="#1a1a1a" stroke-width="0.75" fill="none" stroke-linejoin="round"/>
<path d="M163 278 164.5 278.4 166 277.8 167.5 278.2 169 277.7 170.5 277.9 172 277.5 173.5 277.3 174.8 277 176.1 276.7 177.3 277.2 178.5 278 180 278.9 181.5 278.4 183 279.1 184.3 278.5 185.1 278.3 185.8 278.57 186.5 278.61 187.2 278.37 187.9 277.49 188.6 277.28 189.3 276.43 190 277.44 190.7 277.14 191.4 277.9 192.1 277 192.8 277.74 193.5 277.72 194.2 276.88 194.9 276.11 195.6 275.73 196.3 275.42 196.5 276.4" stroke="#d43030" stroke-width="0.65" fill="none" stroke-linejoin="round" stroke-opacity="0.85"/>
<path d="M163 278 164.5 278.4 166 277.8 167.5 278.2 169 277.7 170.5 277.9 172 277.5 173.5 277.3 174.8 277 176.1 276.7 177.3 277.2 178.5 278 180 278.9 181.5 278.4 183 279.1 184.3 278.5 185.1 278.3 185.8 277.49 186.5 278.12 187.2 278.7 187.9 278.42 188.6 278.54 189.3 277.27 190 276.88 190.7 276.89 191.4 276.45 192.1 276.06 192.8 276.49 193.5 276.29 194.2 276.12 194.9 276.56 195.6 275.89 196.3 276.16 196.5 275.7" stroke="#28289a" stroke-width="0.7" fill="none" stroke-linejoin="round" stroke-opacity="0.85"/>
<path d="M163 278 164.5 278.4 166 277.8 167.5 278.2 169 277.7 170.5 277.9 172 277.5 173.5 277.3 174.8 277 176.1 276.7 177.3 277.2 178.5 278 180 278.9 181.5 278.4 183 279.1 184.3 278.5 185.1 278.3 185.8 278.66 186.5 278.01 187.2 278.85 187.9 278.13 188.6 277.83 189.3 277.37 190 276.89 190.7 276.76 191.4 276.67 192.1 276.5 192.8 277.22 193.5 276.8 194.2 277.32 194.9 277.12 195.6 276.69 196.3 275.62 196.5 276" stroke="#1a1a1a" stroke-width="0.75" fill="none" stroke-linejoin="round"/>
<path d="M489 278 490.5 278.4 492 277.8 493.5 278.2 495 277.7 496.5 277.9 498 277.5 499.5 277.3 500.8 277 502.1 276.7 503.3 277.3 504.3 276 505.2 273.76 506.2 276.3 507.1 278.3 508.5 277.8 509.8 278.5 511.1 278.3 511.8 278.23 512.5 278.24 513.2 277.82 513.9 277.9 514.6 277.54 515.3 276.82 516 277.68 516.7 277.15 517.4 277.17 518.1 277.45 518.8 278.23 519.5 278.32 520.2 277.08 520.9 276.47 521.6 276.94 522.3 276.03 522.5 276.9" stroke="#d43030" stroke-width="0.65" fill="none" stroke-linejoin="round" stroke-opacity="0.85"/>
<path d="M489 278 490.5 278.4 492 277.8 493.5 278.2 495 277.7 496.5 277.9 498 277.5 499.5 277.3 500.8 277 502.1 276.7 503.3 277.3 504.3 276 505.2 274.18 506.2 276.3 507.1 278.3 508.5 277.8 509.8 278.5 511.1 278.3 511.8 278.22 512.5 278.71 513.2 278.28 513.9 278.11 514.6 278.22 515.3 278.33 516 276.86 516.7 276.25 517.4 276.52 518.1 276.67 518.8 276.94 519.5 276.69 520.2 277.64 520.9 276.76 521.6 277.2 522.3 276.01 522.5 276.2" stroke="#28289a" stroke-width="0.7" fill="none" stroke-linejoin="round" stroke-opacity="0.85"/>
<path d="M489 278 490.5 278.4 492 277.8 493.5 278.2 495 277.7 496.5 277.9 498 277.5 499.5 277.3 500.8 277 502.1 276.7 503.3 277.3 504.3 276 505.2 274 506.2 276.3 507.1 278.3 508.5 277.8 509.8 278.5 511.1 278.3 511.8 278.95 512.5 278.56 513.2 278.73 513.9 278.16 514.6 278.3 515.3 277.4 516 276.83 516.7 277.3 517.4 276.35 518.1 277.29 518.8 276.75 519.5 277.64 520.2 277.35 520.9 277.67 521.6 276.29 522.3 276.41 522.5 276.5" stroke="#1a1a1a" stroke-width="0.75" fill="none" stroke-linejoin="round"/>
<path d="M236 275 237.5 275.4 239 274.8 240.5 275.2 242 274.7 243.5 274.9 245 274.5 246.5 274.3 247.8 274 249.1 273.7 250.3 274.2 251.5 275 253 275.9 254.5 275.4 256 276.1 257.3 275.5 258.1 275.3 258.8 275.36 259.5 276.05 260.2 275.7 260.9 274.5 261.6 274.62 262.3 274.4 263 273.67 263.7 273.86 264.4 274.29 265.1 275 265.8 274.2 266.5 274.67 267.2 274.2 267.9 273.55 268.6 273.24 269.3 273.3 269.5 273.4" stroke="#d43030" stroke-width="0.65" fill="none" stroke-linejoin="round" stroke-opacity="0.85"/>
<path d="M236 275 237.5 275.4 239 274.8 240.5 275.2 242 274.7 243.5 274.9 245 274.5 246.5 274.3 247.8 274 249.1 273.7 250.3 274.2 251.5 275 253 275.9 254.5 275.4 256 276.1 257.3 275.5 258.1 275.3 258.8 274.76 259.5 275.58 260.2 275.78 260.9 275.41 261.6 274.7 262.3 274.32 263 273.8 263.7 273.52 264.4 272.95 265.1 272.82 265.8 273.59 266.5 273.66 267.2 273.41 267.9 274.25 268.6 273.09 269.3 273.09 269.5 272.7" stroke="#28289a" stroke-width="0.7" fill="none" stroke-linejoin="round" stroke-opacity="0.85"/>
<path d="M236 275 237.5 275.4 239 274.8 240.5 275.2 242 274.7 243.5 274.9 245 274.5 246.5 274.3 247.8 274 249.1 273.7 250.3 274.2 251.5 275 253 275.9 254.5 275.4 256 276.1 257.3 275.5 258.1 275.3 258.8 274.99 259.5 275.96 260.2 275.31 260.9 275.56 261.6 275.22 262.3 273.89 263 274.26 263.7 274.16 264.4 273.3 265.1 273.13 265.8 273.47 266.5 274.66 267.2 273.48 267.9 274.3 268.6 272.94 269.3 273.13 269.5 273" stroke="#1a1a1a" stroke-width="0.75" fill="none" stroke-linejoin="round"/>
<path d="M276 258 277.5 258.4 279 257.8 280.5 258.2 282 257.7 283.5 257.9 285 257.5 286.5 257.3 287.8 257 289.1 256.7M298.1 256.7 298.8 257.06 299.5 256.5 300.2 256.01 300.9 256.67 301.6 255.38 302.3 255.72 303 254.71 303.7 255.25 304.4 255.05 305.1 255.6 305.8 255.35 306.5 255.78 307.2 254.74 307.9 254.94 308.6 254.18 309.3 253.39 309.5 254.4" stroke="#d43030" stroke-width="0.65" fill="none" stroke-linejoin="round" stroke-opacity="0.85"/>
<path d="M289.1 256.7 290.3 255.68 291.3 257.3 292.1 263.62 292.8 266.24 293.7 262.92 295 257.8 296.2 256.58 297.2 256.3 298.1 256.7 298.8 257.06" stroke="#d43030" stroke-width="0.6" fill="none" stroke-linejoin="round" stroke-opacity="0.45"/>
<path d="M276 258 277.5 258.4 279 257.8 280.5 258.2 282 257.7 283.5 257.9 285 257.5 286.5 257.3 287.8 257 289.1 256.7M298.1 256.7 298.8 255.76 299.5 256.03 300.2 256.79 300.9 256.06 301.6 256.12 302.3 256.37 303 255.57 303.7 255.26 304.4 255.02 305.1 253.77 305.8 254.09 306.5 254.94 307.2 254.96 307.9 254.16 308.6 254.47 309.3 253.69 309.5 253.7" stroke="#28289a" stroke-width="0.7" fill="none" stroke-linejoin="round" stroke-opacity="0.85"/>
<path d="M289.1 256.7 290.3 256.24 291.3 257.3 292.1 263.2 292.8 265.65 293.7 262.55 295 257.8 296.2 257.14 297.2 256.3 298.1 256.7 298.8 255.76" stroke="#2a2a96" stroke-width="0.7" fill="none" stroke-linejoin="round" stroke-opacity="0.9"/>
<path d="M276 258 277.5 258.4 279 257.8 280.5 258.2 282 257.7 283.5 257.9 285 257.5 286.5 257.3 287.8 257 289.1 256.7" stroke="#1a1a1a" stroke-width="0.8" fill="none" stroke-linejoin="round"/>
<path d="M298.1 256.7 298.8 256.54 299.5 256.85 300.2 257.31 300.9 256.34 301.6 255.72 302.3 256.08 303 255.51 303.7 255.05 304.4 254.45 305.1 254.47 305.8 254.78 306.5 254.68 307.2 254.6 307.9 254.87 308.6 254.28 309.3 253.92 309.5 254" stroke="#1a1a1a" stroke-width="0.7" fill="none" stroke-linejoin="round"/>
<path d="M289.1 256.7 290.3 256 291.3 257.3 292.1 263.38 292.8 265.9 293.7 262.71 295 257.8 296.2 256.9 297.2 256.3 298.1 256.7 298.8 256.54" stroke="#333" stroke-width="0.35" fill="none" stroke-linejoin="round" stroke-opacity="0.6"/>
<path d="M327 254 328.5 254.4 330 253.8 331.5 254.2 333 253.7 334.5 253.9 336 253.5 337.5 253.3 338.8 253 340.1 252.7M349.1 252.7 349.8 253.04 350.5 252.54 351.2 253.18 351.9 251.49 352.6 251.73 353.3 251.78 354 250.87 354.7 251.4 355.4 251.34 356.1 251.38 356.8 251.37 357.5 251.09 358.2 251.57 358.9 251 359.6 250.67 360.3 249.31 360.5 250.4" stroke="#d43030" stroke-width="0.65" fill="none" stroke-linejoin="round" stroke-opacity="0.85"/>
<path d="M340.1 252.7 341.3 251.68 342.3 253.3 343.1 258.41 343.8 260.52 344.7 257.85 346 253.8 347.2 252.58 348.2 252.3 349.1 252.7 349.8 253.04" stroke="#d43030" stroke-width="0.6" fill="none" stroke-linejoin="round" stroke-opacity="0.45"/>
<path d="M327 254 328.5 254.4 330 253.8 331.5 254.2 333 253.7 334.5 253.9 336 253.5 337.5 253.3 338.8 253 340.1 252.7M349.1 252.7 349.8 252.08 350.5 251.84 351.2 252.8 351.9 252.74 352.6 252.37 353.3 251.92 354 251.54 354.7 251.38 355.4 250.9 356.1 250.59 356.8 250.29 357.5 250.37 358.2 250.64 358.9 251.28 359.6 250.33 360.3 249.88 360.5 249.7" stroke="#28289a" stroke-width="0.7" fill="none" stroke-linejoin="round" stroke-opacity="0.85"/>
<path d="M340.1 252.7 341.3 252.24 342.3 253.3 343.1 258.08 343.8 260.05 344.7 257.56 346 253.8 347.2 253.14 348.2 252.3 349.1 252.7 349.8 252.08" stroke="#2a2a96" stroke-width="0.7" fill="none" stroke-linejoin="round" stroke-opacity="0.9"/>
<path d="M327 254 328.5 254.4 330 253.8 331.5 254.2 333 253.7 334.5 253.9 336 253.5 337.5 253.3 338.8 253 340.1 252.7" stroke="#1a1a1a" stroke-width="0.8" fill="none" stroke-linejoin="round"/>
<path d="M349.1 252.7 349.8 252.95 350.5 252.64 351.2 252.98 351.9 252.58 352.6 251.84 353.3 252.09 354 250.46 354.7 251.07 355.4 251.15 356.1 250.87 356.8 251.18 357.5 251.79 358.2 250.83 358.9 251.02 359.6 250.68 360.3 249.71 360.5 250" stroke="#1a1a1a" stroke-width="0.7" fill="none" stroke-linejoin="round"/>
<path d="M340.1 252.7 341.3 252 342.3 253.3 343.1 258.23 343.8 260.25 344.7 257.69 346 253.8 347.2 252.9 348.2 252.3 349.1 252.7 349.8 252.95" stroke="#333" stroke-width="0.35" fill="none" stroke-linejoin="round" stroke-opacity="0.6"/>
<path d="M377 258 378.5 258.4 380 257.8 381.5 258.2 383 257.7 384.5 257.9 386 257.5 387.5 257.3 388.8 257 390.1 256.7M399.1 256.7 399.8 256.75 400.5 256.42 401.2 256.91 401.9 255.87 402.6 255.32 403.3 254.93 404 255.11 404.7 254.46 405.4 254.54 406.1 255.46 406.8 255.01 407.5 254.98 408.2 254.76 408.9 254.27 409.6 253.7 410.3 252.32 410.5 253.4" stroke="#d43030" stroke-width="0.65" fill="none" stroke-linejoin="round" stroke-opacity="0.85"/>
<path d="M390.1 256.7 391.3 255.68 392.3 257.3 393.1 263.87 393.8 266.6 394.7 263.14 396 257.8 397.2 256.58 398.2 256.3 399.1 256.7 399.8 256.75" stroke="#d43030" stroke-width="0.6" fill="none" stroke-linejoin="round" stroke-opacity="0.45"/>
<path d="M377 258 378.5 258.4 380 257.8 381.5 258.2 383 257.7 384.5 257.9 386 257.5 387.5 257.3 388.8 257 390.1 256.7M399.1 256.7 399.8 256.43 400.5 256.17 401.2 256.42 401.9 256.45 402.6 256.22 403.3 255.28 404 255.04 404.7 254.36 405.4 253.56 406.1 253.85 406.8 253.45 407.5 254.34 408.2 253.91 408.9 254.12 409.6 253.57 410.3 253 410.5 252.7" stroke="#28289a" stroke-width="0.7" fill="none" stroke-linejoin="round" stroke-opacity="0.85"/>
<path d="M390.1 256.7 391.3 256.24 392.3 257.3 393.1 263.44 393.8 265.99 394.7 262.76 396 257.8 397.2 257.14 398.2 256.3 399.1 256.7 399.8 256.43" stroke="#2a2a96" stroke-width="0.7" fill="none" stroke-linejoin="round" stroke-opacity="0.9"/>
<path d="M377 258 378.5 258.4 380 257.8 381.5 258.2 383 257.7 384.5 257.9 386 257.5 387.5 257.3 388.8 257 390.1 256.7" stroke="#1a1a1a" stroke-width="0.8" fill="none" stroke-linejoin="round"/>
<path d="M399.1 256.7 399.8 256.51 400.5 257.13 401.2 257 401.9 255.83 402.6 255.34 403.3 254.85 404 254.15 404.7 254.11 405.4 254.53 406.1 254.27 406.8 254.33 407.5 253.97 408.2 254.22 408.9 254.6 409.6 253.7 410.3 252.81 410.5 253" stroke="#1a1a1a" stroke-width="0.7" fill="none" stroke-linejoin="round"/>
<path d="M390.1 256.7 391.3 256 392.3 257.3 393.1 263.62 393.8 266.25 394.7 262.93 396 257.8 397.2 256.9 398.2 256.3 399.1 256.7 399.8 256.51" stroke="#333" stroke-width="0.35" fill="none" stroke-linejoin="round" stroke-opacity="0.6"/>
<path d="M417 273 418.5 273.4 420 272.8 421.5 273.2 423 272.7 424.5 272.9 426 272.5 427.5 272.3 428.8 272 430.1 271.7 431.3 272.3 432.3 271 433.2 268.76 434.2 271.3 435.1 273.3 436.5 272.8 437.8 273.5 439.1 273.3 439.8 274.06 440.5 273.41 441.2 273.14 441.9 272.59 442.6 272.87 443.3 271.71 444 272.31 444.7 272.74 445.4 272.23 446.1 272.75 446.8 273.29 447.5 272.96 448.2 272.33 448.9 271.48 449.6 271.54 450.3 271.18 450.5 271.9" stroke="#d43030" stroke-width="0.65" fill="none" stroke-linejoin="round" stroke-opacity="0.85"/>
<path d="M417 273 418.5 273.4 420 272.8 421.5 273.2 423 272.7 424.5 272.9 426 272.5 427.5 272.3 428.8 272 430.1 271.7 431.3 272.3 432.3 271 433.2 269.18 434.2 271.3 435.1 273.3 436.5 272.8 437.8 273.5 439.1 273.3 439.8 272.87 440.5 273.49 441.2 273.65 441.9 272.96 442.6 273.41 443.3 272.64 444 272.33 444.7 271.53 445.4 271.39 446.1 271.29 446.8 271.47 447.5 271.28 448.2 271.7 448.9 272.17 449.6 271.36 450.3 271.11 450.5 271.2" stroke="#28289a" stroke-width="0.7" fill="none" stroke-linejoin="round" stroke-opacity="0.85"/>
<path d="M417 273 418.5 273.4 420 272.8 421.5 273.2 423 272.7 424.5 272.9 426 272.5 427.5 272.3 428.8 272 430.1 271.7 431.3 272.3 432.3 271 433.2 269 434.2 271.3 435.1 273.3 436.5 272.8 437.8 273.5 439.1 273.3 439.8 273.62 440.5 273.32 441.2 273.46 441.9 273.52 442.6 273.31 443.3 272.28 444 271.9 444.7 271.91 445.4 272.33 446.1 271.64 446.8 272.84 447.5 272.72 448.2 272.31 448.9 272.43 449.6 271.62 450.3 270.82 450.5 271.5" stroke="#1a1a1a" stroke-width="0.75" fill="none" stroke-linejoin="round"/>
<path d="M281 283 282.5 283.4 284 282.8 285.5 283.2 287 282.7 288.5 282.9 290 282.5 291.5 282.3 292.8 282 294.1 281.7 295.1 282.1 296.1 283.3 297.1 285.3 298.1 284.25 299.1 286 300.1 284.6 301.1 285.65 302.3 284.25 303.1 283 303.8 283.47 304.5 283.68 305.2 283.13 305.9 282.72 306.6 281.84 307.3 281.09 308 281.76 308.7 281.73 309.4 282.22 310.1 282.43 310.8 281.71 311.5 281.67 312.2 281.11 312.9 281.51 313.6 280.18 314.3 279.85 314.5 280.9" stroke="#d43030" stroke-width="0.65" fill="none" stroke-linejoin="round" stroke-opacity="0.85"/>
<path d="M281 283 282.5 283.4 284 282.8 285.5 283.2 287 282.7 288.5 282.9 290 282.5 291.5 282.3 292.8 282 294.1 281.7 295.1 282.1 296.1 283.3 297.1 285.3 298.1 284.25 299.1 286 300.1 284.6 301.1 285.65 302.3 284.25 303.1 283 303.8 282.86 304.5 282.6 305.2 282.94 305.9 282.9 306.6 283.16 307.3 282.55 308 281.13 308.7 281.31 309.4 280.81 310.1 280.7 310.8 281.25 311.5 280.94 312.2 281.16 312.9 281.66 313.6 280.88 314.3 280.5 314.5 280.2" stroke="#28289a" stroke-width="0.7" fill="none" stroke-linejoin="round" stroke-opacity="0.85"/>
<path d="M281 283 282.5 283.4 284 282.8 285.5 283.2 287 282.7 288.5 282.9 290 282.5 291.5 282.3 292.8 282 294.1 281.7 295.1 282.1 296.1 283.3 297.1 285.3 298.1 284.25 299.1 286 300.1 284.6 301.1 285.65 302.3 284.25 303.1 283 303.8 283.33 304.5 283.25 305.2 282.61 305.9 283.09 306.6 282.67 307.3 281.87 308 280.91 308.7 281.4 309.4 281.04 310.1 281.38 310.8 282.1 311.5 282.03 312.2 282.05 312.9 280.91 313.6 280.68 314.3 280.37 314.5 280.5" stroke="#1a1a1a" stroke-width="0.75" fill="none" stroke-linejoin="round"/>
<path d="M327 284 328.5 284.4 330 283.8 331.5 284.2 333 283.7 334.5 283.9 336 283.5 337.5 283.3 338.8 283 340.1 282.7 341.1 283.1 342.1 284.3 343.1 285.9 344.1 285 345.1 286.5 346.1 285.3 347.1 286.2 348.3 285 349.1 284 349.8 284.1 350.5 283.76 351.2 283.96 351.9 283.28 352.6 282.92 353.3 282.63 354 282.65 354.7 282.5 355.4 283.26 356.1 282.75 356.8 283.67 357.5 283.07 358.2 282.08 358.9 281.91 359.6 281.7 360.3 281.24 360.5 281.9" stroke="#d43030" stroke-width="0.65" fill="none" stroke-linejoin="round" stroke-opacity="0.85"/>
<path d="M327 284 328.5 284.4 330 283.8 331.5 284.2 333 283.7 334.5 283.9 336 283.5 337.5 283.3 338.8 283 340.1 282.7 341.1 283.1 342.1 284.3 343.1 285.9 344.1 285 345.1 286.5 346.1 285.3 347.1 286.2 348.3 285 349.1 284 349.8 282.96 350.5 284.33 351.2 283.64 351.9 283.62 352.6 283.45 353.3 282.95 354 283.13 354.7 282.26 355.4 281.87 356.1 281.65 356.8 281.3 357.5 281.8 358.2 282.64 358.9 282.55 359.6 282.38 360.3 281.22 360.5 281.2" stroke="#28289a" stroke-width="0.7" fill="none" stroke-linejoin="round" stroke-opacity="0.85"/>
<path d="M327 284 328.5 284.4 330 283.8 331.5 284.2 333 283.7 334.5 283.9 336 283.5 337.5 283.3 338.8 283 340.1 282.7 341.1 283.1 342.1 284.3 343.1 285.9 344.1 285 345.1 286.5 346.1 285.3 347.1 286.2 348.3 285 349.1 284 349.8 284.1 350.5 283.96 351.2 283.87 351.9 284.23 352.6 283.17 353.3 283.15 354 282.8 354.7 282.28 355.4 282.08 356.1 282.8 356.8 282.43 357.5 283.1 358.2 282.07 358.9 282.25 359.6 282.04 360.3 280.81 360.5 281.5" stroke="#1a1a1a" stroke-width="0.75" fill="none" stroke-linejoin="round"/>
<path d="M372 284 373.5 284.4 375 283.8 376.5 284.2 378 283.7 379.5 283.9 381 283.5 382.5 283.3 383.8 283 385.1 282.7 386.1 283.1 387.1 284.3 388.1 285.1 389.1 284.5 390.1 285.5 391.1 284.7 392.1 285.3 393.3 284.5 394.1 284 394.8 283.98 395.5 283.81 396.2 284.26 396.9 283.97 397.6 282.86 398.3 282.83 399 282.26 399.7 283.15 400.4 283.12 401.1 282.7 401.8 282.64 402.5 283.24 403.2 282.07 403.9 282.53 404.6 281.41 405.3 281.03 405.5 281.9" stroke="#d43030" stroke-width="0.65" fill="none" stroke-linejoin="round" stroke-opacity="0.85"/>
<path d="M372 284 373.5 284.4 375 283.8 376.5 284.2 378 283.7 379.5 283.9 381 283.5 382.5 283.3 383.8 283 385.1 282.7 386.1 283.1 387.1 284.3 388.1 285.1 389.1 284.5 390.1 285.5 391.1 284.7 392.1 285.3 393.3 284.5 394.1 284 394.8 283.99 395.5 283.23 396.2 284.02 396.9 283.52 397.6 284.18 398.3 283.31 399 283.06 399.7 282.2 400.4 282.07 401.1 281.96 401.8 281.6 402.5 281.69 403.2 282.6 403.9 281.76 404.6 282.45 405.3 281.16 405.5 281.2" stroke="#28289a" stroke-width="0.7" fill="none" stroke-linejoin="round" stroke-opacity="0.85"/>
<path d="M372 284 373.5 284.4 375 283.8 376.5 284.2 378 283.7 379.5 283.9 381 283.5 382.5 283.3 383.8 283 385.1 282.7 386.1 283.1 387.1 284.3 388.1 285.1 389.1 284.5 390.1 285.5 391.1 284.7 392.1 285.3 393.3 284.5 394.1 284 394.8 284.12 395.5 283.96 396.2 284.21 396.9 283.46 397.6 283.91 398.3 282.68 399 282.85 399.7 281.75 400.4 282.49 401.1 282.86 401.8 282.37 402.5 282.09 403.2 282.46 403.9 282.5 404.6 281.54 405.3 281.4 405.5 281.5" stroke="#1a1a1a" stroke-width="0.75" fill="none" stroke-linejoin="round"/>
<text transform="translate(266.7 14.3) scale(0.8 1)" class="el">FP1</text>
<text transform="translate(396.7 15.3) scale(0.8 1)" class="el">FP2</text>
<text transform="translate(206.7 35.3) scale(0.8 1)" class="el">AF7</text>
<text transform="translate(268.7 44.3) scale(0.8 1)" class="el">AF3</text>
<text transform="translate(331.7 49.3) scale(0.8 1)" class="el">AFz</text>
<text transform="translate(397.7 45.3) scale(0.8 1)" class="el">AF4</text>
<text transform="translate(457.7 34.3) scale(0.8 1)" class="el">AF8</text>
<text transform="translate(115.7 56.3) scale(0.8 1)" class="el">F9</text>
<text transform="translate(157.7 73.3) scale(0.8 1)" class="el">F7</text>
<text transform="translate(201.7 79.3) scale(0.8 1)" class="el">F5</text>
<text transform="translate(245.7 84.3) scale(0.8 1)" class="el">F3</text>
<text transform="translate(289.7 87.3) scale(0.8 1)" class="el">F1</text>
<text transform="translate(332.7 87.3) scale(0.8 1)" class="el">Fz</text>
<text transform="translate(377.7 86.3) scale(0.8 1)" class="el">F2</text>
<text transform="translate(419.7 82.3) scale(0.8 1)" class="el">F4</text>
<text transform="translate(464.7 79.3) scale(0.8 1)" class="el">F6</text>
<text transform="translate(505.7 72.3) scale(0.8 1)" class="el">F8</text>
<text transform="translate(549.7 57.3) scale(0.8 1)" class="el">F10</text>
<text transform="translate(84.7 120.3) scale(0.8 1)" class="el">FT9</text>
<text transform="translate(131.7 126.3) scale(0.8 1)" class="el">FT7</text>
<text transform="translate(184.7 125.3) scale(0.8 1)" class="el">FC5</text>
<text transform="translate(236.7 124.3) scale(0.8 1)" class="el">FC3</text>
<text transform="translate(285.7 125.3) scale(0.8 1)" class="el">FC1</text>
<text transform="translate(332.7 124.3) scale(0.8 1)" class="el">FCz</text>
<text transform="translate(379.7 124.3) scale(0.8 1)" class="el">FC2</text>
<text transform="translate(429.7 123.3) scale(0.8 1)" class="el">FC4</text>
<text transform="translate(479.7 124.3) scale(0.8 1)" class="el">FC6</text>
<text transform="translate(531.7 123.3) scale(0.8 1)" class="el">FT8</text>
<text transform="translate(578.7 120.3) scale(0.8 1)" class="el">FT10</text>
<text transform="translate(88.7 185.3) scale(0.8 1)" class="el">T9</text>
<text transform="translate(135.7 179.3) scale(0.8 1)" class="el">T3</text>
<text transform="translate(187.7 169.3) scale(0.8 1)" class="el">C5</text>
<text transform="translate(237.7 164.3) scale(0.8 1)" class="el">C3</text>
<text transform="translate(286.7 161.3) scale(0.8 1)" class="el">C1</text>
<text transform="translate(332.7 160.3) scale(0.8 1)" class="el">Cz</text>
<text transform="translate(379.7 161.3) scale(0.8 1)" class="el">C2</text>
<text transform="translate(427.7 162.3) scale(0.8 1)" class="el">C4</text>
<text transform="translate(477.7 168.3) scale(0.8 1)" class="el">C6</text>
<text transform="translate(528.7 177.3) scale(0.8 1)" class="el">T8</text>
<text transform="translate(574.7 186.3) scale(0.8 1)" class="el">T10</text>
<text transform="translate(159.7 221.3) scale(0.8 1)" class="el">TP7</text>
<text transform="translate(203.7 207.3) scale(0.8 1)" class="el">CP5</text>
<text transform="translate(247.7 197.3) scale(0.8 1)" class="el">CP3</text>
<text transform="translate(290.7 191.3) scale(0.8 1)" class="el">CP1</text>
<text transform="translate(332.7 190.3) scale(0.8 1)" class="el">CPz</text>
<text transform="translate(375.7 192.3) scale(0.8 1)" class="el">CP2</text>
<text transform="translate(418.7 196.3) scale(0.8 1)" class="el">CP4</text>
<text transform="translate(462.7 205.3) scale(0.8 1)" class="el">CP6</text>
<text transform="translate(504.7 219.3) scale(0.8 1)" class="el">TP8</text>
<text transform="translate(198.7 252.3) scale(0.8 1)" class="el">P7</text>
<text transform="translate(229.7 237.3) scale(0.8 1)" class="el">P5</text>
<text transform="translate(262.7 228.3) scale(0.8 1)" class="el">P3</text>
<text transform="translate(298.7 222.3) scale(0.8 1)" class="el">P1</text>
<text transform="translate(332.7 221.3) scale(0.8 1)" class="el">Pz</text>
<text transform="translate(368.7 221.3) scale(0.8 1)" class="el">P2</text>
<text transform="translate(403.7 226.3) scale(0.8 1)" class="el">P4</text>
<text transform="translate(435.7 237.3) scale(0.8 1)" class="el">P6</text>
<text transform="translate(465.7 252.3) scale(0.8 1)" class="el">P8</text>
<text transform="translate(168.7 274.3) scale(0.8 1)" class="el">P9</text>
<text transform="translate(494.7 274.3) scale(0.8 1)" class="el">P10</text>
<text transform="translate(241.7 271.3) scale(0.8 1)" class="el">PO7</text>
<text transform="translate(281.7 254.3) scale(0.8 1)" class="el">PO3</text>
<text transform="translate(332.7 250.3) scale(0.8 1)" class="el">POz</text>
<text transform="translate(382.7 254.3) scale(0.8 1)" class="el">PO4</text>
<text transform="translate(422.7 269.3) scale(0.8 1)" class="el">PO8</text>
<text transform="translate(286.7 279.3) scale(0.8 1)" class="el">O1</text>
<text transform="translate(332.7 280.3) scale(0.8 1)" class="el">Oz</text>
<text transform="translate(377.7 280.3) scale(0.8 1)" class="el">O2</text>
</g>
<rect x="251.25" y="35.5" width="177.65" height="31.2" fill="none" stroke="#17479b" stroke-width="3.0"/>
<rect x="235.5" y="71.5" width="214" height="37.75" fill="none" stroke="#17479b" stroke-width="3.0"/>
<rect x="227.7" y="148.5" width="233.3" height="34.7" fill="none" stroke="#17479b" stroke-width="3.0"/>
<rect x="289" y="214" width="103.25" height="24" fill="none" stroke="#17479b" stroke-width="3.0"/>
<rect x="185.4" y="324.4" width="59.6" height="2.6" fill="#000"/>
<rect x="296.7" y="324.4" width="58.8" height="2.6" fill="#c41c1c"/>
<rect x="403" y="324.4" width="59.5" height="2.6" fill="#0c0c72"/>
<text transform="translate(251.88 322) scale(0.9672 1)" class="lg" style="font-size:12.5px">Happy</text>
<text transform="translate(369.31 322) scale(0.9832 1)" class="lg" style="font-size:12.5px">Sad</text>
<text transform="translate(474.87 322) scale(0.9816 1)" class="lg" style="font-size:12.5px">Fear</text>
<path d="M574.5 289.2V320M573.3 289.2H575.7M573.3 320H575.7M566 300.9H599.3M566 299.7V302.1M599.3 299.7V302.1" stroke="#8a8a8a" stroke-width="0.8" fill="none"/>
<text x="560.5" y="291" class="sc" text-anchor="end">−5</text>
<text x="560.5" y="321.5" class="sc" text-anchor="end">−8</text>
<text x="566" y="331" class="sc" text-anchor="middle">−200</text>
<text x="599.5" y="331" class="sc" text-anchor="middle">596</text>
<text x="582.5" y="347" class="sc" text-anchor="middle">Time (ms)</text>
<text x="2.5" y="28.7" class="big">A.</text>
<text x="2.3" y="365" class="big">B.</text>
<rect x="58.6" y="468" width="29.8" height="162.9" fill="#f2323a"/>
<rect x="88.4" y="423.8" width="30.9" height="207.1" fill="#3d59a9"/>
<rect x="134" y="468.6" width="30.4" height="162.3" fill="#f2323a"/>
<rect x="164.4" y="457.8" width="31.2" height="173.1" fill="#3d59a9"/>
<rect x="211" y="439.4" width="30.4" height="191.5" fill="#f2323a"/>
<rect x="241.4" y="481.6" width="30.2" height="149.3" fill="#3d59a9"/>
<path d="M73.9 445.5V490.7M70.3 445.5H77.5M70.3 490.7H77.5M104.1 399.3V448.1M100.5 399.3H107.7M100.5 448.1H107.7M150 447.6V489.6M146.4 447.6H153.6M146.4 489.6H153.6M180 426V489.6M176.4 426H183.6M176.4 489.6H183.6M226.4 417.2V462.2M222.8 417.2H230M222.8 462.2H230M256.4 461.6V502.1M252.8 461.6H260M252.8 502.1H260" stroke="#000" stroke-opacity="0.72" stroke-width="1.35" fill="none"/>
<path d="M47 378V630.9M40.5 630.9H281.9M40.5 630.9H47M40.5 570.25H47M40.5 509.6H47M40.5 448.95H47M40.5 388.3H47M43.8 600.57H47M43.8 539.92H47M43.8 479.27H47M43.8 418.62H47" stroke="#4a4a4a" stroke-width="1.6" fill="none"/>
<text x="39.5" y="637.62" class="tk" style="font-size:17px" text-anchor="end">0</text>
<text x="39.5" y="576.97" class="tk" style="font-size:17px" text-anchor="end">1</text>
<text x="39.5" y="516.32" class="tk" style="font-size:17px" text-anchor="end">2</text>
<text x="39.5" y="455.67" class="tk" style="font-size:17px" text-anchor="end">3</text>
<text x="39.5" y="395.02" class="tk" style="font-size:17px" text-anchor="end">4</text>
<text transform="translate(69.33 648.8) scale(1.0483 1)" class="tk" style="font-size:18px">Fear</text>
<text transform="translate(137.7 648.8) scale(1.0020 1)" class="tk" style="font-size:18px">Happy</text>
<text transform="translate(225.28 648.8) scale(1.0283 1)" class="tk" style="font-size:18px">Sad</text>
<text transform="translate(18.7 503) rotate(-90)" class="tk" style="font-size:18.4px" text-anchor="middle">N100 Mean Amplitude (μV)</text>
<rect x="417.4" y="405.2" width="27.4" height="227.6" fill="#f2323a"/>
<rect x="444.8" y="401.8" width="28.6" height="231" fill="#3d59a9"/>
<rect x="488" y="403.8" width="28" height="229" fill="#f2323a"/>
<rect x="516" y="402.4" width="28.4" height="230.4" fill="#3d59a9"/>
<rect x="559" y="399" width="27.8" height="233.8" fill="#f2323a"/>
<rect x="586.8" y="404.4" width="28.8" height="228.4" fill="#3d59a9"/>
<path d="M431.4 401.6V409.4M427.8 401.6H435M427.8 409.4H435M459.4 398V405.6M455.8 398H463M455.8 405.6H463M502 400.2V407.6M498.4 400.2H505.6M498.4 407.6H505.6M530.2 398.6V406.6M526.6 398.6H533.8M526.6 406.6H533.8M573 396V402.4M569.4 396H576.6M569.4 402.4H576.6M601 400.6V408.2M597.4 400.6H604.6M597.4 408.2H604.6" stroke="#000" stroke-opacity="0.72" stroke-width="1.35" fill="none"/>
<path d="M406 377.6V632.8M399.5 632.8H623.9M399.5 632.8H406M399.5 550.43H406M399.5 468.07H406M399.5 385.7H406M402.8 591.62H406M402.8 509.25H406M402.8 426.89H406" stroke="#4a4a4a" stroke-width="1.6" fill="none"/>
<text x="397.9" y="638.91" class="tk" style="font-size:17.8px" text-anchor="end">0</text>
<text x="397.9" y="556.54" class="tk" style="font-size:17.8px" text-anchor="end">50</text>
<text x="397.9" y="474.18" class="tk" style="font-size:17.8px" text-anchor="end">100</text>
<text x="397.9" y="391.81" class="tk" style="font-size:17.8px" text-anchor="end">150</text>
<text transform="translate(428.43 647.8) scale(1.0123 1)" class="tk" style="font-size:16.6px">Fear</text>
<text transform="translate(491.44 647.8) scale(1.0107 1)" class="tk" style="font-size:16.6px">Happy</text>
<text transform="translate(572.03 647.8) scale(1.0253 1)" class="tk" style="font-size:16.6px">Sad</text>
<text transform="translate(357.5 502.5) rotate(-90)" class="tk" style="font-size:19.1px" text-anchor="middle">N100 Mean Latency (ms)</text>
<rect x="59.6" y="753.6" width="30" height="205.6" fill="#f2323a"/>
<rect x="89.6" y="830" width="30.4" height="129.2" fill="#3d59a9"/>
<rect x="136" y="759.2" width="30" height="200" fill="#f2323a"/>
<rect x="166" y="802.6" width="30.4" height="156.6" fill="#3d59a9"/>
<rect x="212" y="740.6" width="30.4" height="218.6" fill="#f2323a"/>
<rect x="242.4" y="784" width="30.2" height="175.2" fill="#3d59a9"/>
<path d="M75 739.4V768.4M71.4 739.4H78.6M71.4 768.4H78.6M105 809V851.4M101.4 809H108.6M101.4 851.4H108.6M151 746.4V772.4M147.4 746.4H154.6M147.4 772.4H154.6M181 780.6V825M177.4 780.6H184.6M177.4 825H184.6M227.4 725.8V755.2M223.8 725.8H231M223.8 755.2H231M257 762.4V805.4M253.4 762.4H260.6M253.4 805.4H260.6" stroke="#000" stroke-opacity="0.72" stroke-width="1.35" fill="none"/>
<path d="M47.5 709V959.2M41 959.2H281.9M41 959.2H47.5M41 899.32H47.5M41 839.44H47.5M41 779.56H47.5M41 719.68H47.5M44.3 929.26H47.5M44.3 869.38H47.5M44.3 809.5H47.5M44.3 749.62H47.5" stroke="#4a4a4a" stroke-width="1.6" fill="none"/>
<text x="40" y="966.1" class="tk" style="font-size:17.5px" text-anchor="end">0</text>
<text x="40" y="906.22" class="tk" style="font-size:17.5px" text-anchor="end">2</text>
<text x="40" y="846.34" class="tk" style="font-size:17.5px" text-anchor="end">4</text>
<text x="40" y="786.46" class="tk" style="font-size:17.5px" text-anchor="end">6</text>
<text x="40" y="726.58" class="tk" style="font-size:17.5px" text-anchor="end">8</text>
<text transform="translate(69.99 976.6) scale(1.0739 1)" class="tk" style="font-size:18px">Fear</text>
<text transform="translate(139.2 976.6) scale(1.0020 1)" class="tk" style="font-size:18px">Happy</text>
<text transform="translate(225.86 976.6) scale(1.0449 1)" class="tk" style="font-size:18px">Sad</text>
<text transform="translate(18.6 832.4) rotate(-90)" class="tk" style="font-size:18.2px" text-anchor="middle">P200 Mean Amplitude (μV)</text>
<rect x="417" y="766" width="27.4" height="192.6" fill="#f2323a"/>
<rect x="444.4" y="767.8" width="28.6" height="190.8" fill="#3d59a9"/>
<rect x="487.6" y="767.6" width="28.4" height="191" fill="#f2323a"/>
<rect x="516" y="769.4" width="28.6" height="189.2" fill="#3d59a9"/>
<rect x="558.6" y="768.6" width="28" height="190" fill="#f2323a"/>
<rect x="586.6" y="766.6" width="28.6" height="192" fill="#3d59a9"/>
<path d="M431 764.4V769M427.4 764.4H434.6M427.4 769H434.6M459.4 765.2V770.4M455.8 765.2H463M455.8 770.4H463M502 765.4V770M498.4 765.4H505.6M498.4 770H505.6M530 766.6V772.6M526.4 766.6H533.6M526.4 772.6H533.6M573 766.6V770.6M569.4 766.6H576.6M569.4 770.6H576.6M601 764V769.6M597.4 764H604.6M597.4 769.6H604.6" stroke="#000" stroke-opacity="0.72" stroke-width="1.35" fill="none"/>
<path d="M405.7 711.4V958.6M399.2 958.6H624M399.2 958.6H405.7M399.2 910.88H405.7M399.2 863.16H405.7M399.2 815.44H405.7M399.2 767.72H405.7M399.2 720H405.7M402.5 934.74H405.7M402.5 887.02H405.7M402.5 839.3H405.7M402.5 791.58H405.7M402.5 743.86H405.7" stroke="#4a4a4a" stroke-width="1.6" fill="none"/>
<text x="397.6" y="964.89" class="tk" style="font-size:17.2px" text-anchor="end">0</text>
<text x="397.6" y="917.17" class="tk" style="font-size:17.2px" text-anchor="end">50</text>
<text x="397.6" y="869.45" class="tk" style="font-size:17.2px" text-anchor="end">100</text>
<text x="397.6" y="821.73" class="tk" style="font-size:17.2px" text-anchor="end">150</text>
<text x="397.6" y="774.01" class="tk" style="font-size:17.2px" text-anchor="end">200</text>
<text x="397.6" y="726.29" class="tk" style="font-size:17.2px" text-anchor="end">250</text>
<text transform="translate(428.29 973.4) scale(1.0076 1)" class="tk" style="font-size:16.8px">Fear</text>
<text transform="translate(491.28 973.4) scale(1.0127 1)" class="tk" style="font-size:16.8px">Happy</text>
<text transform="translate(572.04 973.4) scale(1.0196 1)" class="tk" style="font-size:16.8px">Sad</text>
<text transform="translate(356.6 831.6) rotate(-90)" class="tk" style="font-size:19.1px" text-anchor="middle">P200 Mean Latency (ms)</text>
<text transform="translate(631.6 427.4) scale(1.0035 1)" class="lg2" style="font-size:15.8px">Group</text>
<rect x="625" y="437.6" width="15.4" height="13.4" fill="#f2323a"/>
<rect x="625" y="454.6" width="15.4" height="13.4" fill="#3d59a9"/>
<text transform="translate(642.6 450) scale(1.0796 1)" class="lg2" style="font-size:15.8px">MDD</text>
<text transform="translate(642.59 467.4) scale(1.0813 1)" class="lg2" style="font-size:15.8px">HC</text>
<text transform="translate(513.72 1002.1) scale(1.0181 1)" class="tk" style="font-size:18.7px">Error bars 95% CI</text>
</svg>
</body></html>
